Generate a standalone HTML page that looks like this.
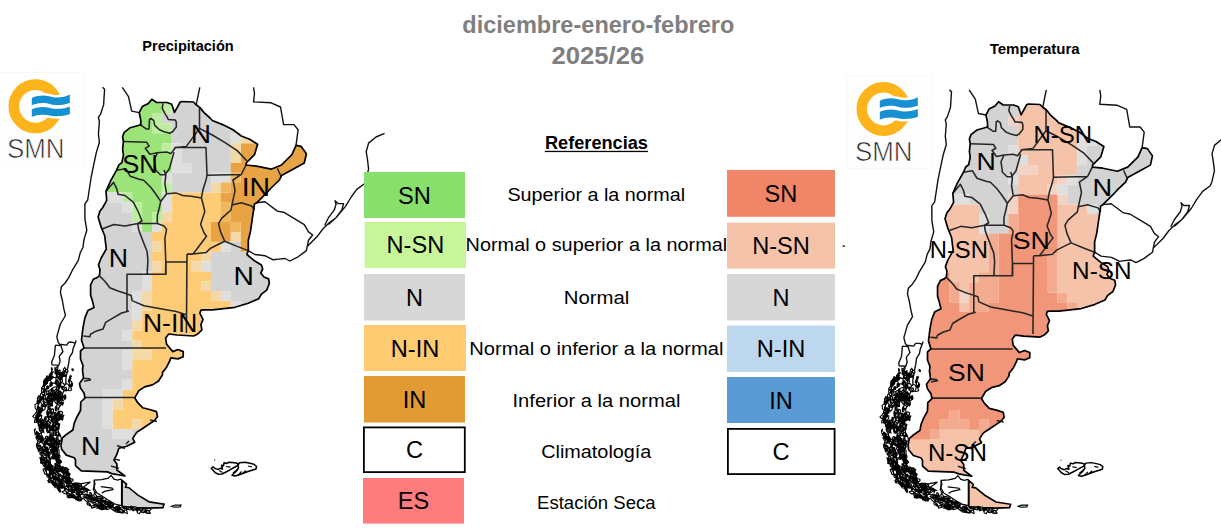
<!DOCTYPE html>
<html><head><meta charset="utf-8"><style>html,body{margin:0;padding:0;background:#fff;overflow:hidden}svg{display:block}text{font-family:"Liberation Sans",sans-serif}</style></head>
<body><svg width="1221" height="530" viewBox="0 0 1221 530"><g transform="translate(0,0)"><defs><clipPath id="clipL"><path d="M139.2,112.6 L142.3,106.6 L148.3,103.6 L151.9,99.2 L156.6,102.5 L167.0,102.5 L171.7,104.3 L174.5,112.4 L180.2,102.0 L182.1,101.5 L193.4,102.0 L196.2,104.8 L200.0,107.6 L203.8,112.4 L210.0,118.0 L212.3,120.5 L222.6,124.6 L233.0,129.8 L241.3,136.0 L249.6,139.2 L257.6,144.3 L254.5,154.7 L246.2,163.0 L246.2,165.0 L256.6,166.1 L271.1,169.2 L281.5,165.0 L291.9,154.7 L296.0,145.4 L301.2,146.4 L306.4,153.7 L304.3,163.0 L293.0,169.2 L281.5,175.5 L279.4,180.0 L271.1,188.0 L267.0,192.5 L256.6,202.8 L254.5,204.0 L252.5,217.4 L250.4,231.9 L248.3,240.2 L248.3,250.6 L246.9,254.5 L254.8,261.1 L261.4,265.1 L262.7,269.0 L260.7,273.0 L264.0,277.0 L268.6,278.9 L269.3,283.5 L266.7,290.1 L261.4,294.1 L258.7,298.7 L248.2,303.3 L235.0,307.3 L212.5,309.9 L204.2,309.9 L200.9,310.1 L199.8,313.2 L203.0,319.4 L200.9,324.6 L201.9,329.8 L197.7,334.0 L193.6,336.0 L177.0,335.0 L168.7,334.0 L165.6,338.1 L166.6,344.3 L172.8,351.6 L178.0,349.5 L183.2,351.6 L183.2,356.8 L178.0,358.9 L170.8,357.8 L169.7,361.0 L166.6,367.2 L162.5,372.4 L162.4,375.0 L158.5,381.0 L152.5,384.9 L144.6,386.9 L138.7,390.8 L134.7,397.8 L137.7,402.7 L142.6,407.7 L150.5,409.7 L156.5,411.6 L157.5,416.6 L154.5,420.5 L142.6,428.5 L136.7,432.4 L132.7,438.4 L134.7,442.3 L126.8,446.3 L118.9,448.3 L116.9,454.2 L113.9,460.1 L116.9,464.1 L116.9,470.0 L124.9,476.0 L111.9,473.6 L107.4,471.9 L81.3,470.8 L75.5,465.7 L75.5,460.0 L74.2,457.7 L66.3,455.1 L61.5,449.0 L61.0,445.0 L62.3,437.9 L67.0,434.0 L72.9,430.0 L74.2,423.4 L76.9,417.0 L80.5,410.5 L80.8,402.0 L85.0,398.0 L84.0,393.0 L80.5,388.0 L79.5,383.5 L83.5,378.0 L82.5,370.0 L83.0,365.5 L80.5,359.0 L80.5,351.0 L84.0,347.9 L81.5,340.0 L82.7,330.0 L83.4,325.5 L84.9,317.9 L87.9,310.4 L94.0,307.4 L92.5,301.3 L90.6,295.0 L90.6,284.9 L93.4,279.2 L97.7,277.2 L99.5,275.5 L100.0,269.6 L98.5,265.1 L100.9,258.5 L104.0,253.0 L106.3,249.0 L104.7,235.8 L100.9,226.4 L98.1,217.0 L100.0,211.0 L102.8,207.5 L106.7,200.4 L106.0,191.3 L110.6,180.8 L116.6,170.2 L118.9,164.9 L121.9,162.6 L123.4,155.1 L122.6,149.1 L123.4,141.5 L122.6,136.8 L124.2,132.3 L130.2,127.7 L140.8,124.7 L140.8,120.2Z"/></clipPath></defs><g clip-path="url(#clipL)"><path d="M53.40,93.93h39.50v9.96h-39.50ZM171.60,93.93h138.00v9.96h-138.00ZM53.40,103.79h39.50v9.96h-39.50ZM171.60,103.79h138.00v9.96h-138.00ZM53.40,113.64h39.50v9.96h-39.50ZM161.75,113.64h147.85v9.96h-147.85ZM53.40,123.50h39.50v9.96h-39.50ZM171.60,123.50h69.05v9.96h-69.05ZM53.40,133.35h39.50v9.96h-39.50ZM171.60,133.35h59.20v9.96h-59.20ZM53.40,143.20h39.50v9.96h-39.50ZM181.45,143.20h49.35v9.96h-49.35ZM53.40,153.06h39.50v9.96h-39.50ZM181.45,153.06h49.35v9.96h-49.35ZM53.40,162.91h39.50v9.96h-39.50ZM191.30,162.91h39.50v9.96h-39.50ZM53.40,172.77h39.50v9.96h-39.50ZM171.60,172.77h39.50v9.96h-39.50ZM53.40,182.62h39.50v9.96h-39.50ZM171.60,182.62h39.50v9.96h-39.50ZM53.40,192.48h39.50v9.96h-39.50ZM53.40,202.33h69.05v9.96h-69.05ZM53.40,212.19h78.90v9.96h-78.90ZM53.40,222.05h78.90v9.96h-78.90ZM53.40,231.90h98.60v9.96h-98.60ZM53.40,241.75h98.60v9.96h-98.60ZM230.70,241.75h9.95v9.96h-9.95ZM53.40,251.61h98.60v9.96h-98.60ZM211.00,251.61h88.75v9.96h-88.75ZM53.40,261.46h98.60v9.96h-98.60ZM211.00,261.46h88.75v9.96h-88.75ZM53.40,271.32h88.75v9.96h-88.75ZM211.00,271.32h88.75v9.96h-88.75ZM53.40,281.18h88.75v9.96h-88.75ZM211.00,281.18h88.75v9.96h-88.75ZM53.40,291.03h78.90v9.96h-78.90ZM230.70,291.03h69.05v9.96h-69.05ZM53.40,300.88h78.90v9.96h-78.90ZM240.55,300.88h59.20v9.96h-59.20ZM53.40,310.74h78.90v9.96h-78.90ZM250.40,310.74h49.35v9.96h-49.35ZM53.40,320.59h78.90v9.96h-78.90ZM250.40,320.59h49.35v9.96h-49.35ZM53.40,330.45h69.05v9.96h-69.05ZM53.40,340.31h78.90v9.96h-78.90ZM53.40,350.16h69.05v9.96h-69.05ZM53.40,360.02h69.05v9.96h-69.05ZM53.40,369.87h78.90v9.96h-78.90ZM53.40,379.72h69.05v9.96h-69.05ZM53.40,389.58h49.35v9.96h-49.35ZM53.40,399.44h49.35v9.96h-49.35ZM53.40,409.29h49.35v9.96h-49.35ZM53.40,419.15h49.35v9.96h-49.35ZM53.40,429.00h59.20v9.96h-59.20ZM132.20,429.00h39.50v9.96h-39.50ZM53.40,438.85h256.20v9.96h-256.20ZM53.40,448.71h256.20v9.96h-256.20ZM53.40,458.56h256.20v9.96h-256.20ZM53.40,468.42h256.20v9.96h-256.20ZM53.40,478.28h256.20v9.96h-256.20ZM53.40,488.13h256.20v9.96h-256.20ZM53.40,497.98h256.20v9.96h-256.20ZM53.40,507.84h256.20v9.96h-256.20Z" fill="#D3D3D3"/><path d="M92.80,93.93h69.05v9.96h-69.05ZM92.80,103.79h69.05v9.96h-69.05ZM92.80,113.64h59.20v9.96h-59.20ZM92.80,123.50h59.20v9.96h-59.20ZM92.80,133.35h78.90v9.96h-78.90ZM92.80,143.20h69.05v9.96h-69.05ZM92.80,153.06h78.90v9.96h-78.90ZM92.80,162.91h78.90v9.96h-78.90ZM92.80,172.77h69.05v9.96h-69.05ZM92.80,182.62h69.05v9.96h-69.05ZM132.20,192.48h29.65v9.96h-29.65ZM142.05,202.33h19.80v9.96h-19.80ZM142.05,212.19h9.95v9.96h-9.95ZM142.05,222.05h9.95v9.96h-9.95Z" fill="#9CE479"/><path d="M161.75,93.93h9.95v9.96h-9.95ZM161.75,103.79h9.95v9.96h-9.95ZM151.90,113.64h9.95v9.96h-9.95ZM151.90,123.50h19.80v9.96h-19.80ZM161.75,143.20h9.95v9.96h-9.95ZM161.75,182.62h9.95v9.96h-9.95ZM122.35,192.48h9.95v9.96h-9.95ZM132.20,202.33h9.95v9.96h-9.95ZM132.20,212.19h9.95v9.96h-9.95ZM151.90,212.19h9.95v9.96h-9.95Z" fill="#BDEEA0"/><path d="M240.55,123.50h19.80v9.96h-19.80ZM171.60,192.48h49.35v9.96h-49.35ZM171.60,202.33h49.35v9.96h-49.35ZM260.25,202.33h49.35v9.96h-49.35ZM171.60,212.19h49.35v9.96h-49.35ZM260.25,212.19h49.35v9.96h-49.35ZM161.75,222.05h49.35v9.96h-49.35ZM260.25,222.05h49.35v9.96h-49.35ZM151.90,231.90h59.20v9.96h-59.20ZM260.25,231.90h49.35v9.96h-49.35ZM161.75,241.75h59.20v9.96h-59.20ZM260.25,241.75h49.35v9.96h-49.35ZM151.90,251.61h49.35v9.96h-49.35ZM299.65,251.61h9.95v9.96h-9.95ZM161.75,261.46h29.65v9.96h-29.65ZM299.65,261.46h9.95v9.96h-9.95ZM151.90,271.32h59.20v9.96h-59.20ZM299.65,271.32h9.95v9.96h-9.95ZM151.90,281.18h49.35v9.96h-49.35ZM299.65,281.18h9.95v9.96h-9.95ZM151.90,291.03h59.20v9.96h-59.20ZM299.65,291.03h9.95v9.96h-9.95ZM151.90,300.88h78.90v9.96h-78.90ZM299.65,300.88h9.95v9.96h-9.95ZM142.05,310.74h108.45v9.96h-108.45ZM299.65,310.74h9.95v9.96h-9.95ZM142.05,320.59h108.45v9.96h-108.45ZM299.65,320.59h9.95v9.96h-9.95ZM132.20,330.45h177.40v9.96h-177.40ZM142.05,340.31h167.55v9.96h-167.55ZM151.90,350.16h157.70v9.96h-157.70ZM132.20,360.02h177.40v9.96h-177.40ZM132.20,369.87h177.40v9.96h-177.40ZM132.20,379.72h177.40v9.96h-177.40ZM122.35,389.58h187.25v9.96h-187.25ZM122.35,399.44h187.25v9.96h-187.25ZM112.50,409.29h197.10v9.96h-197.10ZM112.50,419.15h19.80v9.96h-19.80ZM142.05,419.15h167.55v9.96h-167.55ZM171.60,429.00h138.00v9.96h-138.00Z" fill="#FECB77"/><path d="M260.25,123.50h49.35v9.96h-49.35ZM260.25,133.35h49.35v9.96h-49.35ZM240.55,143.20h69.05v9.96h-69.05ZM240.55,153.06h69.05v9.96h-69.05ZM230.70,162.91h78.90v9.96h-78.90ZM240.55,172.77h69.05v9.96h-69.05ZM230.70,182.62h78.90v9.96h-78.90ZM220.85,192.48h88.75v9.96h-88.75ZM230.70,202.33h29.65v9.96h-29.65ZM230.70,212.19h29.65v9.96h-29.65ZM211.00,222.05h19.80v9.96h-19.80ZM240.55,222.05h19.80v9.96h-19.80ZM211.00,231.90h19.80v9.96h-19.80ZM240.55,231.90h19.80v9.96h-19.80ZM240.55,241.75h19.80v9.96h-19.80Z" fill="#E8A444"/><path d="M230.70,133.35h9.95v9.96h-9.95ZM171.60,143.20h9.95v9.96h-9.95ZM171.60,153.06h9.95v9.96h-9.95ZM171.60,162.91h19.80v9.96h-19.80ZM161.75,172.77h9.95v9.96h-9.95ZM211.00,172.77h19.80v9.96h-19.80ZM92.80,192.48h29.65v9.96h-29.65ZM161.75,192.48h9.95v9.96h-9.95ZM122.35,202.33h9.95v9.96h-9.95ZM161.75,202.33h9.95v9.96h-9.95ZM132.20,222.05h9.95v9.96h-9.95ZM151.90,222.05h9.95v9.96h-9.95ZM220.85,241.75h9.95v9.96h-9.95ZM201.15,261.46h9.95v9.96h-9.95ZM142.05,271.32h9.95v9.96h-9.95ZM142.05,281.18h9.95v9.96h-9.95ZM132.20,291.03h9.95v9.96h-9.95ZM220.85,291.03h9.95v9.96h-9.95ZM132.20,300.88h9.95v9.96h-9.95ZM230.70,300.88h9.95v9.96h-9.95ZM132.20,310.74h9.95v9.96h-9.95ZM122.35,330.45h9.95v9.96h-9.95ZM122.35,350.16h9.95v9.96h-9.95ZM122.35,360.02h9.95v9.96h-9.95ZM122.35,379.72h9.95v9.96h-9.95ZM102.65,389.58h19.80v9.96h-19.80ZM102.65,399.44h9.95v9.96h-9.95ZM102.65,409.29h9.95v9.96h-9.95ZM102.65,419.15h9.95v9.96h-9.95ZM112.50,429.00h19.80v9.96h-19.80Z" fill="#DFDFDF"/><path d="M240.55,133.35h19.80v9.96h-19.80ZM230.70,143.20h9.95v9.96h-9.95ZM230.70,153.06h9.95v9.96h-9.95ZM211.00,182.62h9.95v9.96h-9.95ZM161.75,212.19h9.95v9.96h-9.95ZM230.70,231.90h9.95v9.96h-9.95ZM151.90,241.75h9.95v9.96h-9.95ZM201.15,251.61h9.95v9.96h-9.95ZM151.90,261.46h9.95v9.96h-9.95ZM191.30,261.46h9.95v9.96h-9.95ZM201.15,281.18h9.95v9.96h-9.95ZM142.05,291.03h9.95v9.96h-9.95ZM211.00,291.03h9.95v9.96h-9.95ZM142.05,300.88h9.95v9.96h-9.95ZM132.20,320.59h9.95v9.96h-9.95ZM132.20,340.31h9.95v9.96h-9.95ZM132.20,350.16h19.80v9.96h-19.80ZM112.50,399.44h9.95v9.96h-9.95ZM132.20,419.15h9.95v9.96h-9.95Z" fill="#F3D8A8"/><path d="M230.70,172.77h9.95v9.96h-9.95ZM220.85,182.62h9.95v9.96h-9.95ZM220.85,202.33h9.95v9.96h-9.95ZM220.85,212.19h9.95v9.96h-9.95ZM230.70,222.05h9.95v9.96h-9.95Z" fill="#F2B65C"/></g><path d="M122.1,480.4 L126.6,484.3 L125.5,487.2 L128.9,487.7 L138.0,495.1 L149.3,501.9 L164.0,504.2 L162.9,507.6 L149.3,508.1 L133.4,507.6 L122.1,506.4Z" fill="#D3D3D3" stroke="#000" stroke-width="1.6"/><path d="M163.1,103.4 L162.2,108.2 L164.5,112.9 L166.9,116.6 L168.3,119.5 L175.4,120.0 L176.3,122.3 L176.3,127.0 L172.6,131.7 L169.7,133.2 L164.1,131.7 L159.4,129.8 L154.6,125.1 L153.7,120.4 L150.9,118.5 L149.5,119.5 L149.0,128.9 L146.2,128.9 L139.5,124.2 M199.5,107.6 L199.5,128.4 L212.3,135.0 L224.7,142.3 L237.2,150.6 L247.0,161.0 M199.5,128.4 L186.3,146.4 L174.9,147.5 L206.0,147.5 L207.0,175.3 L241.3,174.4 M123.4,141.5 L146.8,142.3 L149.1,146.0 L145.3,148.3 L149.8,154.3 L157.4,152.8 L166.4,152.1 L170.9,153.6 L175.5,147.5 M157.4,152.8 L154.3,159.6 L155.8,170.2 L160.4,174.7 L164.9,174.7 L169.4,168.7 L174.0,152.1 M164.0,170.0 L165.8,175.1 L164.9,183.6 L166.6,193.8 L160.7,201.4 M116.6,170.2 L125.7,168.7 L130.2,176.2 L139.2,179.2 L143.7,180.2 L150.5,187.0 L155.6,193.8 L160.7,201.4 L159.0,209.0 L157.3,215.8 L157.3,223.5 M166.6,193.8 L175.9,192.9 L182.7,195.5 L191.2,196.3 L201.4,198.0 L203.1,204.0 L204.8,211.6 L200.6,224.3 L204.0,232.8 L206.5,236.2 L196.3,249.8 L192.9,254.1 L187.0,254.1 M207.0,175.3 L206.0,180.0 L202.9,190.0 L201.4,198.0 M192.9,254.1 L206.0,252.6 L210.2,248.5 L218.5,244.3 L224.7,241.2 M241.3,174.4 L246.0,165.0 M241.3,174.4 L233.0,180.0 L235.1,190.4 L232.0,204.9 L231.0,210.0 L221.6,218.4 L218.5,223.6 L220.6,231.9 L224.7,241.2 L237.2,246.4 L248.3,250.6 M232.0,204.9 L241.3,202.8 L251.7,206.0 L254.5,210.0 M277.4,168.2 L281.5,177.5 M106.0,191.3 L113.6,182.3 L116.6,188.3 L118.1,194.3 L125.0,195.5 L133.5,202.3 L138.6,212.5 L142.0,221.0 L137.7,223.5 M157.3,223.5 L137.7,223.5 L125.0,226.0 L114.0,224.6 L102.5,228.8 M157.3,223.5 L164.0,226.0 L166.6,229.4 L164.9,237.9 L165.8,262.0 L165.6,274.2 M137.7,223.5 L138.6,229.4 L141.1,236.2 L143.7,243.0 L147.1,251.5 L147.9,260.0 L147.2,273.4 L148.3,274.2 M127.0,310.8 L127.0,274.2 L166.0,274.2 L166.0,262.0 L187.0,262.0 M187.0,254.1 L186.4,333.0 M100.0,276.4 L105.3,281.7 L109.8,287.7 L117.4,290.8 L126.4,293.8 L131.2,295.5 L132.1,300.6 L144.0,305.7 L159.2,308.6 L176.2,311.5 L187.0,315.1 M128.9,311.0 L121.6,313.0 L112.3,318.3 L105.7,322.3 L103.1,328.9 L96.5,330.9 L90.5,334.2 L89.9,336.8 L83.3,336.1 M83.5,347.9 L166.0,347.9 M85.0,397.4 L134.0,397.4 M83.0,378.3 L89.5,378.8 L90.5,380.0 L84.0,381.2 M150.0,420.0 L157.0,421.5 M117.0,445.5 L125.0,448.5 M111.0,466.0 L119.0,468.5 M114.5,459.2 L120.0,460.2 M126.0,444.0 L129.0,441.0" fill="none" stroke="#262626" stroke-width="1.55" stroke-linejoin="round"/><path d="M102.5,87.3 L104.6,89.3 L103.6,104.9 L100.5,114.2 L98.4,117.4 L99.4,121.5 L98.4,134.0 L99.4,142.3 L96.3,152.6 L93.2,167.2 L91.1,177.5 L87.7,200.0 L84.9,203.8 L84.9,218.9 L86.8,230.2 L84.0,239.6 L83.0,247.2 L80.2,252.8 L78.3,260.4 L72.6,269.8 L68.9,277.4 L65.1,283.0 L61.3,286.8 L60.4,292.5 L62.3,300.0 L63.8,308.7 L65.5,315.5 L60.4,324.0 L56.8,336.6 L58.2,342.3 L59.6,344.2 L66.7,345.1 L68.6,342.3 L72.4,342.3 L75.2,343.2 L73.3,347.9 L72.4,352.6 L69.5,357.4 L68.6,364.0 L67.6,368.7 L66.7,372.5 L65.8,380.0 L66.0,386.0 L62.3,394.3 L59.7,402.3 L58.4,410.2 M55.4,345.1 L61.0,345.6 L62.9,351.7 L59.2,356.4 L60.1,361.1 L58.7,365.4 L52.1,364.9 L51.6,362.0 L54.4,355.5 L55.4,345.1 M75.2,343.2 L76.1,340.4 M122.3,87.3 L128.5,96.6 L131.7,111.1 L139.2,112.6 M199.8,87.3 L196.2,104.8 M253.5,87.3 L254.5,93.5 L253.5,101.8 L271.1,102.8 L280.5,107.0 L283.6,124.6 L294.0,124.6 L298.1,129.8 L296.0,145.4 M256.6,202.8 L264.9,201.8 L277.4,211.1 L283.6,212.2 L294.0,218.4 L304.3,224.6 L308.5,231.9 L312.6,235.0 L308.5,240.2 L306.4,250.6 L298.1,256.8 L289.8,261.0 L285.0,258.5 L278.5,259.1 L273.3,259.8 L265.3,255.8 L254.8,254.5 L248.3,250.6 M307.7,246.0 L317.2,236.6 L322.8,229.0 L328.5,223.4 L336.0,217.7 L345.5,206.4 L351.2,197.0 L356.8,189.4 L364.4,183.8 L366.0,180.0 L368.6,168.8 L367.4,159.0 L366.2,151.7 L368.6,143.1 L376.0,137.0 L384.6,133.3 M324.7,225.3 L328.5,217.7 L334.2,210.2 L336.0,204.5 L335.1,200.8 L337.9,203.6 L343.6,203.6 L341.7,210.2 L336.0,217.7 L328.5,224.4" fill="none" stroke="#111" stroke-width="1.4" stroke-linejoin="round"/><path d="M139.2,112.6 L142.3,106.6 L148.3,103.6 L151.9,99.2 L156.6,102.5 L167.0,102.5 L171.7,104.3 L174.5,112.4 L180.2,102.0 L182.1,101.5 L193.4,102.0 L196.2,104.8 L200.0,107.6 L203.8,112.4 L210.0,118.0 L212.3,120.5 L222.6,124.6 L233.0,129.8 L241.3,136.0 L249.6,139.2 L257.6,144.3 L254.5,154.7 L246.2,163.0 L246.2,165.0 L256.6,166.1 L271.1,169.2 L281.5,165.0 L291.9,154.7 L296.0,145.4 L301.2,146.4 L306.4,153.7 L304.3,163.0 L293.0,169.2 L281.5,175.5 L279.4,180.0 L271.1,188.0 L267.0,192.5 L256.6,202.8 L254.5,204.0 L252.5,217.4 L250.4,231.9 L248.3,240.2 L248.3,250.6 L246.9,254.5 L254.8,261.1 L261.4,265.1 L262.7,269.0 L260.7,273.0 L264.0,277.0 L268.6,278.9 L269.3,283.5 L266.7,290.1 L261.4,294.1 L258.7,298.7 L248.2,303.3 L235.0,307.3 L212.5,309.9 L204.2,309.9 L200.9,310.1 L199.8,313.2 L203.0,319.4 L200.9,324.6 L201.9,329.8 L197.7,334.0 L193.6,336.0 L177.0,335.0 L168.7,334.0 L165.6,338.1 L166.6,344.3 L172.8,351.6 L178.0,349.5 L183.2,351.6 L183.2,356.8 L178.0,358.9 L170.8,357.8 L169.7,361.0 L166.6,367.2 L162.5,372.4 L162.4,375.0 L158.5,381.0 L152.5,384.9 L144.6,386.9 L138.7,390.8 L134.7,397.8 L137.7,402.7 L142.6,407.7 L150.5,409.7 L156.5,411.6 L157.5,416.6 L154.5,420.5 L142.6,428.5 L136.7,432.4 L132.7,438.4 L134.7,442.3 L126.8,446.3 L118.9,448.3 L116.9,454.2 L113.9,460.1 L116.9,464.1 L116.9,470.0 L124.9,476.0 L111.9,473.6 L107.4,471.9 L81.3,470.8 L75.5,465.7 L75.5,460.0 L74.2,457.7 L66.3,455.1 L61.5,449.0 L61.0,445.0 L62.3,437.9 L67.0,434.0 L72.9,430.0 L74.2,423.4 L76.9,417.0 L80.5,410.5 L80.8,402.0 L85.0,398.0 L84.0,393.0 L80.5,388.0 L79.5,383.5 L83.5,378.0 L82.5,370.0 L83.0,365.5 L80.5,359.0 L80.5,351.0 L84.0,347.9 L81.5,340.0 L82.7,330.0 L83.4,325.5 L84.9,317.9 L87.9,310.4 L94.0,307.4 L92.5,301.3 L90.6,295.0 L90.6,284.9 L93.4,279.2 L97.7,277.2 L99.5,275.5 L100.0,269.6 L98.5,265.1 L100.9,258.5 L104.0,253.0 L106.3,249.0 L104.7,235.8 L100.9,226.4 L98.1,217.0 L100.0,211.0 L102.8,207.5 L106.7,200.4 L106.0,191.3 L110.6,180.8 L116.6,170.2 L118.9,164.9 L121.9,162.6 L123.4,155.1 L122.6,149.1 L123.4,141.5 L122.6,136.8 L124.2,132.3 L130.2,127.7 L140.8,124.7 L140.8,120.2Z" fill="none" stroke="#000" stroke-width="1.7" stroke-linejoin="round"/><path d="M38.9,437.5 L38.0,438.6 L36.8,436.1 L37.2,433.9 L37.9,433.1 L38.8,435.1Z M52.9,484.3 L52.7,483.7 L52.5,482.7 L52.7,482.1 L53.1,482.7 L53.4,482.9 L53.4,483.9 L53.4,484.7 L53.1,484.5Z M54.8,476.6 L55.8,475.9 L55.9,474.3 L57.7,475.2 L59.3,477.4 L58.7,478.7 L59.6,481.2 L57.6,479.3 L56.4,478.6Z M104.8,501.7 L103.9,501.6 L103.7,500.8 L105.7,499.9 L106.3,500.7 L105.9,501.3Z M40.9,442.5 L38.7,441.8 L37.2,440.1 L36.3,438.2 L37.5,437.8 L39.0,437.9 L39.9,439.9Z M53.4,441.4 L54.3,441.2 L55.8,442.6 L56.3,445.9 L55.3,447.1 L54.0,446.5 L53.0,444.4 L53.0,442.6Z M67.7,484.1 L65.8,482.8 L64.2,481.9 L63.3,480.0 L64.3,478.6 L66.5,478.7 L67.8,480.9 L69.6,483.2Z M116.1,506.3 L117.0,506.1 L118.4,506.6 L119.3,507.3 L118.2,507.5 L116.5,507.2 L115.8,506.6Z M110.7,506.8 L113.4,507.8 L116.0,509.4 L117.3,511.4 L116.1,512.1 L113.6,510.4 L111.0,508.6Z M54.3,432.4 L53.3,434.8 L52.6,433.7 L51.7,433.0 L52.6,431.0 L53.4,428.6 L54.0,430.2Z M42.6,396.6 L43.1,395.4 L43.5,396.7 L43.4,397.9 L43.4,399.3 L42.8,398.9 L42.2,398.7 L42.2,397.3Z M99.1,507.3 L99.5,506.3 L100.1,505.5 L101.8,505.4 L103.2,506.3 L103.7,507.1 L103.3,507.9 L102.6,509.1 L100.3,508.5Z M69.3,495.2 L70.2,494.6 L70.6,493.8 L72.6,493.9 L74.0,494.7 L74.0,495.3 L74.6,496.2 L72.6,496.1 L71.1,495.7Z M65.9,479.9 L67.9,480.0 L70.2,480.7 L71.6,483.2 L69.3,483.8 L66.9,481.9Z M37.0,422.4 L36.1,420.2 L36.6,417.3 L37.6,416.9 L38.8,416.0 L38.8,418.8 L38.3,421.2Z M90.7,499.0 L91.6,500.0 L91.4,501.0 L90.8,501.2 L90.2,502.0 L89.3,501.0 L88.7,499.8 L89.0,498.9 L89.8,498.8Z M52.8,467.0 L54.0,466.4 L55.1,468.7 L55.2,470.1 L54.6,470.7 L53.4,471.6 L52.2,469.0 L51.7,467.1Z M42.9,428.5 L41.7,429.0 L41.8,427.2 L42.3,425.7 L43.5,424.2 L43.3,426.3Z M53.5,457.5 L53.7,458.4 L53.6,459.0 L52.9,459.0 L52.8,458.1 L52.9,457.6Z M36.8,416.6 L37.3,416.9 L37.1,417.9 L36.8,418.5 L36.3,418.0 L36.4,417.1Z M57.4,469.7 L58.0,468.5 L59.0,467.7 L60.0,469.0 L60.1,470.4 L59.6,471.6 L58.2,471.6Z M53.3,398.6 L53.7,396.9 L55.1,395.1 L56.8,394.7 L58.0,394.8 L58.0,396.0 L57.1,397.5 L55.1,398.5Z M62.1,378.5 L62.6,381.1 L61.3,382.3 L60.1,383.0 L60.2,380.3 L60.4,378.3 L61.1,377.3 L62.2,376.0Z M62.8,484.9 L62.2,484.8 L61.7,484.8 L61.1,484.5 L61.1,484.2 L61.5,484.1 L61.9,484.1 L62.8,484.2 L62.7,484.6Z M72.5,385.3 L71.7,386.7 L70.1,385.2 L69.4,382.2 L69.9,380.3 L71.7,381.9Z M60.8,385.0 L60.7,385.6 L60.4,385.5 L60.1,385.2 L59.9,384.4 L60.2,384.0 L60.5,384.1 L60.9,384.3Z M110.0,507.8 L108.9,507.3 L108.2,506.5 L108.4,505.6 L109.5,504.5 L111.2,505.1 L111.9,505.9 L113.4,507.0 L111.8,508.0Z M48.2,420.2 L48.9,418.1 L50.1,416.5 L51.6,419.2 L50.9,422.8 L49.3,421.9Z M47.6,414.5 L47.8,413.4 L48.4,412.3 L48.7,412.8 L48.9,413.1 L49.1,413.9 L48.4,415.3 L47.8,415.5 L47.7,415.0Z M42.6,439.7 L42.7,440.5 L42.3,441.3 L40.8,440.4 L40.7,439.2 L40.5,438.0 L41.9,438.8Z M56.2,423.4 L56.4,423.9 L56.5,424.6 L56.1,425.2 L55.6,425.6 L55.4,425.0 L55.6,424.3 L55.8,423.9Z M72.3,484.5 L72.3,483.5 L75.4,483.1 L78.8,483.0 L78.6,484.3 L76.2,485.0 L73.2,485.5Z M71.8,491.6 L69.2,490.8 L69.9,489.9 L69.2,488.8 L72.1,489.5 L74.2,489.8 L74.4,490.6 L74.4,491.5Z M50.2,411.3 L50.7,409.6 L51.8,409.5 L52.7,408.8 L53.6,409.5 L53.5,411.4 L52.2,412.3 L51.2,413.7 L50.4,412.8Z M53.0,457.4 L52.7,458.3 L52.0,458.7 L51.5,458.2 L51.1,457.6 L51.7,456.9 L52.0,456.6 L52.4,456.6 L52.7,456.8Z M43.1,427.6 L43.0,426.7 L43.0,425.6 L44.1,424.8 L45.6,424.3 L46.2,425.4 L46.6,426.8 L45.2,428.2 L43.9,427.7Z M47.4,424.6 L48.4,425.8 L47.8,428.5 L47.1,429.9 L46.6,428.1 L46.5,425.2Z M44.9,419.1 L45.0,418.8 L45.3,419.0 L45.4,419.7 L45.4,420.2 L45.3,420.6 L45.0,419.8Z M39.4,424.9 L40.8,423.0 L41.7,423.5 L42.1,425.0 L40.7,426.0 L39.4,426.9Z M53.8,418.2 L53.4,417.8 L53.4,416.5 L53.8,415.6 L54.2,416.6 L54.2,417.6Z M77.7,496.2 L80.1,496.7 L81.5,498.6 L80.1,499.5 L78.3,499.9 L75.9,498.7 L76.8,497.3Z M48.9,463.9 L49.2,462.5 L49.6,461.7 L50.3,461.2 L50.6,462.6 L50.3,463.9 L49.6,464.5Z M101.4,508.5 L100.5,507.9 L100.4,507.1 L101.7,507.5 L102.9,507.7 L103.0,508.6 L102.4,509.0Z M41.5,441.2 L41.1,441.3 L40.8,441.1 L40.3,440.9 L40.5,440.1 L40.8,439.9 L41.2,439.6 L41.6,440.0 L41.6,440.7Z M76.6,490.1 L78.8,490.3 L80.6,490.8 L80.0,491.6 L77.4,491.4 L76.0,490.8Z M74.6,485.5 L75.2,487.0 L75.2,488.1 L74.0,487.2 L73.0,486.1 L72.1,484.4 L73.3,484.6Z M51.3,373.1 L52.3,374.4 L51.1,376.3 L49.8,377.5 L48.9,376.5 L49.5,374.4Z M56.0,443.0 L55.4,443.9 L54.0,443.4 L52.8,440.7 L52.2,438.3 L53.1,438.0 L54.4,438.4 L55.9,441.0Z M76.8,497.9 L76.2,497.8 L75.2,497.1 L74.5,495.8 L75.4,495.9 L76.3,496.9Z M83.1,494.1 L82.5,494.4 L81.6,494.4 L81.1,494.3 L81.3,494.1 L81.6,493.9 L82.5,493.6 L82.9,493.9Z M44.8,459.8 L45.7,460.6 L46.2,461.8 L46.7,463.2 L46.7,465.3 L45.8,465.3 L45.0,465.2 L44.2,463.7 L44.7,462.0Z M51.8,374.6 L51.9,375.5 L51.8,376.8 L50.7,377.5 L49.7,377.4 L48.9,376.9 L49.8,375.5 L50.1,374.2 L51.2,373.9Z M67.4,496.1 L68.4,494.9 L70.7,495.4 L71.9,496.9 L69.7,498.0 L67.2,497.2Z M40.7,411.7 L40.4,411.1 L40.9,409.9 L41.1,408.5 L41.7,408.5 L42.2,408.5 L42.0,409.8 L41.4,410.8Z M53.5,439.4 L53.7,439.9 L53.4,440.1 L53.2,440.3 L52.6,440.4 L52.2,439.8 L52.4,439.4 L52.4,438.8 L53.0,439.0Z M41.4,404.9 L41.8,404.6 L42.4,406.0 L42.2,406.9 L41.6,406.5 L41.3,405.6Z M60.0,463.2 L59.4,464.3 L57.7,463.2 L56.6,462.3 L57.2,461.6 L58.1,461.5 L59.2,462.1Z M60.4,467.9 L59.2,469.8 L57.8,471.0 L56.2,469.9 L55.2,467.5 L56.2,465.1 L57.9,464.8 L59.0,466.1Z M57.9,442.5 L58.8,445.1 L58.1,446.8 L57.4,448.4 L55.7,448.0 L54.3,445.7 L54.7,443.1 L56.1,442.0Z M37.1,437.4 L37.2,438.2 L36.7,438.3 L36.0,437.9 L35.9,437.1 L36.2,436.8Z M91.2,496.1 L90.3,496.1 L89.8,495.5 L89.7,495.0 L90.4,495.0 L91.2,495.1 L92.4,495.7 L91.9,496.0Z M46.2,418.6 L46.2,419.4 L45.7,419.0 L45.4,418.3 L44.8,417.4 L45.1,417.0 L45.7,417.0 L46.1,417.9Z M89.4,496.4 L89.9,497.9 L88.1,498.3 L86.2,497.4 L86.2,496.3 L87.2,495.7Z M49.2,475.3 L49.5,473.3 L50.2,474.3 L50.4,475.7 L50.3,477.1 L50.2,479.4 L49.3,479.1 L49.0,477.6 L48.7,476.4Z M57.7,398.0 L56.1,398.6 L55.7,396.2 L55.9,393.2 L57.6,394.5 L58.7,395.9Z M40.1,398.1 L40.7,398.7 L41.4,399.1 L40.2,401.3 L38.9,403.9 L38.3,402.8 L38.7,400.6Z M60.8,374.6 L61.7,373.7 L62.8,374.7 L62.4,376.8 L61.6,377.9 L60.6,377.8 L60.0,376.1Z M52.0,368.1 L52.4,369.1 L52.1,370.2 L51.7,371.0 L51.5,369.4 L51.5,367.9Z M53.4,456.6 L52.6,455.1 L52.8,453.8 L53.5,453.1 L54.7,454.2 L55.6,455.8 L55.7,457.4 L55.1,458.2 L54.2,458.5Z M54.1,482.1 L54.6,483.1 L54.0,483.6 L52.9,483.5 L51.9,482.5 L51.1,481.3 L51.3,480.4 L52.7,481.0 L53.6,481.2Z M57.7,473.4 L57.2,472.3 L56.8,471.5 L56.9,470.8 L57.3,470.1 L58.0,471.3 L58.2,472.3 L58.2,473.2Z M90.6,506.0 L89.0,505.2 L87.6,504.7 L86.9,503.3 L87.5,502.7 L88.8,503.0 L90.3,504.5Z M51.3,440.2 L50.1,440.0 L49.5,438.0 L51.0,435.8 L52.8,436.0 L53.0,438.0 L52.8,440.2Z M118.3,507.1 L119.2,508.1 L118.3,509.0 L118.4,510.4 L116.7,509.9 L115.3,509.8 L115.3,508.8 L114.9,507.5 L116.8,507.5Z M41.3,439.3 L41.4,437.9 L42.3,438.0 L43.4,439.7 L44.2,442.6 L43.1,444.0 L41.6,441.4Z M48.3,442.9 L49.0,443.8 L49.7,445.2 L48.4,445.0 L47.5,444.6 L47.2,443.6 L47.4,442.7Z M46.3,384.4 L44.5,384.3 L43.5,382.8 L43.6,381.3 L44.2,379.9 L45.6,380.1 L46.3,381.9Z M39.7,431.0 L39.1,428.9 L39.1,427.2 L40.3,427.0 L42.1,429.7 L42.1,431.8 L41.4,433.0Z M44.8,409.3 L42.4,411.0 L41.2,410.5 L41.6,407.9 L43.7,406.0 L45.6,405.9Z M61.1,396.8 L60.3,398.0 L59.3,396.6 L58.9,394.2 L58.9,391.5 L59.8,391.1 L60.5,392.4 L60.9,394.2Z M65.0,481.7 L65.8,480.1 L66.8,479.8 L67.9,480.1 L68.7,482.1 L67.2,482.6 L66.3,482.7Z M57.4,428.9 L55.7,428.4 L55.8,425.8 L56.0,423.6 L57.4,422.7 L58.3,423.2 L59.8,424.0 L58.7,426.4Z M56.3,451.4 L57.0,453.1 L56.7,454.4 L56.1,455.3 L55.2,453.2 L54.7,451.4 L54.7,449.7 L55.6,450.2Z M37.7,409.5 L37.3,407.5 L37.6,406.3 L39.0,408.1 L40.0,410.3 L40.0,412.2 L38.8,411.1Z M48.3,386.1 L48.5,387.1 L48.4,388.4 L47.6,388.1 L46.6,387.8 L47.0,386.1 L47.7,385.8Z M45.7,389.5 L46.3,388.6 L46.9,388.0 L47.8,386.9 L48.4,387.1 L49.1,387.1 L48.2,388.2 L47.3,389.0 L46.4,389.5Z M47.0,475.5 L46.2,472.0 L46.8,469.5 L49.7,470.4 L51.9,473.9 L49.8,475.3Z M63.3,474.5 L64.1,472.8 L64.8,471.6 L66.0,470.6 L66.3,472.8 L66.4,474.3 L66.3,476.1 L65.2,476.5 L64.1,476.4Z M42.7,451.6 L41.9,449.5 L41.7,448.4 L41.9,447.3 L43.4,446.5 L45.2,448.4 L45.2,450.2 L44.8,451.9Z M37.9,402.0 L38.2,403.1 L37.6,403.2 L37.2,402.6 L36.9,401.5 L37.5,401.1Z M53.5,397.5 L54.0,396.6 L54.4,395.9 L55.3,394.8 L56.7,394.8 L56.3,396.2 L56.2,397.0 L55.4,398.2 L54.4,397.7Z M64.2,398.0 L63.9,396.6 L64.4,395.7 L65.1,394.8 L65.8,396.1 L65.9,397.7 L65.5,398.8 L64.8,398.7Z M47.0,431.9 L46.8,430.8 L47.4,430.3 L48.1,431.1 L48.8,431.8 L48.4,432.5 L47.7,432.8Z M64.3,477.0 L65.6,477.5 L66.0,478.3 L65.5,478.9 L64.1,478.3 L62.9,477.8 L62.5,476.8Z M73.2,489.2 L71.3,488.3 L72.4,487.1 L73.1,486.5 L74.3,486.4 L75.0,487.7 L76.2,489.5 L74.6,490.0Z M74.8,489.4 L74.9,488.3 L76.1,488.1 L77.4,488.2 L78.8,488.9 L78.6,489.6 L78.2,490.2 L76.8,489.8Z M56.3,430.7 L57.2,429.7 L58.1,429.7 L58.5,431.5 L58.5,433.8 L57.6,435.9 L56.7,434.6 L56.1,433.0Z M62.2,403.6 L62.6,403.0 L63.4,402.4 L63.2,403.6 L63.0,404.3 L62.4,405.2 L62.1,404.5Z M60.7,481.8 L58.8,483.8 L56.3,483.9 L55.5,480.9 L54.5,478.2 L56.7,477.9 L59.3,478.2Z M55.0,446.6 L54.7,449.4 L52.8,449.1 L51.9,447.1 L51.6,445.3 L52.1,442.6 L54.0,443.9Z M45.2,467.6 L45.5,466.2 L45.9,464.9 L47.0,465.8 L48.2,465.7 L48.0,467.2 L47.6,468.2 L46.9,468.3 L45.8,469.2Z M43.2,448.9 L42.4,447.1 L43.4,446.2 L44.5,446.7 L45.9,446.9 L46.0,448.9 L45.9,450.5 L44.9,451.7 L43.7,450.1Z M59.6,425.3 L59.2,426.1 L58.9,426.4 L58.3,426.5 L58.3,425.4 L58.7,424.8 L59.3,424.4Z M58.9,488.4 L59.6,488.7 L59.2,489.0 L59.2,489.2 L58.8,489.2 L58.2,489.0 L57.7,488.6 L58.1,488.4 L58.4,488.4Z M36.7,415.9 L37.6,415.5 L37.7,417.5 L37.1,418.3 L36.6,418.8 L35.8,418.8 L35.7,417.1 L35.9,415.5Z M51.7,477.5 L51.0,480.0 L49.6,478.2 L48.8,476.8 L49.3,475.1 L50.1,472.6 L51.6,474.2 L52.8,475.9Z M90.3,496.2 L91.7,496.7 L93.0,497.5 L94.0,498.5 L94.6,499.4 L94.1,499.6 L92.9,499.1 L91.3,498.2 L90.4,497.0Z M59.1,485.5 L58.8,484.4 L60.6,484.3 L62.5,485.4 L63.7,486.5 L63.4,487.3 L62.9,488.1 L60.7,487.9 L59.1,486.5Z M65.4,473.5 L63.7,474.3 L61.8,472.2 L61.4,469.9 L62.3,468.8 L64.1,468.5 L65.9,471.3Z M43.6,431.3 L43.8,432.4 L42.7,432.1 L41.9,431.3 L41.8,430.4 L42.5,430.3 L43.4,430.3Z M75.6,488.9 L74.3,487.7 L74.8,486.5 L77.0,486.8 L78.6,486.9 L79.4,487.9 L80.8,489.1 L79.1,489.6 L77.3,489.3Z M55.9,459.8 L56.2,459.3 L56.8,459.1 L57.3,460.1 L57.9,461.0 L57.6,461.8 L57.3,462.5 L56.6,461.7 L56.0,460.9Z M56.7,441.1 L56.4,438.8 L56.9,437.3 L57.6,436.2 L58.0,438.0 L57.6,439.5Z M84.0,492.6 L81.4,492.7 L80.8,491.0 L81.7,489.3 L84.5,489.1 L85.7,490.9Z M57.4,390.7 L58.9,390.2 L58.1,391.9 L57.0,393.1 L55.8,393.5 L55.9,392.2Z M90.9,497.2 L90.2,496.7 L89.3,496.2 L89.1,495.4 L89.7,495.0 L90.8,495.5 L91.1,496.3 L91.5,496.9Z M64.4,469.6 L65.3,470.6 L65.2,472.1 L65.0,473.0 L64.3,473.1 L63.3,471.6 L63.9,470.3Z M96.3,497.9 L96.9,497.9 L98.0,498.6 L98.1,499.3 L97.5,499.3 L96.6,498.8Z M75.8,497.2 L74.8,497.1 L73.5,497.1 L71.9,496.4 L72.9,496.0 L72.9,495.3 L74.6,495.4 L75.4,496.3 L76.3,496.8Z M50.3,482.8 L48.3,482.3 L48.5,481.5 L47.9,480.6 L49.5,480.8 L51.2,480.7 L53.2,481.7 L53.6,482.8 L52.1,483.0Z M50.2,472.4 L50.0,471.6 L50.6,471.3 L51.3,471.4 L51.8,472.0 L51.5,472.5 L51.0,472.9Z M56.9,442.8 L57.6,442.8 L58.5,443.8 L58.5,444.6 L57.7,444.5 L57.0,444.0 L56.7,443.4Z M39.8,430.4 L40.5,426.8 L43.3,424.6 L45.7,425.1 L44.5,428.3 L42.4,430.6Z M57.0,468.4 L57.8,468.0 L58.6,468.4 L59.7,469.7 L58.9,470.9 L57.8,471.2 L57.1,469.8Z M55.2,468.3 L56.2,469.3 L56.8,470.7 L57.1,471.9 L56.1,470.8 L55.1,470.0 L54.8,468.7Z M61.2,397.8 L59.6,396.5 L58.9,395.3 L58.6,392.6 L60.7,391.2 L61.6,393.2 L62.7,395.0Z M49.1,467.7 L48.4,466.9 L48.2,466.1 L48.6,464.7 L50.4,465.8 L51.2,467.0 L50.9,467.8 L50.6,468.8Z M56.5,448.1 L56.9,448.3 L56.8,449.2 L56.4,449.8 L56.0,450.1 L56.0,449.3 L56.1,448.6Z M63.4,396.8 L62.9,398.3 L61.6,399.5 L61.0,399.1 L61.8,397.4 L63.0,396.5Z M70.1,474.2 L70.1,474.7 L69.6,475.0 L69.1,474.4 L68.5,474.1 L68.3,473.4 L68.7,473.0 L69.3,473.2 L69.7,473.6Z M149.4,511.4 L150.4,513.3 L147.7,513.5 L145.5,512.8 L145.0,510.8 L147.5,510.0Z M52.5,420.1 L52.0,421.3 L50.6,420.3 L49.6,419.7 L48.5,418.1 L49.0,416.8 L49.9,415.8 L51.4,416.6 L52.1,418.5Z M47.2,465.2 L47.4,468.0 L44.8,466.9 L43.2,465.4 L42.8,462.8 L45.2,463.6Z M69.4,479.2 L68.6,478.4 L68.2,477.6 L68.8,477.3 L69.5,477.0 L70.0,477.9 L70.0,478.8Z M58.9,419.6 L58.9,418.5 L60.1,418.0 L61.0,418.1 L60.7,419.3 L59.6,420.1Z M44.4,455.3 L43.3,453.7 L42.9,451.5 L44.2,449.4 L46.0,449.6 L46.8,451.7 L46.3,454.4Z M35.0,404.6 L36.5,403.5 L38.1,403.5 L38.3,406.2 L38.8,409.2 L37.0,410.1 L35.2,408.0Z M75.0,490.7 L72.3,489.4 L72.1,487.7 L72.9,486.8 L76.0,488.2 L76.4,490.3Z M45.4,470.4 L46.6,472.9 L46.3,474.5 L44.9,474.0 L43.9,471.5 L43.0,469.8 L43.5,469.1 L44.1,468.4Z M87.6,491.2 L87.5,492.1 L86.3,491.6 L85.8,490.5 L84.9,488.9 L86.5,489.7 L87.6,490.2Z M61.6,373.2 L63.4,372.0 L64.6,373.0 L65.6,375.4 L63.0,376.6 L61.9,375.3Z M54.6,484.3 L55.8,484.8 L55.8,485.5 L56.5,486.3 L55.3,486.0 L54.5,486.3 L53.6,485.6 L53.6,485.0 L54.1,484.8Z M53.7,458.7 L52.7,457.6 L53.3,456.6 L55.3,457.1 L56.1,458.3 L55.0,458.7Z M81.0,488.5 L82.5,489.0 L84.3,489.8 L83.3,491.3 L80.9,492.0 L78.4,492.6 L78.6,490.9 L77.8,490.0 L79.3,489.2Z M62.5,476.1 L63.0,475.8 L64.2,476.2 L65.2,477.1 L65.4,478.1 L63.4,477.1Z M57.9,387.1 L58.4,386.1 L59.4,385.4 L60.1,385.3 L60.5,385.6 L60.3,386.3 L59.8,387.1 L59.0,387.5 L58.6,387.2Z M49.5,443.8 L50.2,444.6 L51.2,445.3 L51.4,446.4 L50.4,446.2 L49.7,446.1 L49.2,445.3 L48.3,444.3 L48.9,444.0Z M59.0,443.1 L58.5,444.1 L58.0,444.1 L57.8,443.8 L58.3,442.9 L58.9,442.5Z M49.0,460.9 L47.9,460.6 L47.2,460.3 L46.4,459.3 L46.6,457.3 L47.7,457.0 L48.5,457.0 L49.8,457.1 L49.0,459.0Z M40.9,463.2 L40.5,462.8 L40.8,461.3 L41.3,460.7 L41.6,461.5 L41.4,463.3Z M93.4,505.6 L95.7,504.9 L98.1,505.1 L99.3,505.8 L98.7,506.8 L96.3,506.8 L94.5,506.6Z M56.2,377.1 L56.3,375.7 L57.6,374.7 L58.9,374.2 L59.6,375.0 L59.4,376.2 L58.6,377.5 L57.2,377.7Z M55.4,399.4 L54.5,400.6 L53.8,398.3 L53.5,396.1 L54.7,395.4 L55.4,397.7Z M51.9,400.8 L52.3,402.0 L52.4,403.5 L52.5,405.9 L51.6,406.0 L51.1,404.3 L50.0,403.3 L50.3,400.7 L51.3,401.0Z M47.3,381.9 L45.8,382.1 L45.9,380.2 L45.5,378.3 L46.9,378.3 L48.2,378.0 L48.1,380.0Z M48.2,395.4 L47.4,393.9 L46.7,392.9 L46.5,390.9 L47.5,391.0 L48.2,391.1 L49.0,392.2 L48.5,393.5Z M38.2,450.5 L38.1,449.7 L37.7,448.6 L38.5,448.3 L39.2,448.1 L39.5,449.1 L40.0,450.0 L39.3,450.5 L38.7,451.1Z M56.6,384.3 L56.2,383.5 L56.3,382.9 L56.6,382.7 L57.0,383.5 L57.0,384.4Z M56.9,421.4 L57.5,420.7 L58.0,421.2 L57.6,422.8 L56.6,423.5 L56.4,422.5Z M56.4,428.7 L56.1,427.2 L55.4,425.2 L56.6,423.5 L58.0,424.3 L59.1,425.2 L59.1,426.9 L59.0,428.8 L57.6,429.5Z M105.3,503.0 L105.8,503.7 L105.8,504.4 L105.0,505.0 L103.9,505.8 L103.5,505.2 L103.0,504.7 L103.9,503.9Z M54.1,475.9 L52.0,474.3 L52.7,472.8 L56.0,473.7 L58.4,476.1 L57.2,477.7Z M42.2,458.0 L43.1,459.9 L44.2,462.2 L43.4,463.0 L43.1,465.0 L41.9,462.0 L40.6,460.6 L40.0,457.8 L41.5,458.7Z M54.0,417.8 L55.1,418.1 L55.2,419.7 L55.5,421.0 L54.7,421.0 L54.0,420.6 L52.6,420.0 L52.7,418.4 L53.1,417.5Z M41.6,388.1 L43.1,388.9 L44.2,389.6 L44.4,391.6 L44.4,394.3 L42.9,395.4 L41.8,393.2 L41.6,390.9Z M51.9,416.8 L51.9,413.5 L53.9,412.7 L55.0,414.3 L55.8,416.8 L53.9,417.0Z M43.7,389.9 L45.0,389.0 L45.6,389.7 L46.0,390.6 L45.1,391.5 L44.0,392.2 L43.2,391.4Z M68.6,472.3 L69.5,473.9 L69.4,475.5 L68.4,475.4 L67.3,474.5 L66.6,472.5 L66.8,470.9 L67.7,470.4Z M59.4,420.1 L57.6,420.2 L58.3,418.0 L59.7,416.4 L61.1,415.9 L60.9,417.6Z M36.9,432.7 L37.0,431.7 L38.2,432.7 L39.3,433.8 L38.5,434.4 L37.5,433.5Z M50.4,392.7 L50.5,393.5 L50.4,394.5 L50.2,395.5 L49.8,395.8 L49.6,395.3 L49.5,394.4 L49.7,393.5 L50.0,392.7Z M89.8,495.3 L90.0,494.3 L89.7,492.8 L90.8,492.6 L91.8,494.3 L92.2,495.6 L92.3,496.6 L91.6,496.6 L90.6,496.9Z M55.7,384.0 L55.7,381.9 L56.4,380.7 L57.4,380.4 L57.9,382.4 L58.5,384.1 L58.3,386.1 L57.3,386.5 L56.6,385.1Z M47.9,379.2 L47.6,378.5 L47.7,377.7 L48.5,377.6 L48.8,378.0 L48.8,378.8Z M39.7,449.7 L38.9,449.5 L37.9,449.3 L38.0,446.9 L38.8,445.7 L39.6,446.0 L40.1,447.7Z M106.9,509.6 L106.1,509.1 L104.6,508.9 L105.8,507.8 L108.3,507.0 L109.8,507.2 L109.6,507.9 L109.3,508.7Z M57.6,366.1 L58.1,366.8 L57.6,369.0 L56.9,370.8 L55.8,372.8 L55.1,372.2 L55.6,369.8 L55.9,367.9 L56.8,367.2Z M54.2,477.3 L54.9,478.2 L54.6,478.7 L54.2,479.3 L53.2,478.5 L52.9,477.3 L52.8,476.4 L53.6,476.8Z M88.1,494.5 L87.6,494.9 L86.4,495.0 L85.7,494.8 L84.7,494.5 L85.8,494.1 L87.4,494.1Z M98.1,506.0 L100.3,506.3 L102.3,506.6 L103.6,508.2 L103.5,509.5 L101.8,509.8 L99.6,509.0 L97.9,507.5Z M64.3,487.8 L65.3,487.0 L65.7,486.0 L67.4,487.2 L68.5,488.2 L69.2,489.5 L67.8,489.4 L66.5,488.9Z M76.9,500.1 L75.7,499.6 L74.9,498.0 L73.9,496.2 L75.1,496.3 L76.4,497.8 L77.5,499.0 L78.1,500.6Z M62.2,386.3 L62.7,386.6 L62.4,387.1 L61.9,387.4 L61.3,387.4 L61.4,386.9Z M51.2,470.5 L51.8,470.4 L53.0,470.9 L53.6,472.1 L52.8,472.2 L51.5,471.6Z M70.1,485.0 L71.2,486.1 L71.6,487.5 L70.7,487.5 L69.7,486.2 L69.1,484.8Z M70.8,497.0 L69.0,496.7 L67.0,495.2 L66.3,493.4 L68.6,493.5 L71.5,494.4 L72.2,496.2 L73.7,498.0Z M60.3,403.0 L60.9,404.4 L60.5,405.9 L59.4,405.9 L58.8,404.6 L59.3,403.6Z M50.1,411.3 L49.7,410.2 L49.5,408.6 L50.0,408.3 L50.6,408.0 L51.1,409.3 L51.5,411.0 L51.1,412.1 L50.6,412.9Z M57.6,394.6 L58.6,395.2 L59.6,396.7 L58.9,399.5 L57.7,400.3 L56.7,400.4 L56.3,398.3 L56.2,395.5Z M56.5,486.3 L55.5,485.9 L55.1,484.9 L54.6,484.0 L54.7,483.0 L55.8,483.3 L56.8,483.5 L56.8,484.6 L56.7,485.3Z M51.3,395.1 L51.2,397.3 L50.9,399.8 L49.6,400.7 L49.1,398.7 L49.6,396.5 L50.3,395.2Z M123.8,507.2 L124.9,507.7 L125.4,508.3 L124.8,508.5 L124.0,508.5 L123.1,508.2 L122.5,507.7 L122.9,507.3Z M57.3,377.4 L57.2,375.6 L57.8,374.1 L58.9,374.7 L59.4,376.1 L59.4,377.8 L58.4,378.5Z M38.0,420.3 L36.4,421.9 L34.6,422.3 L34.7,420.0 L36.3,418.3 L38.0,418.1Z M52.3,436.1 L53.0,436.7 L53.5,437.2 L53.9,438.3 L53.4,438.5 L52.9,438.4 L52.3,437.8 L52.2,436.8Z M44.8,462.1 L44.2,460.5 L45.1,458.6 L46.2,457.8 L47.0,458.7 L47.3,460.6 L46.1,462.4Z M39.8,450.0 L38.7,451.5 L38.4,450.7 L38.5,449.8 L39.4,448.4 L39.9,449.0Z M34.9,414.2 L36.3,412.3 L37.6,413.6 L38.3,416.1 L36.1,417.6 L34.3,417.9 L32.8,416.3Z M76.1,488.8 L73.7,489.1 L71.6,488.5 L70.5,486.9 L71.8,485.3 L73.4,483.6 L76.0,484.0 L77.5,485.3 L77.6,487.2Z M58.1,480.9 L58.4,478.6 L59.2,477.3 L59.6,479.0 L59.9,481.3 L58.8,482.7Z M60.6,399.2 L61.3,398.1 L61.9,398.1 L62.3,398.1 L62.0,398.8 L61.5,399.8 L60.6,400.3 L60.2,400.0Z M50.5,459.9 L50.0,459.8 L49.4,459.7 L49.3,459.0 L49.0,458.3 L49.7,458.6 L50.3,458.5 L50.5,459.4Z M52.6,425.0 L53.4,425.2 L54.2,425.7 L54.5,427.1 L54.2,427.9 L53.8,428.7 L53.2,427.3 L52.7,426.3Z M59.6,419.2 L58.5,418.3 L59.7,415.5 L61.5,414.4 L62.3,415.1 L63.8,415.4 L62.6,418.2 L60.8,418.7Z M56.6,394.8 L57.0,395.9 L56.7,397.4 L55.9,398.3 L55.1,397.9 L54.8,397.1 L54.7,395.7 L55.6,394.3Z M38.4,438.4 L36.3,436.1 L37.1,434.2 L38.3,433.6 L40.0,436.0 L40.0,438.3Z M59.9,419.0 L59.2,416.4 L58.4,413.5 L59.5,413.9 L60.3,414.1 L61.5,416.2 L61.5,418.6 L60.8,418.9Z M94.2,498.1 L95.9,497.4 L97.1,497.8 L97.9,498.6 L95.2,499.1 L93.0,499.6 L92.9,498.8Z M55.1,487.5 L54.2,486.0 L52.7,484.6 L53.9,484.1 L55.2,483.5 L56.7,485.2 L58.0,486.3 L57.5,487.0 L57.0,487.9Z M70.8,377.3 L70.5,377.6 L70.3,377.1 L70.5,376.4 L70.7,375.9 L70.9,375.6 L71.1,375.9 L71.4,376.2 L71.0,376.8Z M41.8,408.2 L42.3,408.4 L42.6,409.6 L42.6,410.5 L42.1,410.0 L41.8,409.1Z M51.2,443.9 L53.1,446.2 L53.1,447.8 L52.6,449.0 L50.8,446.8 L49.9,444.2Z M89.7,499.1 L92.5,498.1 L94.7,498.1 L96.8,499.8 L95.7,502.2 L91.9,501.5Z M58.1,370.8 L59.4,370.0 L60.2,370.2 L59.1,371.5 L58.0,373.1 L57.1,373.0 L57.1,372.1Z M65.4,371.7 L67.1,372.3 L66.6,374.7 L65.8,376.5 L64.3,376.4 L64.0,374.7 L63.5,372.3Z M48.2,469.9 L47.3,467.1 L48.3,465.0 L49.9,465.4 L50.4,468.1 L49.7,469.9Z M55.3,407.8 L55.8,406.4 L56.7,406.4 L56.7,407.7 L56.2,408.6 L55.4,409.0Z M52.4,437.2 L51.8,436.2 L51.8,435.3 L52.2,435.2 L52.7,436.1 L52.8,437.1Z M73.5,369.8 L73.1,370.7 L72.4,370.5 L71.9,369.8 L72.2,368.6 L73.0,369.1Z M51.7,382.7 L50.6,380.9 L50.2,377.9 L52.0,376.1 L53.9,377.3 L56.0,377.9 L55.9,380.8 L55.3,383.4 L53.3,383.1Z M56.1,414.0 L56.9,413.1 L57.5,414.1 L57.1,415.4 L56.9,416.6 L56.2,417.2 L55.7,416.5 L55.6,415.8 L55.6,414.8Z M67.9,478.3 L70.4,478.6 L72.9,479.1 L73.0,480.7 L71.4,481.6 L68.4,480.2Z M61.5,402.2 L61.5,404.1 L60.1,406.0 L58.4,408.0 L56.6,407.8 L56.7,405.5 L57.3,403.4 L58.8,401.1 L60.1,402.2Z M48.5,445.3 L47.4,444.5 L46.6,444.2 L46.1,442.8 L45.3,441.1 L46.0,440.8 L47.1,442.4 L47.8,443.6Z M54.0,451.9 L53.8,451.2 L53.6,450.3 L54.2,449.8 L54.5,450.0 L54.7,450.5 L54.4,451.2Z M57.1,467.5 L55.4,466.0 L54.8,464.3 L55.1,463.4 L56.6,464.1 L58.0,465.7 L59.5,467.5 L59.2,468.4 L58.3,468.2Z M49.2,405.0 L48.0,403.2 L47.2,402.0 L46.8,400.0 L48.1,400.4 L49.1,400.9 L50.1,402.3 L50.5,404.4Z M85.0,489.2 L83.9,489.3 L83.1,488.4 L82.3,487.8 L82.6,487.4 L84.0,487.9 L85.3,488.5 L85.5,489.0Z M58.8,378.4 L59.3,377.5 L59.7,377.2 L60.4,376.9 L61.2,379.2 L60.9,380.3 L60.6,381.0 L59.8,380.1Z M65.4,469.5 L65.1,467.5 L66.0,467.5 L67.1,469.6 L67.9,471.7 L67.8,473.2 L66.8,472.0 L65.9,471.3Z M69.5,380.6 L69.6,381.3 L69.1,381.6 L68.6,381.9 L68.3,381.4 L68.5,380.5 L68.8,379.5 L69.3,379.7 L69.9,379.4Z M69.3,485.9 L70.1,484.4 L70.3,483.1 L72.0,483.5 L73.9,484.3 L75.0,486.3 L73.4,487.2 L71.4,487.6Z M49.2,477.5 L50.1,476.3 L50.7,478.9 L50.1,481.4 L49.2,481.9 L48.6,479.6Z M63.0,389.2 L62.6,389.4 L62.2,389.4 L62.0,388.4 L61.7,387.6 L61.9,387.1 L62.1,386.4 L62.5,387.0 L62.7,388.0Z M133.4,509.3 L132.4,509.0 L131.4,508.9 L130.5,508.2 L130.6,507.8 L131.4,507.9 L132.4,508.1 L132.9,508.6 L133.4,509.0Z M56.6,396.9 L57.3,397.5 L56.7,398.7 L55.9,399.5 L55.4,398.7 L55.3,397.0Z M66.1,472.1 L64.0,470.8 L62.5,469.4 L63.0,468.1 L64.5,467.8 L66.6,467.8 L68.7,469.6 L67.5,471.0Z M55.9,485.9 L54.9,485.1 L54.4,484.0 L55.1,484.0 L56.4,485.0 L56.6,486.1Z M53.9,468.5 L55.2,468.0 L56.0,469.3 L57.1,471.5 L55.5,472.8 L53.9,472.3 L53.6,470.2Z M45.1,460.5 L45.0,461.3 L45.0,461.8 L44.8,462.4 L44.4,462.4 L43.9,462.3 L43.7,461.6 L44.1,460.9 L44.5,461.0Z M62.2,483.5 L62.7,484.5 L62.8,485.8 L62.0,486.1 L61.3,485.3 L61.0,484.3 L60.7,483.1 L61.5,483.1Z M36.5,444.0 L37.3,442.9 L38.3,445.5 L38.1,447.5 L37.6,448.8 L36.5,446.5Z M42.5,420.5 L43.2,421.2 L43.3,422.6 L42.9,424.1 L42.0,425.5 L41.2,425.1 L40.1,424.9 L40.5,422.8 L41.4,420.9Z M50.4,399.3 L51.6,398.6 L52.6,398.3 L53.5,398.5 L53.1,399.8 L51.2,400.7 L49.2,402.3 L49.2,401.2 L49.0,400.5Z M57.0,390.9 L56.6,390.5 L56.3,389.8 L56.6,389.2 L57.1,388.7 L57.4,389.4 L57.8,390.1 L57.4,390.6Z M52.1,416.8 L52.0,414.6 L53.1,413.2 L54.1,412.6 L55.2,413.0 L55.1,414.8 L55.0,417.2 L53.5,416.7Z M53.2,400.7 L52.5,402.4 L51.3,401.0 L50.9,399.2 L51.9,398.7 L53.2,398.5Z M79.3,488.2 L79.8,486.8 L82.3,486.7 L84.2,487.4 L86.3,488.7 L83.6,489.1 L81.2,489.8Z M39.5,413.0 L40.3,414.3 L40.4,415.5 L40.2,416.3 L39.6,416.5 L38.6,415.7 L38.3,414.3 L37.9,412.9 L38.4,412.1Z M59.3,376.3 L58.2,377.1 L56.7,376.2 L56.5,374.1 L56.5,371.8 L58.2,372.1 L59.5,372.4 L60.0,373.9 L60.8,375.8Z M62.4,403.4 L61.6,403.9 L60.7,403.9 L60.1,403.2 L61.0,402.5 L61.7,402.0 L62.3,402.3 L62.5,402.7Z M60.9,414.7 L61.5,414.7 L61.2,415.8 L60.7,416.9 L60.2,416.8 L60.3,415.8Z M58.3,487.1 L59.6,488.5 L60.3,489.8 L60.4,491.4 L59.2,491.3 L58.0,489.7 L57.7,488.1Z M44.6,465.9 L45.8,463.5 L46.7,461.9 L48.4,461.1 L49.5,462.5 L49.0,464.9 L47.7,466.6 L46.0,467.0Z M56.7,457.1 L56.9,455.8 L57.3,456.3 L57.8,457.3 L57.5,458.4 L57.1,458.5Z M39.0,438.8 L40.1,439.0 L39.9,441.0 L39.7,443.1 L38.4,443.6 L37.2,445.7 L37.2,443.7 L37.4,442.4 L37.9,440.7Z M52.4,378.4 L51.0,379.6 L50.8,378.7 L51.7,377.7 L53.0,376.9 L53.0,377.6Z M47.4,459.9 L47.1,461.2 L46.5,461.7 L46.5,460.7 L46.7,459.6 L47.1,459.4Z M56.9,451.4 L55.3,451.6 L54.1,452.0 L53.0,450.6 L51.4,449.3 L51.9,448.0 L52.9,447.0 L54.4,448.6 L55.6,449.5Z M58.0,401.9 L57.5,401.7 L57.3,400.5 L57.5,399.3 L57.9,398.8 L58.4,398.7 L58.8,399.7 L58.5,400.9 L58.3,401.7Z M149.0,513.2 L147.5,513.0 L146.7,512.0 L146.7,511.2 L146.5,509.8 L148.0,510.4 L149.3,511.0 L149.2,512.1Z M41.4,423.6 L42.4,422.1 L43.7,420.7 L44.3,422.5 L45.7,423.9 L44.2,425.5 L42.7,426.8 L41.9,425.1Z M47.4,467.9 L47.6,466.8 L48.7,466.8 L49.0,468.1 L48.5,468.9 L47.8,468.9Z M40.1,420.8 L42.8,419.2 L43.6,422.1 L41.8,424.3 L40.1,426.3 L38.6,424.9 L37.5,422.4Z M43.8,445.3 L44.1,444.2 L44.6,443.8 L44.9,443.7 L45.3,443.9 L44.9,444.9 L44.4,446.1 L44.1,445.7Z M37.9,437.2 L37.0,438.3 L36.0,437.8 L36.6,435.7 L37.1,434.8 L37.7,435.2Z M68.7,489.5 L70.0,489.5 L71.5,490.3 L73.6,491.0 L74.7,492.5 L73.2,492.5 L72.5,493.1 L70.7,491.9 L68.8,490.6Z M104.8,500.5 L104.5,501.5 L101.9,501.7 L100.1,502.4 L97.9,502.1 L97.5,501.2 L99.7,500.6 L100.9,499.7 L102.4,500.4Z M52.1,425.3 L53.7,423.2 L53.9,424.8 L53.7,426.3 L53.2,428.4 L51.6,430.1 L51.2,428.8 L50.4,428.6 L50.8,426.6Z M44.8,380.3 L45.3,378.3 L46.8,378.1 L48.2,378.2 L47.5,380.0 L46.7,380.9 L45.6,381.3Z M57.7,412.6 L58.1,411.4 L58.8,411.1 L59.5,411.2 L59.9,412.2 L59.4,413.6 L58.5,414.3 L58.0,413.4Z M67.0,492.6 L65.9,493.5 L64.7,493.7 L63.6,493.1 L62.1,491.8 L63.8,490.9 L66.0,491.0Z M36.7,421.3 L36.3,420.2 L36.1,419.1 L36.6,419.5 L36.9,419.2 L37.5,420.3 L37.7,421.5 L37.6,422.0 L37.1,421.6Z M58.2,457.6 L58.2,458.3 L57.9,458.6 L57.4,458.6 L57.1,457.8 L57.3,457.1 L57.8,456.7Z M38.2,411.4 L36.9,412.0 L36.3,411.4 L36.8,410.0 L38.4,408.8 L39.1,409.0 L40.3,408.9 L39.7,410.3Z M46.0,467.2 L45.9,468.3 L45.5,467.7 L45.1,466.6 L45.4,466.1 L45.8,466.4Z M55.3,371.0 L55.7,370.1 L56.2,369.5 L56.9,369.2 L57.3,370.4 L56.9,372.2 L56.2,373.7 L55.3,373.8 L54.9,372.6Z M79.3,494.2 L79.2,494.5 L78.5,494.4 L77.6,493.7 L77.1,493.1 L77.4,492.9 L78.0,492.8 L78.9,493.3 L79.6,494.0Z M50.4,438.5 L51.3,438.1 L52.2,439.1 L53.2,440.5 L53.2,442.4 L51.7,442.9 L50.2,441.8 L49.9,440.2 L49.1,438.6Z M40.0,399.6 L38.6,400.8 L37.3,401.1 L37.6,398.9 L39.1,397.6 L39.9,398.0Z M45.7,383.4 L44.5,381.8 L45.0,380.0 L45.4,378.8 L46.4,379.0 L47.1,380.5 L47.7,382.1 L47.4,383.5 L46.6,383.5Z M45.5,381.5 L46.4,382.1 L46.4,383.5 L46.1,384.2 L45.6,384.8 L44.8,383.7 L44.7,382.1Z M41.1,435.6 L42.1,435.8 L43.0,438.0 L42.6,439.2 L42.4,440.0 L41.7,439.7 L40.9,438.3 L40.8,436.8Z M56.9,416.9 L57.1,417.4 L57.2,418.2 L56.6,418.3 L56.2,418.1 L56.1,417.5 L56.3,416.8Z M97.9,504.2 L98.1,502.7 L100.0,503.6 L101.5,504.4 L102.0,506.2 L100.0,505.7 L98.3,505.7Z M58.8,399.1 L57.5,398.9 L58.1,397.1 L58.6,395.2 L59.9,394.8 L60.7,395.7 L61.6,396.6 L61.2,398.7 L59.7,398.9Z M57.3,460.5 L55.5,459.6 L55.7,457.0 L56.3,454.3 L58.3,456.6 L59.1,459.2 L58.3,460.5Z M102.9,500.6 L105.5,501.5 L108.2,502.8 L108.6,505.4 L106.3,506.5 L103.5,506.8 L102.8,504.1 L100.6,501.9Z M59.0,392.9 L59.4,394.2 L59.4,395.8 L58.6,396.8 L57.9,395.6 L57.0,394.0 L57.9,392.4Z M46.9,393.7 L48.1,395.0 L48.3,398.1 L46.0,400.4 L44.8,398.5 L45.5,395.9Z M63.0,418.9 L62.5,420.1 L61.0,418.9 L60.3,417.1 L59.5,415.4 L60.4,415.2 L61.2,415.8 L62.6,416.8Z M55.9,416.5 L55.7,415.8 L55.5,414.8 L55.8,414.3 L56.2,414.2 L56.4,415.1 L56.4,415.8 L56.2,416.2Z M51.2,377.9 L51.7,377.8 L51.7,378.2 L51.4,379.0 L50.7,379.6 L50.3,379.7 L50.1,379.5 L50.2,378.9 L50.7,378.3Z M56.5,480.2 L55.6,480.4 L54.6,480.0 L53.5,479.1 L54.5,478.3 L56.0,478.4 L56.7,479.4Z M139.9,512.5 L139.4,513.7 L137.5,512.9 L136.8,510.9 L135.1,509.0 L136.4,508.4 L137.8,508.3 L139.6,509.6 L141.1,511.7Z M38.9,434.0 L39.7,433.8 L41.3,433.8 L41.3,436.5 L41.8,439.0 L40.3,438.2 L38.9,437.4 L38.4,435.1Z M119.0,512.4 L116.6,512.0 L117.5,510.5 L117.6,508.6 L120.0,508.9 L121.5,509.9 L123.6,511.2 L123.1,513.2 L120.3,512.7Z M69.9,390.8 L68.1,390.6 L68.9,388.0 L69.8,385.4 L70.8,387.6 L71.7,389.7Z M48.0,413.4 L48.0,415.1 L47.5,416.4 L47.1,414.9 L46.9,413.8 L46.7,412.2 L47.1,410.6 L47.7,410.5 L48.1,411.9Z M66.4,481.4 L66.6,482.3 L66.3,482.7 L65.6,482.9 L64.9,481.9 L64.8,480.9 L65.1,480.3 L65.9,480.7Z M44.5,444.5 L45.6,441.3 L46.8,439.1 L48.4,439.1 L48.3,441.1 L46.9,443.1Z M64.3,385.9 L63.1,387.6 L61.7,388.2 L60.8,386.7 L59.3,384.8 L60.7,382.9 L62.2,382.8 L63.8,383.4Z M57.1,387.1 L56.0,389.0 L54.2,391.2 L52.3,390.7 L51.6,390.0 L52.1,388.1 L55.1,386.8Z M42.2,454.5 L42.6,455.9 L41.9,456.2 L40.9,455.1 L39.8,453.8 L40.0,452.6 L40.6,452.4 L41.5,453.5Z M55.9,478.6 L56.7,477.7 L57.6,477.6 L58.7,478.9 L59.4,480.8 L58.2,480.9 L57.1,480.3Z M50.7,429.3 L50.7,430.5 L49.8,431.5 L49.0,431.8 L48.6,431.1 L49.1,429.9 L49.9,429.3Z M75.9,493.6 L76.0,492.9 L76.8,493.0 L77.4,493.9 L78.1,494.8 L77.3,494.9 L76.7,494.9 L76.1,494.3Z M51.3,465.6 L50.5,464.8 L50.8,464.3 L51.5,464.9 L51.9,465.6 L52.0,466.4Z M51.2,390.4 L51.6,388.6 L52.5,388.5 L52.9,388.8 L52.9,390.1 L51.8,391.0 L50.7,392.1Z M56.4,372.1 L55.8,372.1 L55.3,371.5 L55.0,370.4 L54.9,369.4 L54.9,367.7 L55.8,368.3 L56.6,369.5 L56.8,371.3Z M62.0,486.8 L60.3,487.0 L60.0,484.0 L60.0,481.1 L62.2,482.3 L62.7,485.4Z M42.9,455.8 L43.6,456.7 L43.4,457.9 L42.6,458.8 L41.5,459.5 L40.9,458.6 L40.8,457.3 L41.8,456.4Z M49.6,434.9 L50.4,434.3 L51.3,434.6 L51.6,437.0 L51.6,438.9 L51.0,440.3 L49.8,438.1Z M51.0,464.6 L52.8,466.7 L52.6,469.1 L50.9,470.5 L49.2,467.8 L49.6,465.9Z M47.1,403.6 L45.8,405.0 L44.0,404.1 L43.1,401.6 L43.6,399.4 L44.8,399.0 L45.7,398.4 L46.6,399.6 L47.9,401.5Z M64.7,476.4 L63.7,474.9 L63.4,473.3 L63.6,472.6 L64.1,472.3 L65.0,472.9 L66.0,474.8 L66.0,476.3 L65.2,476.0Z M58.6,381.9 L59.1,384.0 L58.2,385.0 L57.1,384.8 L55.9,382.6 L57.3,381.7Z M45.6,464.9 L44.7,464.5 L44.7,462.8 L45.4,461.4 L46.5,461.0 L47.3,462.0 L46.7,463.5 L46.6,464.9Z M144.5,511.9 L144.1,512.5 L143.1,512.6 L141.7,512.2 L141.5,511.2 L142.5,510.9 L143.8,511.0Z M49.8,397.0 L49.0,397.6 L48.8,396.7 L49.2,395.7 L49.6,394.9 L50.3,394.2 L50.5,395.0 L50.5,395.8 L50.3,396.7Z M49.8,435.6 L51.0,436.5 L52.1,438.3 L51.8,440.1 L51.6,442.5 L50.5,439.9 L49.6,437.9Z M45.0,384.7 L44.8,386.3 L44.2,388.3 L41.9,389.4 L42.0,387.5 L43.2,385.6Z M142.3,508.1 L143.9,508.9 L141.9,510.0 L138.6,509.7 L137.1,508.8 L139.9,508.2Z M52.4,445.4 L53.4,442.9 L55.1,441.3 L57.1,441.9 L56.8,444.4 L55.8,446.5 L53.8,447.0Z M126.4,510.2 L127.3,512.1 L127.2,513.5 L124.9,512.5 L124.0,510.7 L124.4,509.8Z M48.3,451.0 L48.9,453.1 L47.6,456.0 L46.4,455.3 L46.0,453.4 L46.3,450.9 L47.6,449.1Z M58.6,445.2 L59.2,446.2 L58.3,448.2 L57.4,449.0 L56.4,450.1 L56.2,448.6 L56.6,447.2 L56.9,445.2 L58.0,444.3Z M68.3,496.0 L68.2,495.0 L69.6,495.5 L70.5,496.7 L70.8,497.7 L70.0,497.6 L69.1,498.0 L68.5,496.7Z M34.7,429.5 L35.1,428.8 L35.3,429.5 L35.0,430.5 L34.5,431.4 L34.3,430.8 L34.3,430.1Z M79.1,490.1 L78.9,490.7 L78.2,490.4 L77.4,490.2 L77.2,489.3 L77.0,488.4 L77.6,488.2 L78.4,488.4 L79.1,489.2Z M59.4,459.0 L60.9,460.7 L61.7,461.9 L60.7,462.8 L58.4,461.1 L57.5,460.1 L56.7,458.5Z M54.4,421.0 L55.2,420.2 L56.0,420.4 L56.2,421.4 L56.3,423.0 L55.2,423.6 L54.6,422.4Z M50.4,426.2 L51.2,427.0 L52.0,427.7 L51.7,429.4 L50.5,430.5 L49.4,430.0 L49.5,428.7 L49.3,427.5Z M99.0,506.1 L98.3,506.3 L97.5,506.3 L97.1,505.8 L97.8,505.3 L98.8,505.1 L99.2,505.4 L99.8,505.7Z M133.0,510.8 L132.4,509.1 L132.3,508.0 L133.4,506.9 L135.6,506.9 L137.4,507.9 L137.2,509.6 L135.1,509.9Z M43.4,426.1 L43.6,424.8 L45.5,423.8 L47.3,422.5 L47.9,423.4 L46.6,425.1 L45.1,426.1 L44.1,426.5Z M63.1,487.5 L61.9,487.1 L60.7,486.2 L60.8,485.4 L62.0,486.0 L62.8,486.6Z M49.0,474.8 L49.6,476.0 L49.2,477.2 L48.2,477.5 L47.0,476.7 L46.8,474.9 L47.8,473.8Z M63.4,470.6 L62.1,468.7 L61.7,467.0 L62.3,466.6 L63.1,466.7 L64.1,468.0 L65.6,469.7 L64.9,470.3 L64.3,470.6Z M51.2,404.1 L49.8,404.8 L49.0,402.6 L47.9,401.1 L47.9,398.5 L49.6,399.0 L50.8,398.5 L52.2,400.0 L52.0,402.4Z M136.4,510.0 L136.3,509.3 L136.3,508.1 L137.6,509.1 L138.1,510.1 L138.0,510.8 L137.2,511.3Z M69.4,478.1 L68.9,478.9 L68.1,478.2 L67.5,477.3 L67.9,476.5 L68.4,476.2 L68.9,476.1 L69.4,476.8 L70.1,477.7Z M58.3,445.6 L57.0,443.2 L57.1,440.3 L58.0,439.5 L59.2,440.6 L59.5,444.0Z M64.8,398.6 L63.9,399.8 L63.1,400.5 L62.1,400.9 L62.5,398.8 L62.8,397.0 L63.8,395.8 L64.4,396.5 L65.0,397.0Z M77.5,492.4 L76.3,491.1 L75.6,489.8 L76.2,488.7 L77.5,489.0 L79.6,490.2 L79.6,492.7Z M78.1,498.0 L80.7,498.0 L82.6,498.4 L81.8,499.6 L81.1,500.8 L78.8,500.9 L77.8,500.2 L76.3,499.4Z M50.2,406.2 L50.7,405.3 L51.0,404.6 L51.4,404.4 L51.6,404.4 L51.9,404.7 L51.2,405.7 L50.7,406.0Z M61.5,443.0 L60.1,444.0 L59.1,444.1 L58.3,443.1 L58.3,441.4 L59.4,440.4 L60.6,441.2Z M81.1,486.5 L80.5,487.0 L79.3,486.9 L77.6,486.3 L76.6,485.1 L77.2,484.6 L78.4,484.5 L79.9,485.4Z M54.2,414.2 L54.6,413.9 L55.4,413.0 L55.1,414.5 L55.2,415.4 L54.8,416.3 L54.3,416.4 L54.0,416.0 L54.0,415.2Z M69.9,376.1 L70.6,376.9 L70.9,378.5 L69.9,379.8 L69.4,378.9 L69.4,377.8Z M66.0,389.9 L65.3,389.9 L64.9,389.5 L64.8,388.8 L64.7,387.6 L65.6,387.2 L66.2,387.3 L66.3,388.2 L66.5,389.0Z M40.1,407.1 L40.8,408.9 L41.3,410.6 L40.6,410.4 L40.0,410.4 L39.3,408.9 L38.7,407.1 L39.5,407.4Z M70.0,485.9 L69.9,486.5 L68.6,487.1 L67.2,487.0 L66.6,486.7 L66.0,486.3 L67.3,485.7 L68.9,485.0 L70.0,485.4Z M64.4,473.0 L63.0,472.9 L61.1,471.7 L59.6,470.4 L60.2,469.9 L61.6,470.5 L62.6,471.0 L63.5,471.8Z M99.2,506.8 L100.0,506.8 L99.8,507.2 L99.0,507.7 L97.9,508.1 L97.1,508.0 L98.0,507.3Z M51.2,394.6 L48.9,393.5 L49.1,390.3 L50.7,389.5 L52.4,389.7 L52.6,392.3Z M85.6,500.7 L83.9,498.9 L83.8,497.3 L85.6,497.9 L87.5,499.7 L88.4,501.8 L87.3,502.1Z M69.6,386.2 L69.1,386.1 L68.6,385.4 L69.1,384.9 L69.3,384.7 L69.7,384.5 L70.2,384.8 L70.2,385.4 L70.1,386.1Z M49.0,417.7 L48.4,420.0 L46.4,421.4 L44.7,422.1 L43.7,421.2 L44.5,419.1 L45.1,416.8 L46.9,416.9 L48.4,416.4Z M61.2,438.1 L61.0,440.6 L59.4,440.8 L58.4,439.6 L57.8,438.3 L57.9,436.7 L58.6,434.9 L60.0,434.5 L60.7,436.4Z M109.5,506.3 L110.9,505.5 L112.3,505.0 L113.6,504.8 L113.0,505.5 L112.1,506.1 L110.7,506.9 L110.2,506.5Z M97.0,496.4 L96.9,497.8 L96.5,498.8 L95.1,497.6 L93.7,496.0 L94.1,494.7 L94.3,493.0 L95.8,494.9Z M59.3,373.0 L60.4,371.9 L62.2,373.5 L62.8,376.6 L62.0,378.1 L60.7,377.6 L59.6,375.5Z M47.6,447.4 L47.5,448.2 L47.2,448.7 L46.4,448.4 L46.5,447.7 L46.7,447.0Z M57.3,456.5 L57.7,454.6 L58.6,454.4 L59.1,455.1 L59.9,455.5 L59.9,457.4 L59.0,457.8 L58.4,459.4 L58.0,457.8Z M56.4,410.5 L55.5,410.8 L55.6,409.6 L55.9,408.6 L56.8,408.3 L57.2,409.2 L56.9,410.1Z M54.4,438.9 L55.3,441.2 L55.2,443.0 L54.7,445.4 L52.8,445.3 L51.9,444.1 L50.2,442.4 L52.1,440.0Z M50.1,453.3 L50.1,454.5 L49.5,455.6 L48.1,454.9 L47.0,453.4 L47.5,452.2 L48.1,451.0 L49.4,452.1Z M55.8,425.2 L54.8,426.3 L54.1,425.3 L53.6,424.8 L52.9,423.8 L54.1,423.0 L55.0,422.1 L56.2,422.4 L56.6,423.8Z M80.5,495.6 L80.2,495.9 L79.5,496.2 L78.9,495.7 L78.4,495.1 L79.4,494.8 L80.3,495.1Z M107.5,503.5 L109.1,503.1 L110.1,502.4 L111.5,502.4 L111.3,503.3 L110.9,503.9 L110.2,504.7 L109.0,504.5 L108.0,504.2Z M92.8,503.4 L91.8,502.6 L92.9,502.5 L94.0,502.3 L95.7,502.9 L96.3,503.7 L95.8,504.1 L95.1,504.3 L93.7,504.1Z M39.4,426.3 L39.8,424.0 L41.1,424.1 L41.6,425.5 L41.2,427.2 L40.2,429.0 L39.0,428.5Z M46.1,425.3 L46.4,421.6 L48.5,421.2 L50.2,423.4 L49.7,426.5 L47.9,427.9Z M38.3,420.1 L37.8,417.4 L39.8,414.9 L41.7,415.2 L41.5,418.0 L40.0,419.6Z M75.5,486.3 L74.6,483.7 L74.9,482.9 L76.1,483.5 L77.5,485.2 L78.1,487.0 L77.6,487.9Z M55.0,430.8 L54.6,430.1 L55.0,430.0 L55.4,430.1 L56.0,430.5 L56.2,431.3 L55.7,431.4 L55.3,431.3Z M51.3,398.1 L51.6,396.1 L51.7,395.0 L52.6,393.2 L54.5,392.5 L55.1,394.0 L54.4,395.7 L53.2,397.4Z M52.6,425.9 L53.9,425.3 L55.6,425.8 L57.3,428.2 L55.8,430.2 L54.3,430.7 L52.3,430.4 L51.5,427.7Z M55.2,446.4 L55.6,447.1 L55.6,447.7 L55.6,448.1 L55.4,448.2 L55.0,447.5 L54.8,446.8 L54.8,446.1Z M67.1,482.8 L68.0,483.3 L68.8,483.9 L68.7,485.2 L68.3,486.9 L67.3,486.2 L66.6,485.4 L66.7,484.2Z M117.7,511.0 L115.9,509.9 L115.4,508.7 L117.6,508.9 L119.1,508.9 L121.3,509.7 L123.1,511.2 L122.4,512.2 L119.9,511.9Z M105.1,505.3 L105.6,507.3 L107.2,509.1 L104.7,509.2 L102.9,509.1 L102.1,507.8 L100.2,506.0 L102.7,505.7Z M127.5,508.7 L127.6,509.4 L127.2,509.6 L126.6,509.3 L125.8,508.6 L126.2,508.3 L126.6,508.0Z M43.6,391.4 L43.9,390.1 L44.8,389.0 L45.6,389.0 L45.7,390.3 L44.8,391.7 L43.8,392.4Z M37.7,416.5 L36.4,416.2 L36.7,414.6 L38.0,413.6 L39.7,413.0 L39.1,415.0Z M105.7,504.3 L104.9,505.5 L102.9,504.8 L101.0,504.4 L100.6,503.2 L102.0,502.2 L104.0,501.9 L106.4,502.1 L105.8,503.4Z M102.6,499.0 L102.4,500.4 L102.2,501.4 L101.2,502.7 L98.8,501.7 L97.4,499.8 L96.7,497.7 L99.3,498.0 L100.8,498.3Z M108.2,503.2 L108.3,504.5 L106.2,504.6 L104.9,503.9 L104.4,503.1 L104.4,502.1 L105.9,501.7 L107.2,502.1 L109.3,502.2Z M61.4,468.5 L61.9,468.8 L62.5,469.9 L62.1,470.7 L61.2,469.9 L60.7,468.5Z M57.9,396.6 L57.2,396.3 L58.4,394.9 L59.5,394.4 L60.6,394.1 L60.1,395.5 L58.7,396.8Z M66.6,488.9 L67.8,490.1 L69.2,491.2 L68.1,492.3 L66.3,491.5 L65.0,490.7 L64.4,489.1Z M67.1,472.4 L68.3,472.8 L69.7,474.3 L69.1,475.6 L68.3,476.0 L66.7,475.6 L65.8,473.1Z M54.6,393.9 L53.8,394.3 L53.2,394.0 L53.5,393.2 L54.0,392.6 L54.5,393.0Z M59.0,463.2 L58.3,461.8 L58.7,460.0 L59.6,459.9 L60.1,461.4 L60.1,463.4Z M59.2,418.1 L60.3,416.8 L61.6,415.6 L61.3,417.5 L61.1,418.8 L60.2,419.3 L59.6,419.1Z M50.2,441.4 L48.1,440.9 L48.3,438.8 L48.6,437.1 L50.6,437.1 L51.0,439.4 L51.3,440.8Z M44.0,457.4 L42.4,455.0 L40.7,452.7 L41.6,451.4 L43.8,453.0 L45.8,454.3 L46.2,456.2 L45.9,457.6Z M58.7,471.0 L55.9,471.5 L54.4,469.4 L55.1,468.0 L57.7,467.6 L60.0,469.5Z M45.2,393.1 L44.2,395.9 L41.5,396.8 L40.0,396.0 L40.8,393.6 L44.0,391.3Z M52.4,447.1 L54.6,446.3 L55.7,448.0 L54.9,451.0 L53.1,451.3 L51.7,450.4Z M50.2,379.5 L49.2,380.8 L48.3,381.0 L48.9,379.1 L49.5,377.7 L50.5,376.5 L51.1,376.7 L51.3,377.8Z M50.1,432.1 L50.3,433.0 L50.2,433.9 L49.8,433.1 L49.5,432.1 L49.7,431.6Z M61.6,475.6 L63.3,476.5 L64.5,478.3 L63.6,478.6 L62.5,478.7 L61.3,477.0 L59.8,475.6 L60.6,475.3Z M46.7,381.9 L46.3,381.9 L46.0,381.4 L46.4,380.2 L46.7,378.8 L47.4,378.0 L47.7,378.7 L47.8,379.6 L47.4,381.2Z M39.4,413.6 L39.7,412.3 L40.6,411.5 L41.7,410.2 L41.9,411.3 L41.6,412.3 L40.9,413.0 L40.3,413.3Z M46.1,464.7 L45.7,462.4 L47.1,461.8 L48.2,462.6 L48.3,465.1 L46.9,465.7Z M65.8,371.3 L65.4,370.1 L65.7,368.9 L66.7,369.6 L67.5,370.0 L68.0,371.3 L67.6,372.5 L66.5,372.7Z M50.7,465.9 L51.4,465.6 L52.6,465.7 L53.6,466.5 L52.7,466.8 L52.0,466.9 L50.5,466.7Z M96.8,499.9 L97.6,498.8 L99.1,498.0 L100.5,498.4 L103.3,498.3 L102.6,500.1 L100.3,500.6 L98.8,501.5 L96.7,501.2Z M51.4,372.3 L51.9,372.7 L51.4,374.2 L51.0,375.1 L50.3,375.9 L50.5,374.3 L50.8,372.7Z M75.3,486.1 L76.2,486.4 L76.8,487.4 L77.1,488.4 L76.5,489.1 L75.4,488.3 L74.6,487.6 L74.3,486.8 L74.3,486.0Z M57.1,381.8 L56.6,381.3 L56.2,380.3 L56.8,379.9 L57.6,379.9 L58.2,381.0 L57.6,381.7Z M54.0,430.3 L53.5,428.0 L54.4,425.3 L56.5,424.1 L58.1,424.8 L57.9,427.6 L55.9,428.6Z M50.3,478.2 L50.6,478.5 L50.7,478.8 L50.6,479.2 L49.9,478.7 L49.3,478.1 L49.6,477.9 L49.8,477.9Z M57.7,401.2 L57.3,404.2 L56.1,403.3 L54.9,402.0 L55.0,398.3 L56.3,396.4 L57.2,398.8Z M47.5,402.9 L48.1,402.8 L48.7,403.2 L49.0,404.4 L48.4,404.5 L47.9,404.0Z M56.0,415.2 L57.0,416.3 L56.8,418.1 L55.9,419.1 L54.9,419.3 L53.5,419.0 L54.1,416.9 L54.0,415.2 L55.0,414.1Z M45.5,444.1 L45.3,445.2 L45.3,446.4 L44.8,446.2 L44.1,446.1 L44.2,444.7 L44.3,443.9 L44.5,442.6 L45.1,442.8Z M87.4,489.0 L89.4,490.3 L86.6,490.4 L84.7,490.1 L81.9,489.3 L84.0,488.5 L86.0,488.1Z M75.1,490.4 L74.8,491.1 L73.8,491.1 L73.0,491.0 L72.6,490.4 L72.6,489.6 L73.5,489.3 L74.6,489.6Z M90.7,505.1 L90.9,506.3 L89.8,505.7 L89.2,504.3 L89.3,503.4 L90.2,504.1Z M51.8,382.6 L52.6,382.9 L52.4,383.9 L52.0,385.6 L50.9,386.0 L50.6,385.4 L50.7,384.5Z M48.6,409.3 L48.0,409.9 L47.9,408.1 L47.9,406.4 L48.5,406.5 L49.0,407.7Z M38.9,421.5 L39.9,420.5 L40.5,420.5 L40.8,420.8 L40.0,422.1 L39.1,422.4 L38.7,422.3Z M112.9,509.6 L114.0,509.0 L115.2,508.8 L115.7,509.3 L116.0,509.8 L115.2,510.6 L113.6,510.6 L113.1,510.1Z M102.1,507.1 L102.7,506.7 L103.2,506.2 L104.0,506.7 L104.3,507.2 L104.2,507.6 L103.5,507.8 L102.9,507.5Z M58.1,402.0 L58.8,402.4 L59.5,403.5 L58.7,404.3 L57.7,404.7 L57.2,403.3 L57.0,401.8Z M112.1,503.3 L112.9,505.3 L110.6,505.2 L108.4,505.0 L106.9,503.1 L107.6,501.6 L110.1,501.8Z M128.9,507.2 L130.9,507.0 L132.5,507.9 L131.1,509.8 L129.4,509.6 L127.7,509.1Z M39.4,446.5 L39.1,445.6 L39.2,445.0 L39.9,445.1 L40.6,445.5 L41.0,446.3 L40.9,446.9 L40.2,446.8Z M78.0,497.4 L78.8,496.8 L79.5,496.6 L80.6,496.8 L81.3,497.7 L82.1,498.8 L81.4,499.4 L80.1,499.8 L78.5,498.7Z M60.7,482.4 L61.6,484.8 L60.0,486.0 L57.8,485.4 L55.4,484.1 L55.3,482.0 L57.7,481.7Z M56.6,420.8 L54.5,421.6 L53.5,421.0 L53.7,419.7 L54.3,417.2 L56.4,417.2 L57.6,418.3Z M113.0,506.3 L111.8,507.2 L109.7,507.0 L108.3,505.7 L108.6,504.4 L109.1,503.4 L110.7,503.5 L112.1,504.0 L113.4,505.0Z M94.9,498.5 L96.7,499.3 L95.6,500.4 L93.3,500.4 L91.1,499.8 L92.2,498.5Z M47.0,425.8 L45.9,424.6 L46.5,423.3 L47.1,422.5 L48.0,423.4 L49.0,424.3 L49.3,426.3 L48.3,426.8 L47.6,427.4Z M52.1,472.2 L51.7,470.7 L53.1,470.7 L54.7,472.6 L55.0,474.5 L53.1,473.4Z M53.6,438.8 L54.2,438.0 L54.6,438.3 L55.2,438.4 L54.8,439.5 L54.3,439.8 L53.7,440.7 L53.6,439.8Z M48.8,468.8 L49.3,466.8 L50.3,468.0 L51.4,469.6 L50.7,471.5 L50.6,473.5 L49.6,473.3 L49.2,470.9Z M59.2,465.3 L59.3,464.8 L59.3,464.4 L59.7,464.7 L60.2,465.3 L60.3,465.9 L60.2,466.3 L59.7,465.9Z M48.1,453.5 L47.6,455.8 L46.3,456.0 L45.6,455.5 L45.4,453.8 L47.0,452.5 L47.9,451.7 L48.9,451.6Z M77.6,483.8 L79.6,483.6 L81.3,484.5 L81.8,486.3 L81.1,487.2 L79.4,486.4Z M118.4,506.7 L120.1,507.2 L121.2,508.0 L120.8,508.7 L119.2,508.1 L118.5,507.5Z M49.3,395.9 L49.9,396.5 L48.9,397.7 L47.6,398.4 L46.8,398.1 L47.5,396.7Z M55.3,381.6 L56.0,381.1 L56.6,381.3 L56.2,382.2 L55.6,382.8 L54.8,382.7Z M80.3,494.7 L78.8,494.0 L79.5,493.2 L80.0,492.4 L81.6,492.9 L82.0,493.5 L81.8,494.1Z M41.1,440.4 L40.2,439.2 L41.0,438.4 L42.2,438.9 L42.9,440.0 L42.5,441.1Z M48.7,444.9 L47.0,443.9 L47.3,441.3 L47.0,439.6 L47.7,437.5 L49.1,439.0 L50.3,439.4 L50.9,441.4 L50.1,443.2Z M43.8,403.5 L46.2,402.0 L48.1,402.8 L47.1,405.4 L45.0,407.1 L43.3,406.1Z M52.5,455.7 L53.5,454.6 L54.4,454.8 L54.6,455.8 L54.8,456.8 L54.2,458.0 L53.1,458.3 L53.1,456.8Z M76.7,488.9 L77.8,489.5 L77.4,489.8 L77.0,490.0 L76.4,489.9 L75.7,489.3 L75.1,488.6 L75.4,488.3 L75.9,488.1Z M51.8,446.8 L52.8,449.9 L51.0,452.8 L48.8,453.7 L48.0,450.6 L49.4,447.7Z M53.5,450.8 L52.3,452.3 L52.0,450.7 L51.8,449.7 L52.4,448.4 L53.4,447.0 L53.7,448.3 L54.3,449.1Z M50.2,449.4 L52.0,450.3 L53.4,453.0 L53.8,455.2 L52.2,454.2 L51.0,452.2Z M59.0,465.7 L61.4,467.1 L62.1,468.8 L62.3,470.4 L59.8,469.8 L57.5,468.7 L56.5,467.0 L57.8,466.5Z M96.1,496.7 L98.5,496.3 L101.6,497.1 L103.0,498.4 L101.0,498.8 L98.6,499.1 L96.1,497.9Z M72.3,384.7 L71.9,385.0 L71.5,385.3 L71.2,384.8 L71.4,384.1 L71.6,383.3 L72.0,383.5 L72.4,383.4 L72.6,383.9Z M52.1,418.7 L54.2,417.4 L55.8,418.0 L57.1,420.7 L55.2,422.1 L52.8,422.7Z M63.2,480.8 L62.9,481.4 L62.0,482.1 L61.0,480.7 L61.6,480.1 L62.6,479.9Z M35.2,434.6 L35.0,433.9 L35.0,433.4 L35.0,432.8 L35.3,433.0 L35.7,432.9 L35.9,433.6 L35.8,434.2 L35.5,434.3Z M40.1,450.6 L39.6,451.1 L38.6,450.8 L37.8,449.7 L38.5,448.9 L38.9,448.3 L39.7,448.2 L40.1,449.1 L40.3,449.9Z M44.5,403.8 L43.9,404.8 L42.4,404.5 L40.8,402.5 L40.8,400.3 L42.2,399.8 L43.7,400.6 L45.1,402.3Z M83.3,496.3 L84.5,495.1 L87.7,494.8 L89.8,496.0 L89.0,497.3 L86.1,497.0Z M119.8,510.5 L119.1,509.3 L121.3,509.2 L123.2,510.1 L124.3,511.2 L123.3,512.3 L120.4,511.9Z M58.4,475.5 L58.4,473.6 L60.3,473.9 L61.6,475.5 L62.9,476.8 L62.4,478.0 L61.6,478.7 L59.9,479.3 L57.9,477.4Z M62.3,400.0 L61.7,402.0 L60.8,403.3 L60.3,401.9 L59.3,401.4 L60.3,399.4 L60.7,397.9 L61.4,398.0 L62.4,397.7Z M43.2,450.6 L43.9,452.7 L43.1,453.3 L41.8,452.5 L40.9,450.5 L40.1,449.0 L40.4,448.3 L41.1,448.2 L42.2,448.9Z M59.9,492.2 L59.1,491.4 L58.3,489.8 L58.4,488.4 L58.7,487.6 L59.4,489.4 L59.9,490.8Z M49.7,445.7 L50.6,445.1 L51.3,445.0 L51.4,445.9 L50.6,446.5 L49.9,446.6Z M91.6,508.0 L91.4,506.2 L93.8,505.0 L96.5,504.9 L96.9,506.4 L94.6,507.4Z M49.3,456.5 L48.8,456.8 L48.6,457.4 L48.3,456.5 L48.0,455.7 L48.3,455.1 L48.6,454.4 L49.1,455.3Z M59.1,452.7 L59.2,455.2 L58.5,456.3 L57.7,454.2 L57.6,452.1 L57.2,449.3 L58.1,449.5 L59.0,449.9Z M47.6,376.4 L48.3,377.1 L47.7,378.1 L46.8,378.5 L46.6,377.5 L46.5,376.6 L47.0,375.8Z M47.7,436.5 L47.2,438.2 L46.2,438.5 L45.5,438.3 L45.5,436.8 L46.7,436.2Z M48.4,468.0 L47.0,467.4 L47.3,466.4 L48.0,465.6 L49.6,466.2 L50.1,467.2 L51.0,468.3 L49.8,468.9Z M53.2,479.1 L53.4,482.2 L51.9,483.4 L51.2,480.8 L50.9,478.2 L52.2,477.3Z M44.7,384.1 L44.7,386.3 L43.9,386.8 L43.3,385.5 L43.6,383.3 L44.1,382.0 L44.6,382.8Z M118.3,506.8 L117.4,506.9 L117.9,506.2 L118.7,505.9 L119.6,505.9 L119.1,506.6Z M150.3,510.3 L147.9,510.8 L144.7,511.3 L145.1,509.7 L145.7,508.3 L148.3,508.4 L151.3,508.7Z M67.8,480.1 L68.0,481.5 L67.2,481.7 L66.7,481.3 L66.3,480.3 L66.8,479.5 L67.4,479.4Z M47.4,412.5 L48.9,411.8 L51.1,413.8 L50.3,416.6 L48.1,417.8 L46.9,414.4Z M37.3,398.6 L38.6,395.8 L40.2,396.9 L41.6,398.8 L40.4,400.6 L38.6,402.2Z M61.1,411.3 L62.6,412.2 L62.1,414.6 L60.2,416.4 L58.3,416.7 L58.2,414.9 L58.4,413.6 L59.2,411.2Z M40.8,421.4 L42.4,422.8 L41.6,425.5 L40.2,426.4 L38.2,425.8 L38.9,422.3Z M55.3,475.9 L57.2,477.4 L56.7,478.7 L55.5,479.2 L53.7,478.1 L53.9,476.7Z M56.8,461.4 L58.1,461.6 L58.9,463.2 L59.6,464.7 L59.3,466.3 L58.1,465.9 L57.3,465.5 L55.9,464.7 L56.2,463.0Z M53.1,475.2 L52.9,475.9 L52.2,475.7 L52.2,474.5 L52.5,473.6 L53.0,474.5Z M53.2,395.9 L54.4,395.7 L54.1,396.9 L53.6,398.0 L52.0,398.9 L51.4,397.6 L52.1,396.3Z M38.0,433.1 L37.3,433.5 L36.4,433.5 L36.2,432.4 L36.5,431.6 L37.5,431.9Z M46.9,429.0 L47.2,430.0 L47.3,430.8 L46.8,431.1 L46.5,430.3 L46.4,429.2Z M52.8,372.7 L52.3,373.2 L51.4,373.6 L51.8,372.7 L52.3,372.1 L53.2,371.8Z M51.4,382.7 L51.8,383.7 L51.2,385.6 L50.2,386.6 L49.8,385.6 L50.1,383.0Z M63.5,368.8 L64.1,368.4 L64.7,367.5 L65.4,368.3 L65.8,369.7 L65.2,370.7 L64.6,371.1 L64.1,370.4 L63.3,370.0Z M111.6,506.9 L111.1,507.7 L110.3,507.8 L109.5,508.0 L109.8,507.2 L110.2,506.7 L110.9,506.6Z M62.8,388.3 L64.3,386.0 L65.7,383.9 L68.0,384.0 L69.3,386.4 L68.5,389.7 L66.2,390.9 L64.0,390.7Z M43.8,459.1 L43.1,460.0 L42.8,460.6 L42.0,461.5 L41.9,460.1 L41.6,459.0 L42.0,457.7 L42.8,457.8 L43.2,458.4Z M131.5,509.1 L130.0,507.9 L130.0,506.9 L131.2,506.2 L133.6,507.1 L134.2,508.4 L133.5,509.2Z M60.2,436.0 L58.7,436.0 L56.7,436.2 L55.3,433.3 L57.0,432.6 L58.2,431.4 L59.6,433.9Z M68.5,479.5 L69.8,479.3 L70.7,480.5 L71.3,481.6 L70.7,482.4 L69.5,481.8 L68.2,480.8Z M62.8,373.6 L63.3,375.8 L62.4,377.7 L61.6,376.6 L61.1,376.1 L60.7,374.6 L61.0,372.3 L61.8,372.5 L62.7,371.5Z M52.7,391.5 L54.7,390.5 L55.2,391.8 L54.9,393.0 L54.2,394.9 L52.0,395.5 L51.2,394.5 L51.8,393.0Z M125.2,507.9 L124.7,507.1 L125.2,506.7 L126.1,506.7 L126.4,507.6 L126.1,508.3Z M60.1,474.8 L60.2,475.5 L59.9,476.0 L59.4,476.0 L59.0,475.5 L58.9,474.9 L58.9,474.3 L59.3,474.2 L59.8,474.2Z M45.8,448.5 L46.9,449.2 L47.8,450.5 L47.5,452.0 L47.0,453.0 L46.3,452.2 L45.8,451.5 L45.6,450.3Z M65.0,489.5 L64.7,488.8 L64.9,488.3 L65.0,487.6 L65.5,488.1 L66.1,488.5 L66.0,489.1 L65.6,489.4Z M61.3,378.5 L60.5,379.1 L60.0,377.9 L60.4,377.2 L61.2,376.6 L61.7,377.7Z M66.4,477.3 L66.3,476.1 L66.7,475.5 L67.2,475.2 L68.0,476.1 L68.2,477.1 L68.8,478.6 L68.0,478.8 L67.2,478.2Z M142.2,510.0 L140.8,510.0 L139.7,509.2 L139.7,508.4 L140.4,507.8 L141.6,508.3 L142.4,508.6 L142.5,509.2Z M43.3,437.8 L44.4,438.8 L45.2,439.7 L45.7,440.7 L45.4,441.4 L44.3,441.3 L43.2,440.0 L42.2,438.8 L42.2,437.7Z M58.1,392.1 L59.5,393.3 L59.7,395.9 L58.8,397.5 L57.3,396.8 L56.6,394.5 L57.3,393.2Z M61.2,479.7 L61.9,481.8 L61.0,483.2 L59.4,482.0 L58.3,480.7 L58.7,478.8Z M52.5,466.2 L52.5,465.5 L52.8,465.6 L53.0,466.0 L52.9,466.7 L52.7,467.4 L52.6,466.7Z M102.3,507.5 L102.5,507.9 L102.4,508.6 L101.2,508.7 L100.3,508.2 L100.8,507.5 L101.6,506.9Z M59.3,388.6 L58.7,389.0 L58.6,388.3 L58.8,387.3 L59.3,385.9 L59.8,386.1 L59.9,387.1Z M62.9,482.7 L64.1,483.6 L64.4,485.5 L63.8,487.1 L62.2,486.1 L61.8,483.9 L61.7,482.2Z M48.5,401.5 L50.2,401.2 L52.1,402.1 L51.1,405.0 L49.5,406.8 L48.0,404.5Z M97.3,506.4 L96.4,505.4 L97.4,504.9 L98.6,504.7 L100.4,504.7 L102.0,505.9 L101.0,506.9 L99.9,507.3 L98.2,507.7Z M54.2,430.2 L56.0,429.0 L55.7,432.7 L55.1,435.3 L54.0,435.2 L53.3,433.4Z" fill="#fff" stroke="#000" stroke-width="1.1"/><path d="M94.2,480.1 L101.7,479.6 L108.3,478.2 L111.1,475.4 L114,479.2 L117.7,480.1 L120.6,479.2 L121.5,480.1 L121.5,505.6 L115,504 L108,500 L102,496 L97,493 L94,488Z" fill="#fff" stroke="#000" stroke-width="1.2"/><path d="M100.8,486.7 L112.1,488.1 L113,489.5 L104.5,491.4 L101.7,493.3 M80,483.9 L90.4,482 L83.8,486.7 M94.2,480.1 L95,484 L93.2,489.5 L96,493.3 M171.5,506.3 L175,505 L181,505.1 L180.2,506.8 L174,507.2Z" fill="none" stroke="#000" stroke-width="1.2"/><path d="M211.3,468.3 L213,466.8 L215,468.5 L218,469.4 L220,468.3 L222.5,469 L221.5,465.2 L223.5,465.8 L224,462.8 L226.5,463.5 L229,462.2 L232,462.5 L236,463 L238.5,463.8 L237,466 L234,467.5 L230,469.8 L226,472 L222,474 L218,474.2 L215,472.5 Z M239.5,462.8 L245,462.3 L250,463.3 L254,464.3 L256.6,466.5 L256,469 L252,470.2 L248,471.5 L244,473 L240,474.5 L235,476 L232,475.2 L236,471.5 L238.5,468 L238,465 Z" fill="#fff" stroke="#000" stroke-width="1.5" stroke-linejoin="round"/><path d="M219,470.5 L222.5,472.5 M226,466.5 L230.5,467.2 M233,473 L237.5,469.5 M238,475.5 L241.5,471.5 M243,473 L246,470.5 M248,466 L252,467 M214.2,459.9 h1" fill="none" stroke="#000" stroke-width="1.2"/></g><text x="122.2" y="172.5" font-family="Liberation Sans" font-size="26" fill="#000" textLength="35.5" lengthAdjust="spacingAndGlyphs">SN</text><text x="190.8" y="143.3" font-family="Liberation Sans" font-size="26" fill="#000" textLength="20.3" lengthAdjust="spacingAndGlyphs">N</text><text x="241.7" y="195.5" font-family="Liberation Sans" font-size="26" fill="#000" textLength="28.4" lengthAdjust="spacingAndGlyphs">IN</text><text x="108.8" y="267.4" font-family="Liberation Sans" font-size="26" fill="#000" textLength="19.3" lengthAdjust="spacingAndGlyphs">N</text><text x="233.4" y="285" font-family="Liberation Sans" font-size="26" fill="#000" textLength="20.4" lengthAdjust="spacingAndGlyphs">N</text><text x="143.0" y="331.5" font-family="Liberation Sans" font-size="26" fill="#000" textLength="54.4" lengthAdjust="spacingAndGlyphs">N-IN</text><text x="81.1" y="454.7" font-family="Liberation Sans" font-size="26" fill="#000" textLength="19.4" lengthAdjust="spacingAndGlyphs">N</text>
<g transform="matrix(0.996,0,0,0.994,847.3,3.1)"><defs><clipPath id="clipR"><path d="M139.2,112.6 L142.3,106.6 L148.3,103.6 L151.9,99.2 L156.6,102.5 L167.0,102.5 L171.7,104.3 L174.5,112.4 L180.2,102.0 L182.1,101.5 L193.4,102.0 L196.2,104.8 L200.0,107.6 L203.8,112.4 L210.0,118.0 L212.3,120.5 L222.6,124.6 L233.0,129.8 L241.3,136.0 L249.6,139.2 L257.6,144.3 L254.5,154.7 L246.2,163.0 L246.2,165.0 L256.6,166.1 L271.1,169.2 L281.5,165.0 L291.9,154.7 L296.0,145.4 L301.2,146.4 L306.4,153.7 L304.3,163.0 L293.0,169.2 L281.5,175.5 L279.4,180.0 L271.1,188.0 L267.0,192.5 L256.6,202.8 L254.5,204.0 L252.5,217.4 L250.4,231.9 L248.3,240.2 L248.3,250.6 L246.9,254.5 L254.8,261.1 L261.4,265.1 L262.7,269.0 L260.7,273.0 L264.0,277.0 L268.6,278.9 L269.3,283.5 L266.7,290.1 L261.4,294.1 L258.7,298.7 L248.2,303.3 L235.0,307.3 L212.5,309.9 L204.2,309.9 L200.9,310.1 L199.8,313.2 L203.0,319.4 L200.9,324.6 L201.9,329.8 L197.7,334.0 L193.6,336.0 L177.0,335.0 L168.7,334.0 L165.6,338.1 L166.6,344.3 L172.8,351.6 L178.0,349.5 L183.2,351.6 L183.2,356.8 L178.0,358.9 L170.8,357.8 L169.7,361.0 L166.6,367.2 L162.5,372.4 L162.4,375.0 L158.5,381.0 L152.5,384.9 L144.6,386.9 L138.7,390.8 L134.7,397.8 L137.7,402.7 L142.6,407.7 L150.5,409.7 L156.5,411.6 L157.5,416.6 L154.5,420.5 L142.6,428.5 L136.7,432.4 L132.7,438.4 L134.7,442.3 L126.8,446.3 L118.9,448.3 L116.9,454.2 L113.9,460.1 L116.9,464.1 L116.9,470.0 L124.9,476.0 L111.9,473.6 L107.4,471.9 L81.3,470.8 L75.5,465.7 L75.5,460.0 L74.2,457.7 L66.3,455.1 L61.5,449.0 L61.0,445.0 L62.3,437.9 L67.0,434.0 L72.9,430.0 L74.2,423.4 L76.9,417.0 L80.5,410.5 L80.8,402.0 L85.0,398.0 L84.0,393.0 L80.5,388.0 L79.5,383.5 L83.5,378.0 L82.5,370.0 L83.0,365.5 L80.5,359.0 L80.5,351.0 L84.0,347.9 L81.5,340.0 L82.7,330.0 L83.4,325.5 L84.9,317.9 L87.9,310.4 L94.0,307.4 L92.5,301.3 L90.6,295.0 L90.6,284.9 L93.4,279.2 L97.7,277.2 L99.5,275.5 L100.0,269.6 L98.5,265.1 L100.9,258.5 L104.0,253.0 L106.3,249.0 L104.7,235.8 L100.9,226.4 L98.1,217.0 L100.0,211.0 L102.8,207.5 L106.7,200.4 L106.0,191.3 L110.6,180.8 L116.6,170.2 L118.9,164.9 L121.9,162.6 L123.4,155.1 L122.6,149.1 L123.4,141.5 L122.6,136.8 L124.2,132.3 L130.2,127.7 L140.8,124.7 L140.8,120.2Z"/></clipPath></defs><g clip-path="url(#clipR)"><path d="M53.40,93.93h118.30v9.96h-118.30ZM230.70,93.93h78.90v9.96h-78.90ZM53.40,103.79h118.30v9.96h-118.30ZM230.70,103.79h78.90v9.96h-78.90ZM53.40,113.64h108.45v9.96h-108.45ZM230.70,113.64h78.90v9.96h-78.90ZM53.40,123.50h118.30v9.96h-118.30ZM230.70,123.50h78.90v9.96h-78.90ZM53.40,133.35h118.30v9.96h-118.30ZM250.40,133.35h59.20v9.96h-59.20ZM53.40,143.20h108.45v9.96h-108.45ZM240.55,143.20h69.05v9.96h-69.05ZM53.40,153.06h118.30v9.96h-118.30ZM240.55,153.06h69.05v9.96h-69.05ZM53.40,162.91h118.30v9.96h-118.30ZM230.70,162.91h78.90v9.96h-78.90ZM53.40,172.77h108.45v9.96h-108.45ZM230.70,172.77h78.90v9.96h-78.90ZM53.40,182.62h118.30v9.96h-118.30ZM220.85,182.62h88.75v9.96h-88.75ZM92.80,192.48h9.95v9.96h-9.95ZM122.35,192.48h39.50v9.96h-39.50ZM220.85,192.48h88.75v9.96h-88.75ZM132.20,202.33h29.65v9.96h-29.65ZM250.40,202.33h59.20v9.96h-59.20ZM142.05,212.19h19.80v9.96h-19.80ZM142.05,222.05h19.80v9.96h-19.80Z" fill="#D3D3D3"/><path d="M171.60,93.93h59.20v9.96h-59.20ZM171.60,103.79h59.20v9.96h-59.20ZM171.60,113.64h59.20v9.96h-59.20ZM171.60,123.50h59.20v9.96h-59.20ZM171.60,133.35h59.20v9.96h-59.20ZM171.60,143.20h59.20v9.96h-59.20ZM181.45,153.06h49.35v9.96h-49.35ZM191.30,162.91h39.50v9.96h-39.50ZM171.60,172.77h39.50v9.96h-39.50ZM171.60,182.62h29.65v9.96h-29.65ZM92.80,202.33h39.50v9.96h-39.50ZM211.00,202.33h29.65v9.96h-29.65ZM92.80,212.19h39.50v9.96h-39.50ZM211.00,212.19h98.60v9.96h-98.60ZM92.80,222.05h39.50v9.96h-39.50ZM211.00,222.05h98.60v9.96h-98.60ZM92.80,231.90h49.35v9.96h-49.35ZM211.00,231.90h98.60v9.96h-98.60ZM92.80,241.75h49.35v9.96h-49.35ZM211.00,241.75h98.60v9.96h-98.60ZM92.80,251.61h49.35v9.96h-49.35ZM211.00,251.61h98.60v9.96h-98.60ZM92.80,261.46h49.35v9.96h-49.35ZM211.00,261.46h98.60v9.96h-98.60ZM102.65,271.32h29.65v9.96h-29.65ZM211.00,271.32h98.60v9.96h-98.60ZM112.50,281.18h9.95v9.96h-9.95ZM211.00,281.18h98.60v9.96h-98.60ZM220.85,291.03h88.75v9.96h-88.75ZM112.50,300.88h9.95v9.96h-9.95ZM230.70,300.88h78.90v9.96h-78.90ZM230.70,310.74h78.90v9.96h-78.90ZM230.70,320.59h78.90v9.96h-78.90ZM230.70,330.45h78.90v9.96h-78.90ZM230.70,340.31h78.90v9.96h-78.90ZM230.70,350.16h78.90v9.96h-78.90ZM230.70,360.02h78.90v9.96h-78.90ZM230.70,369.87h78.90v9.96h-78.90ZM230.70,379.72h78.90v9.96h-78.90ZM230.70,389.58h78.90v9.96h-78.90ZM230.70,399.44h78.90v9.96h-78.90ZM230.70,409.29h78.90v9.96h-78.90ZM230.70,419.15h78.90v9.96h-78.90ZM92.80,429.00h39.50v9.96h-39.50ZM142.05,429.00h29.65v9.96h-29.65ZM230.70,429.00h78.90v9.96h-78.90ZM53.40,438.85h256.20v9.96h-256.20ZM53.40,448.71h256.20v9.96h-256.20ZM53.40,458.56h256.20v9.96h-256.20ZM53.40,468.42h256.20v9.96h-256.20ZM53.40,478.28h256.20v9.96h-256.20ZM53.40,488.13h256.20v9.96h-256.20ZM53.40,497.98h256.20v9.96h-256.20ZM53.40,507.84h256.20v9.96h-256.20Z" fill="#F5C3AA"/><path d="M161.75,113.64h9.95v9.96h-9.95ZM171.60,162.91h19.80v9.96h-19.80ZM211.00,172.77h9.95v9.96h-9.95ZM201.15,182.62h9.95v9.96h-9.95ZM161.75,192.48h9.95v9.96h-9.95ZM211.00,192.48h9.95v9.96h-9.95ZM161.75,202.33h9.95v9.96h-9.95ZM112.50,291.03h9.95v9.96h-9.95Z" fill="#F3D3C5"/><path d="M230.70,133.35h19.80v9.96h-19.80ZM161.75,143.20h9.95v9.96h-9.95ZM230.70,143.20h9.95v9.96h-9.95ZM171.60,153.06h9.95v9.96h-9.95ZM230.70,153.06h9.95v9.96h-9.95ZM161.75,172.77h9.95v9.96h-9.95ZM220.85,172.77h9.95v9.96h-9.95ZM211.00,182.62h9.95v9.96h-9.95ZM102.65,192.48h19.80v9.96h-19.80ZM240.55,202.33h9.95v9.96h-9.95ZM132.20,212.19h9.95v9.96h-9.95ZM132.20,222.05h9.95v9.96h-9.95Z" fill="#DFDFDF"/><path d="M53.40,192.48h39.50v9.96h-39.50ZM171.60,192.48h39.50v9.96h-39.50ZM53.40,202.33h39.50v9.96h-39.50ZM171.60,202.33h39.50v9.96h-39.50ZM53.40,212.19h39.50v9.96h-39.50ZM171.60,212.19h39.50v9.96h-39.50ZM53.40,222.05h39.50v9.96h-39.50ZM171.60,222.05h39.50v9.96h-39.50ZM53.40,231.90h39.50v9.96h-39.50ZM151.90,231.90h59.20v9.96h-59.20ZM53.40,241.75h39.50v9.96h-39.50ZM151.90,241.75h59.20v9.96h-59.20ZM53.40,251.61h39.50v9.96h-39.50ZM151.90,251.61h49.35v9.96h-49.35ZM53.40,261.46h39.50v9.96h-39.50ZM151.90,261.46h49.35v9.96h-49.35ZM53.40,271.32h49.35v9.96h-49.35ZM151.90,271.32h49.35v9.96h-49.35ZM53.40,281.18h49.35v9.96h-49.35ZM151.90,281.18h49.35v9.96h-49.35ZM53.40,291.03h49.35v9.96h-49.35ZM151.90,291.03h59.20v9.96h-59.20ZM53.40,300.88h59.20v9.96h-59.20ZM142.05,300.88h78.90v9.96h-78.90ZM53.40,310.74h177.40v9.96h-177.40ZM53.40,320.59h177.40v9.96h-177.40ZM53.40,330.45h177.40v9.96h-177.40ZM53.40,340.31h177.40v9.96h-177.40ZM53.40,350.16h177.40v9.96h-177.40ZM53.40,360.02h177.40v9.96h-177.40ZM53.40,369.87h177.40v9.96h-177.40ZM53.40,379.72h177.40v9.96h-177.40ZM53.40,389.58h177.40v9.96h-177.40ZM53.40,399.44h177.40v9.96h-177.40ZM53.40,409.29h49.35v9.96h-49.35ZM112.50,409.29h118.30v9.96h-118.30ZM53.40,419.15h39.50v9.96h-39.50ZM122.35,419.15h9.95v9.96h-9.95ZM142.05,419.15h88.75v9.96h-88.75ZM53.40,429.00h29.65v9.96h-29.65ZM171.60,429.00h59.20v9.96h-59.20Z" fill="#F19679"/><path d="M161.75,212.19h9.95v9.96h-9.95ZM161.75,222.05h9.95v9.96h-9.95ZM142.05,231.90h9.95v9.96h-9.95ZM142.05,241.75h9.95v9.96h-9.95ZM142.05,251.61h9.95v9.96h-9.95ZM201.15,251.61h9.95v9.96h-9.95ZM142.05,261.46h9.95v9.96h-9.95ZM201.15,261.46h9.95v9.96h-9.95ZM132.20,271.32h19.80v9.96h-19.80ZM201.15,271.32h9.95v9.96h-9.95ZM102.65,281.18h9.95v9.96h-9.95ZM122.35,281.18h29.65v9.96h-29.65ZM201.15,281.18h9.95v9.96h-9.95ZM102.65,291.03h9.95v9.96h-9.95ZM122.35,291.03h29.65v9.96h-29.65ZM211.00,291.03h9.95v9.96h-9.95ZM122.35,300.88h19.80v9.96h-19.80ZM220.85,300.88h9.95v9.96h-9.95ZM102.65,409.29h9.95v9.96h-9.95ZM92.80,419.15h29.65v9.96h-29.65ZM132.20,419.15h9.95v9.96h-9.95ZM82.95,429.00h9.95v9.96h-9.95ZM132.20,429.00h9.95v9.96h-9.95Z" fill="#F3AB8F"/></g><path d="M122.1,480.4 L126.6,484.3 L125.5,487.2 L128.9,487.7 L138.0,495.1 L149.3,501.9 L164.0,504.2 L162.9,507.6 L149.3,508.1 L133.4,507.6 L122.1,506.4Z" fill="#F5C3AA" stroke="#000" stroke-width="1.6"/><path d="M163.1,103.4 L162.2,108.2 L164.5,112.9 L166.9,116.6 L168.3,119.5 L175.4,120.0 L176.3,122.3 L176.3,127.0 L172.6,131.7 L169.7,133.2 L164.1,131.7 L159.4,129.8 L154.6,125.1 L153.7,120.4 L150.9,118.5 L149.5,119.5 L149.0,128.9 L146.2,128.9 L139.5,124.2 M199.5,107.6 L199.5,128.4 L212.3,135.0 L224.7,142.3 L237.2,150.6 L247.0,161.0 M199.5,128.4 L186.3,146.4 L174.9,147.5 L206.0,147.5 L207.0,175.3 L241.3,174.4 M123.4,141.5 L146.8,142.3 L149.1,146.0 L145.3,148.3 L149.8,154.3 L157.4,152.8 L166.4,152.1 L170.9,153.6 L175.5,147.5 M157.4,152.8 L154.3,159.6 L155.8,170.2 L160.4,174.7 L164.9,174.7 L169.4,168.7 L174.0,152.1 M164.0,170.0 L165.8,175.1 L164.9,183.6 L166.6,193.8 L160.7,201.4 M116.6,170.2 L125.7,168.7 L130.2,176.2 L139.2,179.2 L143.7,180.2 L150.5,187.0 L155.6,193.8 L160.7,201.4 L159.0,209.0 L157.3,215.8 L157.3,223.5 M166.6,193.8 L175.9,192.9 L182.7,195.5 L191.2,196.3 L201.4,198.0 L203.1,204.0 L204.8,211.6 L200.6,224.3 L204.0,232.8 L206.5,236.2 L196.3,249.8 L192.9,254.1 L187.0,254.1 M207.0,175.3 L206.0,180.0 L202.9,190.0 L201.4,198.0 M192.9,254.1 L206.0,252.6 L210.2,248.5 L218.5,244.3 L224.7,241.2 M241.3,174.4 L246.0,165.0 M241.3,174.4 L233.0,180.0 L235.1,190.4 L232.0,204.9 L231.0,210.0 L221.6,218.4 L218.5,223.6 L220.6,231.9 L224.7,241.2 L237.2,246.4 L248.3,250.6 M232.0,204.9 L241.3,202.8 L251.7,206.0 L254.5,210.0 M277.4,168.2 L281.5,177.5 M106.0,191.3 L113.6,182.3 L116.6,188.3 L118.1,194.3 L125.0,195.5 L133.5,202.3 L138.6,212.5 L142.0,221.0 L137.7,223.5 M157.3,223.5 L137.7,223.5 L125.0,226.0 L114.0,224.6 L102.5,228.8 M157.3,223.5 L164.0,226.0 L166.6,229.4 L164.9,237.9 L165.8,262.0 L165.6,274.2 M137.7,223.5 L138.6,229.4 L141.1,236.2 L143.7,243.0 L147.1,251.5 L147.9,260.0 L147.2,273.4 L148.3,274.2 M127.0,310.8 L127.0,274.2 L166.0,274.2 L166.0,262.0 L187.0,262.0 M187.0,254.1 L186.4,333.0 M100.0,276.4 L105.3,281.7 L109.8,287.7 L117.4,290.8 L126.4,293.8 L131.2,295.5 L132.1,300.6 L144.0,305.7 L159.2,308.6 L176.2,311.5 L187.0,315.1 M128.9,311.0 L121.6,313.0 L112.3,318.3 L105.7,322.3 L103.1,328.9 L96.5,330.9 L90.5,334.2 L89.9,336.8 L83.3,336.1 M83.5,347.9 L166.0,347.9 M85.0,397.4 L134.0,397.4 M83.0,378.3 L89.5,378.8 L90.5,380.0 L84.0,381.2 M150.0,420.0 L157.0,421.5 M117.0,445.5 L125.0,448.5 M111.0,466.0 L119.0,468.5 M114.5,459.2 L120.0,460.2 M126.0,444.0 L129.0,441.0" fill="none" stroke="#262626" stroke-width="1.55" stroke-linejoin="round"/><path d="M102.5,87.3 L104.6,89.3 L103.6,104.9 L100.5,114.2 L98.4,117.4 L99.4,121.5 L98.4,134.0 L99.4,142.3 L96.3,152.6 L93.2,167.2 L91.1,177.5 L87.7,200.0 L84.9,203.8 L84.9,218.9 L86.8,230.2 L84.0,239.6 L83.0,247.2 L80.2,252.8 L78.3,260.4 L72.6,269.8 L68.9,277.4 L65.1,283.0 L61.3,286.8 L60.4,292.5 L62.3,300.0 L63.8,308.7 L65.5,315.5 L60.4,324.0 L56.8,336.6 L58.2,342.3 L59.6,344.2 L66.7,345.1 L68.6,342.3 L72.4,342.3 L75.2,343.2 L73.3,347.9 L72.4,352.6 L69.5,357.4 L68.6,364.0 L67.6,368.7 L66.7,372.5 L65.8,380.0 L66.0,386.0 L62.3,394.3 L59.7,402.3 L58.4,410.2 M55.4,345.1 L61.0,345.6 L62.9,351.7 L59.2,356.4 L60.1,361.1 L58.7,365.4 L52.1,364.9 L51.6,362.0 L54.4,355.5 L55.4,345.1 M75.2,343.2 L76.1,340.4 M122.3,87.3 L128.5,96.6 L131.7,111.1 L139.2,112.6 M199.8,87.3 L196.2,104.8 M253.5,87.3 L254.5,93.5 L253.5,101.8 L271.1,102.8 L280.5,107.0 L283.6,124.6 L294.0,124.6 L298.1,129.8 L296.0,145.4 M256.6,202.8 L264.9,201.8 L277.4,211.1 L283.6,212.2 L294.0,218.4 L304.3,224.6 L308.5,231.9 L312.6,235.0 L308.5,240.2 L306.4,250.6 L298.1,256.8 L289.8,261.0 L285.0,258.5 L278.5,259.1 L273.3,259.8 L265.3,255.8 L254.8,254.5 L248.3,250.6 M307.7,246.0 L317.2,236.6 L322.8,229.0 L328.5,223.4 L336.0,217.7 L345.5,206.4 L351.2,197.0 L356.8,189.4 L364.4,183.8 L366.0,180.0 L368.6,168.8 L367.4,159.0 L366.2,151.7 L368.6,143.1 L376.0,137.0 L384.6,133.3 M324.7,225.3 L328.5,217.7 L334.2,210.2 L336.0,204.5 L335.1,200.8 L337.9,203.6 L343.6,203.6 L341.7,210.2 L336.0,217.7 L328.5,224.4" fill="none" stroke="#111" stroke-width="1.4" stroke-linejoin="round"/><path d="M139.2,112.6 L142.3,106.6 L148.3,103.6 L151.9,99.2 L156.6,102.5 L167.0,102.5 L171.7,104.3 L174.5,112.4 L180.2,102.0 L182.1,101.5 L193.4,102.0 L196.2,104.8 L200.0,107.6 L203.8,112.4 L210.0,118.0 L212.3,120.5 L222.6,124.6 L233.0,129.8 L241.3,136.0 L249.6,139.2 L257.6,144.3 L254.5,154.7 L246.2,163.0 L246.2,165.0 L256.6,166.1 L271.1,169.2 L281.5,165.0 L291.9,154.7 L296.0,145.4 L301.2,146.4 L306.4,153.7 L304.3,163.0 L293.0,169.2 L281.5,175.5 L279.4,180.0 L271.1,188.0 L267.0,192.5 L256.6,202.8 L254.5,204.0 L252.5,217.4 L250.4,231.9 L248.3,240.2 L248.3,250.6 L246.9,254.5 L254.8,261.1 L261.4,265.1 L262.7,269.0 L260.7,273.0 L264.0,277.0 L268.6,278.9 L269.3,283.5 L266.7,290.1 L261.4,294.1 L258.7,298.7 L248.2,303.3 L235.0,307.3 L212.5,309.9 L204.2,309.9 L200.9,310.1 L199.8,313.2 L203.0,319.4 L200.9,324.6 L201.9,329.8 L197.7,334.0 L193.6,336.0 L177.0,335.0 L168.7,334.0 L165.6,338.1 L166.6,344.3 L172.8,351.6 L178.0,349.5 L183.2,351.6 L183.2,356.8 L178.0,358.9 L170.8,357.8 L169.7,361.0 L166.6,367.2 L162.5,372.4 L162.4,375.0 L158.5,381.0 L152.5,384.9 L144.6,386.9 L138.7,390.8 L134.7,397.8 L137.7,402.7 L142.6,407.7 L150.5,409.7 L156.5,411.6 L157.5,416.6 L154.5,420.5 L142.6,428.5 L136.7,432.4 L132.7,438.4 L134.7,442.3 L126.8,446.3 L118.9,448.3 L116.9,454.2 L113.9,460.1 L116.9,464.1 L116.9,470.0 L124.9,476.0 L111.9,473.6 L107.4,471.9 L81.3,470.8 L75.5,465.7 L75.5,460.0 L74.2,457.7 L66.3,455.1 L61.5,449.0 L61.0,445.0 L62.3,437.9 L67.0,434.0 L72.9,430.0 L74.2,423.4 L76.9,417.0 L80.5,410.5 L80.8,402.0 L85.0,398.0 L84.0,393.0 L80.5,388.0 L79.5,383.5 L83.5,378.0 L82.5,370.0 L83.0,365.5 L80.5,359.0 L80.5,351.0 L84.0,347.9 L81.5,340.0 L82.7,330.0 L83.4,325.5 L84.9,317.9 L87.9,310.4 L94.0,307.4 L92.5,301.3 L90.6,295.0 L90.6,284.9 L93.4,279.2 L97.7,277.2 L99.5,275.5 L100.0,269.6 L98.5,265.1 L100.9,258.5 L104.0,253.0 L106.3,249.0 L104.7,235.8 L100.9,226.4 L98.1,217.0 L100.0,211.0 L102.8,207.5 L106.7,200.4 L106.0,191.3 L110.6,180.8 L116.6,170.2 L118.9,164.9 L121.9,162.6 L123.4,155.1 L122.6,149.1 L123.4,141.5 L122.6,136.8 L124.2,132.3 L130.2,127.7 L140.8,124.7 L140.8,120.2Z" fill="none" stroke="#000" stroke-width="1.7" stroke-linejoin="round"/><path d="M38.9,437.5 L38.0,438.6 L36.8,436.1 L37.2,433.9 L37.9,433.1 L38.8,435.1Z M52.9,484.3 L52.7,483.7 L52.5,482.7 L52.7,482.1 L53.1,482.7 L53.4,482.9 L53.4,483.9 L53.4,484.7 L53.1,484.5Z M54.8,476.6 L55.8,475.9 L55.9,474.3 L57.7,475.2 L59.3,477.4 L58.7,478.7 L59.6,481.2 L57.6,479.3 L56.4,478.6Z M104.8,501.7 L103.9,501.6 L103.7,500.8 L105.7,499.9 L106.3,500.7 L105.9,501.3Z M40.9,442.5 L38.7,441.8 L37.2,440.1 L36.3,438.2 L37.5,437.8 L39.0,437.9 L39.9,439.9Z M53.4,441.4 L54.3,441.2 L55.8,442.6 L56.3,445.9 L55.3,447.1 L54.0,446.5 L53.0,444.4 L53.0,442.6Z M67.7,484.1 L65.8,482.8 L64.2,481.9 L63.3,480.0 L64.3,478.6 L66.5,478.7 L67.8,480.9 L69.6,483.2Z M116.1,506.3 L117.0,506.1 L118.4,506.6 L119.3,507.3 L118.2,507.5 L116.5,507.2 L115.8,506.6Z M110.7,506.8 L113.4,507.8 L116.0,509.4 L117.3,511.4 L116.1,512.1 L113.6,510.4 L111.0,508.6Z M54.3,432.4 L53.3,434.8 L52.6,433.7 L51.7,433.0 L52.6,431.0 L53.4,428.6 L54.0,430.2Z M42.6,396.6 L43.1,395.4 L43.5,396.7 L43.4,397.9 L43.4,399.3 L42.8,398.9 L42.2,398.7 L42.2,397.3Z M99.1,507.3 L99.5,506.3 L100.1,505.5 L101.8,505.4 L103.2,506.3 L103.7,507.1 L103.3,507.9 L102.6,509.1 L100.3,508.5Z M69.3,495.2 L70.2,494.6 L70.6,493.8 L72.6,493.9 L74.0,494.7 L74.0,495.3 L74.6,496.2 L72.6,496.1 L71.1,495.7Z M65.9,479.9 L67.9,480.0 L70.2,480.7 L71.6,483.2 L69.3,483.8 L66.9,481.9Z M37.0,422.4 L36.1,420.2 L36.6,417.3 L37.6,416.9 L38.8,416.0 L38.8,418.8 L38.3,421.2Z M90.7,499.0 L91.6,500.0 L91.4,501.0 L90.8,501.2 L90.2,502.0 L89.3,501.0 L88.7,499.8 L89.0,498.9 L89.8,498.8Z M52.8,467.0 L54.0,466.4 L55.1,468.7 L55.2,470.1 L54.6,470.7 L53.4,471.6 L52.2,469.0 L51.7,467.1Z M42.9,428.5 L41.7,429.0 L41.8,427.2 L42.3,425.7 L43.5,424.2 L43.3,426.3Z M53.5,457.5 L53.7,458.4 L53.6,459.0 L52.9,459.0 L52.8,458.1 L52.9,457.6Z M36.8,416.6 L37.3,416.9 L37.1,417.9 L36.8,418.5 L36.3,418.0 L36.4,417.1Z M57.4,469.7 L58.0,468.5 L59.0,467.7 L60.0,469.0 L60.1,470.4 L59.6,471.6 L58.2,471.6Z M53.3,398.6 L53.7,396.9 L55.1,395.1 L56.8,394.7 L58.0,394.8 L58.0,396.0 L57.1,397.5 L55.1,398.5Z M62.1,378.5 L62.6,381.1 L61.3,382.3 L60.1,383.0 L60.2,380.3 L60.4,378.3 L61.1,377.3 L62.2,376.0Z M62.8,484.9 L62.2,484.8 L61.7,484.8 L61.1,484.5 L61.1,484.2 L61.5,484.1 L61.9,484.1 L62.8,484.2 L62.7,484.6Z M72.5,385.3 L71.7,386.7 L70.1,385.2 L69.4,382.2 L69.9,380.3 L71.7,381.9Z M60.8,385.0 L60.7,385.6 L60.4,385.5 L60.1,385.2 L59.9,384.4 L60.2,384.0 L60.5,384.1 L60.9,384.3Z M110.0,507.8 L108.9,507.3 L108.2,506.5 L108.4,505.6 L109.5,504.5 L111.2,505.1 L111.9,505.9 L113.4,507.0 L111.8,508.0Z M48.2,420.2 L48.9,418.1 L50.1,416.5 L51.6,419.2 L50.9,422.8 L49.3,421.9Z M47.6,414.5 L47.8,413.4 L48.4,412.3 L48.7,412.8 L48.9,413.1 L49.1,413.9 L48.4,415.3 L47.8,415.5 L47.7,415.0Z M42.6,439.7 L42.7,440.5 L42.3,441.3 L40.8,440.4 L40.7,439.2 L40.5,438.0 L41.9,438.8Z M56.2,423.4 L56.4,423.9 L56.5,424.6 L56.1,425.2 L55.6,425.6 L55.4,425.0 L55.6,424.3 L55.8,423.9Z M72.3,484.5 L72.3,483.5 L75.4,483.1 L78.8,483.0 L78.6,484.3 L76.2,485.0 L73.2,485.5Z M71.8,491.6 L69.2,490.8 L69.9,489.9 L69.2,488.8 L72.1,489.5 L74.2,489.8 L74.4,490.6 L74.4,491.5Z M50.2,411.3 L50.7,409.6 L51.8,409.5 L52.7,408.8 L53.6,409.5 L53.5,411.4 L52.2,412.3 L51.2,413.7 L50.4,412.8Z M53.0,457.4 L52.7,458.3 L52.0,458.7 L51.5,458.2 L51.1,457.6 L51.7,456.9 L52.0,456.6 L52.4,456.6 L52.7,456.8Z M43.1,427.6 L43.0,426.7 L43.0,425.6 L44.1,424.8 L45.6,424.3 L46.2,425.4 L46.6,426.8 L45.2,428.2 L43.9,427.7Z M47.4,424.6 L48.4,425.8 L47.8,428.5 L47.1,429.9 L46.6,428.1 L46.5,425.2Z M44.9,419.1 L45.0,418.8 L45.3,419.0 L45.4,419.7 L45.4,420.2 L45.3,420.6 L45.0,419.8Z M39.4,424.9 L40.8,423.0 L41.7,423.5 L42.1,425.0 L40.7,426.0 L39.4,426.9Z M53.8,418.2 L53.4,417.8 L53.4,416.5 L53.8,415.6 L54.2,416.6 L54.2,417.6Z M77.7,496.2 L80.1,496.7 L81.5,498.6 L80.1,499.5 L78.3,499.9 L75.9,498.7 L76.8,497.3Z M48.9,463.9 L49.2,462.5 L49.6,461.7 L50.3,461.2 L50.6,462.6 L50.3,463.9 L49.6,464.5Z M101.4,508.5 L100.5,507.9 L100.4,507.1 L101.7,507.5 L102.9,507.7 L103.0,508.6 L102.4,509.0Z M41.5,441.2 L41.1,441.3 L40.8,441.1 L40.3,440.9 L40.5,440.1 L40.8,439.9 L41.2,439.6 L41.6,440.0 L41.6,440.7Z M76.6,490.1 L78.8,490.3 L80.6,490.8 L80.0,491.6 L77.4,491.4 L76.0,490.8Z M74.6,485.5 L75.2,487.0 L75.2,488.1 L74.0,487.2 L73.0,486.1 L72.1,484.4 L73.3,484.6Z M51.3,373.1 L52.3,374.4 L51.1,376.3 L49.8,377.5 L48.9,376.5 L49.5,374.4Z M56.0,443.0 L55.4,443.9 L54.0,443.4 L52.8,440.7 L52.2,438.3 L53.1,438.0 L54.4,438.4 L55.9,441.0Z M76.8,497.9 L76.2,497.8 L75.2,497.1 L74.5,495.8 L75.4,495.9 L76.3,496.9Z M83.1,494.1 L82.5,494.4 L81.6,494.4 L81.1,494.3 L81.3,494.1 L81.6,493.9 L82.5,493.6 L82.9,493.9Z M44.8,459.8 L45.7,460.6 L46.2,461.8 L46.7,463.2 L46.7,465.3 L45.8,465.3 L45.0,465.2 L44.2,463.7 L44.7,462.0Z M51.8,374.6 L51.9,375.5 L51.8,376.8 L50.7,377.5 L49.7,377.4 L48.9,376.9 L49.8,375.5 L50.1,374.2 L51.2,373.9Z M67.4,496.1 L68.4,494.9 L70.7,495.4 L71.9,496.9 L69.7,498.0 L67.2,497.2Z M40.7,411.7 L40.4,411.1 L40.9,409.9 L41.1,408.5 L41.7,408.5 L42.2,408.5 L42.0,409.8 L41.4,410.8Z M53.5,439.4 L53.7,439.9 L53.4,440.1 L53.2,440.3 L52.6,440.4 L52.2,439.8 L52.4,439.4 L52.4,438.8 L53.0,439.0Z M41.4,404.9 L41.8,404.6 L42.4,406.0 L42.2,406.9 L41.6,406.5 L41.3,405.6Z M60.0,463.2 L59.4,464.3 L57.7,463.2 L56.6,462.3 L57.2,461.6 L58.1,461.5 L59.2,462.1Z M60.4,467.9 L59.2,469.8 L57.8,471.0 L56.2,469.9 L55.2,467.5 L56.2,465.1 L57.9,464.8 L59.0,466.1Z M57.9,442.5 L58.8,445.1 L58.1,446.8 L57.4,448.4 L55.7,448.0 L54.3,445.7 L54.7,443.1 L56.1,442.0Z M37.1,437.4 L37.2,438.2 L36.7,438.3 L36.0,437.9 L35.9,437.1 L36.2,436.8Z M91.2,496.1 L90.3,496.1 L89.8,495.5 L89.7,495.0 L90.4,495.0 L91.2,495.1 L92.4,495.7 L91.9,496.0Z M46.2,418.6 L46.2,419.4 L45.7,419.0 L45.4,418.3 L44.8,417.4 L45.1,417.0 L45.7,417.0 L46.1,417.9Z M89.4,496.4 L89.9,497.9 L88.1,498.3 L86.2,497.4 L86.2,496.3 L87.2,495.7Z M49.2,475.3 L49.5,473.3 L50.2,474.3 L50.4,475.7 L50.3,477.1 L50.2,479.4 L49.3,479.1 L49.0,477.6 L48.7,476.4Z M57.7,398.0 L56.1,398.6 L55.7,396.2 L55.9,393.2 L57.6,394.5 L58.7,395.9Z M40.1,398.1 L40.7,398.7 L41.4,399.1 L40.2,401.3 L38.9,403.9 L38.3,402.8 L38.7,400.6Z M60.8,374.6 L61.7,373.7 L62.8,374.7 L62.4,376.8 L61.6,377.9 L60.6,377.8 L60.0,376.1Z M52.0,368.1 L52.4,369.1 L52.1,370.2 L51.7,371.0 L51.5,369.4 L51.5,367.9Z M53.4,456.6 L52.6,455.1 L52.8,453.8 L53.5,453.1 L54.7,454.2 L55.6,455.8 L55.7,457.4 L55.1,458.2 L54.2,458.5Z M54.1,482.1 L54.6,483.1 L54.0,483.6 L52.9,483.5 L51.9,482.5 L51.1,481.3 L51.3,480.4 L52.7,481.0 L53.6,481.2Z M57.7,473.4 L57.2,472.3 L56.8,471.5 L56.9,470.8 L57.3,470.1 L58.0,471.3 L58.2,472.3 L58.2,473.2Z M90.6,506.0 L89.0,505.2 L87.6,504.7 L86.9,503.3 L87.5,502.7 L88.8,503.0 L90.3,504.5Z M51.3,440.2 L50.1,440.0 L49.5,438.0 L51.0,435.8 L52.8,436.0 L53.0,438.0 L52.8,440.2Z M118.3,507.1 L119.2,508.1 L118.3,509.0 L118.4,510.4 L116.7,509.9 L115.3,509.8 L115.3,508.8 L114.9,507.5 L116.8,507.5Z M41.3,439.3 L41.4,437.9 L42.3,438.0 L43.4,439.7 L44.2,442.6 L43.1,444.0 L41.6,441.4Z M48.3,442.9 L49.0,443.8 L49.7,445.2 L48.4,445.0 L47.5,444.6 L47.2,443.6 L47.4,442.7Z M46.3,384.4 L44.5,384.3 L43.5,382.8 L43.6,381.3 L44.2,379.9 L45.6,380.1 L46.3,381.9Z M39.7,431.0 L39.1,428.9 L39.1,427.2 L40.3,427.0 L42.1,429.7 L42.1,431.8 L41.4,433.0Z M44.8,409.3 L42.4,411.0 L41.2,410.5 L41.6,407.9 L43.7,406.0 L45.6,405.9Z M61.1,396.8 L60.3,398.0 L59.3,396.6 L58.9,394.2 L58.9,391.5 L59.8,391.1 L60.5,392.4 L60.9,394.2Z M65.0,481.7 L65.8,480.1 L66.8,479.8 L67.9,480.1 L68.7,482.1 L67.2,482.6 L66.3,482.7Z M57.4,428.9 L55.7,428.4 L55.8,425.8 L56.0,423.6 L57.4,422.7 L58.3,423.2 L59.8,424.0 L58.7,426.4Z M56.3,451.4 L57.0,453.1 L56.7,454.4 L56.1,455.3 L55.2,453.2 L54.7,451.4 L54.7,449.7 L55.6,450.2Z M37.7,409.5 L37.3,407.5 L37.6,406.3 L39.0,408.1 L40.0,410.3 L40.0,412.2 L38.8,411.1Z M48.3,386.1 L48.5,387.1 L48.4,388.4 L47.6,388.1 L46.6,387.8 L47.0,386.1 L47.7,385.8Z M45.7,389.5 L46.3,388.6 L46.9,388.0 L47.8,386.9 L48.4,387.1 L49.1,387.1 L48.2,388.2 L47.3,389.0 L46.4,389.5Z M47.0,475.5 L46.2,472.0 L46.8,469.5 L49.7,470.4 L51.9,473.9 L49.8,475.3Z M63.3,474.5 L64.1,472.8 L64.8,471.6 L66.0,470.6 L66.3,472.8 L66.4,474.3 L66.3,476.1 L65.2,476.5 L64.1,476.4Z M42.7,451.6 L41.9,449.5 L41.7,448.4 L41.9,447.3 L43.4,446.5 L45.2,448.4 L45.2,450.2 L44.8,451.9Z M37.9,402.0 L38.2,403.1 L37.6,403.2 L37.2,402.6 L36.9,401.5 L37.5,401.1Z M53.5,397.5 L54.0,396.6 L54.4,395.9 L55.3,394.8 L56.7,394.8 L56.3,396.2 L56.2,397.0 L55.4,398.2 L54.4,397.7Z M64.2,398.0 L63.9,396.6 L64.4,395.7 L65.1,394.8 L65.8,396.1 L65.9,397.7 L65.5,398.8 L64.8,398.7Z M47.0,431.9 L46.8,430.8 L47.4,430.3 L48.1,431.1 L48.8,431.8 L48.4,432.5 L47.7,432.8Z M64.3,477.0 L65.6,477.5 L66.0,478.3 L65.5,478.9 L64.1,478.3 L62.9,477.8 L62.5,476.8Z M73.2,489.2 L71.3,488.3 L72.4,487.1 L73.1,486.5 L74.3,486.4 L75.0,487.7 L76.2,489.5 L74.6,490.0Z M74.8,489.4 L74.9,488.3 L76.1,488.1 L77.4,488.2 L78.8,488.9 L78.6,489.6 L78.2,490.2 L76.8,489.8Z M56.3,430.7 L57.2,429.7 L58.1,429.7 L58.5,431.5 L58.5,433.8 L57.6,435.9 L56.7,434.6 L56.1,433.0Z M62.2,403.6 L62.6,403.0 L63.4,402.4 L63.2,403.6 L63.0,404.3 L62.4,405.2 L62.1,404.5Z M60.7,481.8 L58.8,483.8 L56.3,483.9 L55.5,480.9 L54.5,478.2 L56.7,477.9 L59.3,478.2Z M55.0,446.6 L54.7,449.4 L52.8,449.1 L51.9,447.1 L51.6,445.3 L52.1,442.6 L54.0,443.9Z M45.2,467.6 L45.5,466.2 L45.9,464.9 L47.0,465.8 L48.2,465.7 L48.0,467.2 L47.6,468.2 L46.9,468.3 L45.8,469.2Z M43.2,448.9 L42.4,447.1 L43.4,446.2 L44.5,446.7 L45.9,446.9 L46.0,448.9 L45.9,450.5 L44.9,451.7 L43.7,450.1Z M59.6,425.3 L59.2,426.1 L58.9,426.4 L58.3,426.5 L58.3,425.4 L58.7,424.8 L59.3,424.4Z M58.9,488.4 L59.6,488.7 L59.2,489.0 L59.2,489.2 L58.8,489.2 L58.2,489.0 L57.7,488.6 L58.1,488.4 L58.4,488.4Z M36.7,415.9 L37.6,415.5 L37.7,417.5 L37.1,418.3 L36.6,418.8 L35.8,418.8 L35.7,417.1 L35.9,415.5Z M51.7,477.5 L51.0,480.0 L49.6,478.2 L48.8,476.8 L49.3,475.1 L50.1,472.6 L51.6,474.2 L52.8,475.9Z M90.3,496.2 L91.7,496.7 L93.0,497.5 L94.0,498.5 L94.6,499.4 L94.1,499.6 L92.9,499.1 L91.3,498.2 L90.4,497.0Z M59.1,485.5 L58.8,484.4 L60.6,484.3 L62.5,485.4 L63.7,486.5 L63.4,487.3 L62.9,488.1 L60.7,487.9 L59.1,486.5Z M65.4,473.5 L63.7,474.3 L61.8,472.2 L61.4,469.9 L62.3,468.8 L64.1,468.5 L65.9,471.3Z M43.6,431.3 L43.8,432.4 L42.7,432.1 L41.9,431.3 L41.8,430.4 L42.5,430.3 L43.4,430.3Z M75.6,488.9 L74.3,487.7 L74.8,486.5 L77.0,486.8 L78.6,486.9 L79.4,487.9 L80.8,489.1 L79.1,489.6 L77.3,489.3Z M55.9,459.8 L56.2,459.3 L56.8,459.1 L57.3,460.1 L57.9,461.0 L57.6,461.8 L57.3,462.5 L56.6,461.7 L56.0,460.9Z M56.7,441.1 L56.4,438.8 L56.9,437.3 L57.6,436.2 L58.0,438.0 L57.6,439.5Z M84.0,492.6 L81.4,492.7 L80.8,491.0 L81.7,489.3 L84.5,489.1 L85.7,490.9Z M57.4,390.7 L58.9,390.2 L58.1,391.9 L57.0,393.1 L55.8,393.5 L55.9,392.2Z M90.9,497.2 L90.2,496.7 L89.3,496.2 L89.1,495.4 L89.7,495.0 L90.8,495.5 L91.1,496.3 L91.5,496.9Z M64.4,469.6 L65.3,470.6 L65.2,472.1 L65.0,473.0 L64.3,473.1 L63.3,471.6 L63.9,470.3Z M96.3,497.9 L96.9,497.9 L98.0,498.6 L98.1,499.3 L97.5,499.3 L96.6,498.8Z M75.8,497.2 L74.8,497.1 L73.5,497.1 L71.9,496.4 L72.9,496.0 L72.9,495.3 L74.6,495.4 L75.4,496.3 L76.3,496.8Z M50.3,482.8 L48.3,482.3 L48.5,481.5 L47.9,480.6 L49.5,480.8 L51.2,480.7 L53.2,481.7 L53.6,482.8 L52.1,483.0Z M50.2,472.4 L50.0,471.6 L50.6,471.3 L51.3,471.4 L51.8,472.0 L51.5,472.5 L51.0,472.9Z M56.9,442.8 L57.6,442.8 L58.5,443.8 L58.5,444.6 L57.7,444.5 L57.0,444.0 L56.7,443.4Z M39.8,430.4 L40.5,426.8 L43.3,424.6 L45.7,425.1 L44.5,428.3 L42.4,430.6Z M57.0,468.4 L57.8,468.0 L58.6,468.4 L59.7,469.7 L58.9,470.9 L57.8,471.2 L57.1,469.8Z M55.2,468.3 L56.2,469.3 L56.8,470.7 L57.1,471.9 L56.1,470.8 L55.1,470.0 L54.8,468.7Z M61.2,397.8 L59.6,396.5 L58.9,395.3 L58.6,392.6 L60.7,391.2 L61.6,393.2 L62.7,395.0Z M49.1,467.7 L48.4,466.9 L48.2,466.1 L48.6,464.7 L50.4,465.8 L51.2,467.0 L50.9,467.8 L50.6,468.8Z M56.5,448.1 L56.9,448.3 L56.8,449.2 L56.4,449.8 L56.0,450.1 L56.0,449.3 L56.1,448.6Z M63.4,396.8 L62.9,398.3 L61.6,399.5 L61.0,399.1 L61.8,397.4 L63.0,396.5Z M70.1,474.2 L70.1,474.7 L69.6,475.0 L69.1,474.4 L68.5,474.1 L68.3,473.4 L68.7,473.0 L69.3,473.2 L69.7,473.6Z M149.4,511.4 L150.4,513.3 L147.7,513.5 L145.5,512.8 L145.0,510.8 L147.5,510.0Z M52.5,420.1 L52.0,421.3 L50.6,420.3 L49.6,419.7 L48.5,418.1 L49.0,416.8 L49.9,415.8 L51.4,416.6 L52.1,418.5Z M47.2,465.2 L47.4,468.0 L44.8,466.9 L43.2,465.4 L42.8,462.8 L45.2,463.6Z M69.4,479.2 L68.6,478.4 L68.2,477.6 L68.8,477.3 L69.5,477.0 L70.0,477.9 L70.0,478.8Z M58.9,419.6 L58.9,418.5 L60.1,418.0 L61.0,418.1 L60.7,419.3 L59.6,420.1Z M44.4,455.3 L43.3,453.7 L42.9,451.5 L44.2,449.4 L46.0,449.6 L46.8,451.7 L46.3,454.4Z M35.0,404.6 L36.5,403.5 L38.1,403.5 L38.3,406.2 L38.8,409.2 L37.0,410.1 L35.2,408.0Z M75.0,490.7 L72.3,489.4 L72.1,487.7 L72.9,486.8 L76.0,488.2 L76.4,490.3Z M45.4,470.4 L46.6,472.9 L46.3,474.5 L44.9,474.0 L43.9,471.5 L43.0,469.8 L43.5,469.1 L44.1,468.4Z M87.6,491.2 L87.5,492.1 L86.3,491.6 L85.8,490.5 L84.9,488.9 L86.5,489.7 L87.6,490.2Z M61.6,373.2 L63.4,372.0 L64.6,373.0 L65.6,375.4 L63.0,376.6 L61.9,375.3Z M54.6,484.3 L55.8,484.8 L55.8,485.5 L56.5,486.3 L55.3,486.0 L54.5,486.3 L53.6,485.6 L53.6,485.0 L54.1,484.8Z M53.7,458.7 L52.7,457.6 L53.3,456.6 L55.3,457.1 L56.1,458.3 L55.0,458.7Z M81.0,488.5 L82.5,489.0 L84.3,489.8 L83.3,491.3 L80.9,492.0 L78.4,492.6 L78.6,490.9 L77.8,490.0 L79.3,489.2Z M62.5,476.1 L63.0,475.8 L64.2,476.2 L65.2,477.1 L65.4,478.1 L63.4,477.1Z M57.9,387.1 L58.4,386.1 L59.4,385.4 L60.1,385.3 L60.5,385.6 L60.3,386.3 L59.8,387.1 L59.0,387.5 L58.6,387.2Z M49.5,443.8 L50.2,444.6 L51.2,445.3 L51.4,446.4 L50.4,446.2 L49.7,446.1 L49.2,445.3 L48.3,444.3 L48.9,444.0Z M59.0,443.1 L58.5,444.1 L58.0,444.1 L57.8,443.8 L58.3,442.9 L58.9,442.5Z M49.0,460.9 L47.9,460.6 L47.2,460.3 L46.4,459.3 L46.6,457.3 L47.7,457.0 L48.5,457.0 L49.8,457.1 L49.0,459.0Z M40.9,463.2 L40.5,462.8 L40.8,461.3 L41.3,460.7 L41.6,461.5 L41.4,463.3Z M93.4,505.6 L95.7,504.9 L98.1,505.1 L99.3,505.8 L98.7,506.8 L96.3,506.8 L94.5,506.6Z M56.2,377.1 L56.3,375.7 L57.6,374.7 L58.9,374.2 L59.6,375.0 L59.4,376.2 L58.6,377.5 L57.2,377.7Z M55.4,399.4 L54.5,400.6 L53.8,398.3 L53.5,396.1 L54.7,395.4 L55.4,397.7Z M51.9,400.8 L52.3,402.0 L52.4,403.5 L52.5,405.9 L51.6,406.0 L51.1,404.3 L50.0,403.3 L50.3,400.7 L51.3,401.0Z M47.3,381.9 L45.8,382.1 L45.9,380.2 L45.5,378.3 L46.9,378.3 L48.2,378.0 L48.1,380.0Z M48.2,395.4 L47.4,393.9 L46.7,392.9 L46.5,390.9 L47.5,391.0 L48.2,391.1 L49.0,392.2 L48.5,393.5Z M38.2,450.5 L38.1,449.7 L37.7,448.6 L38.5,448.3 L39.2,448.1 L39.5,449.1 L40.0,450.0 L39.3,450.5 L38.7,451.1Z M56.6,384.3 L56.2,383.5 L56.3,382.9 L56.6,382.7 L57.0,383.5 L57.0,384.4Z M56.9,421.4 L57.5,420.7 L58.0,421.2 L57.6,422.8 L56.6,423.5 L56.4,422.5Z M56.4,428.7 L56.1,427.2 L55.4,425.2 L56.6,423.5 L58.0,424.3 L59.1,425.2 L59.1,426.9 L59.0,428.8 L57.6,429.5Z M105.3,503.0 L105.8,503.7 L105.8,504.4 L105.0,505.0 L103.9,505.8 L103.5,505.2 L103.0,504.7 L103.9,503.9Z M54.1,475.9 L52.0,474.3 L52.7,472.8 L56.0,473.7 L58.4,476.1 L57.2,477.7Z M42.2,458.0 L43.1,459.9 L44.2,462.2 L43.4,463.0 L43.1,465.0 L41.9,462.0 L40.6,460.6 L40.0,457.8 L41.5,458.7Z M54.0,417.8 L55.1,418.1 L55.2,419.7 L55.5,421.0 L54.7,421.0 L54.0,420.6 L52.6,420.0 L52.7,418.4 L53.1,417.5Z M41.6,388.1 L43.1,388.9 L44.2,389.6 L44.4,391.6 L44.4,394.3 L42.9,395.4 L41.8,393.2 L41.6,390.9Z M51.9,416.8 L51.9,413.5 L53.9,412.7 L55.0,414.3 L55.8,416.8 L53.9,417.0Z M43.7,389.9 L45.0,389.0 L45.6,389.7 L46.0,390.6 L45.1,391.5 L44.0,392.2 L43.2,391.4Z M68.6,472.3 L69.5,473.9 L69.4,475.5 L68.4,475.4 L67.3,474.5 L66.6,472.5 L66.8,470.9 L67.7,470.4Z M59.4,420.1 L57.6,420.2 L58.3,418.0 L59.7,416.4 L61.1,415.9 L60.9,417.6Z M36.9,432.7 L37.0,431.7 L38.2,432.7 L39.3,433.8 L38.5,434.4 L37.5,433.5Z M50.4,392.7 L50.5,393.5 L50.4,394.5 L50.2,395.5 L49.8,395.8 L49.6,395.3 L49.5,394.4 L49.7,393.5 L50.0,392.7Z M89.8,495.3 L90.0,494.3 L89.7,492.8 L90.8,492.6 L91.8,494.3 L92.2,495.6 L92.3,496.6 L91.6,496.6 L90.6,496.9Z M55.7,384.0 L55.7,381.9 L56.4,380.7 L57.4,380.4 L57.9,382.4 L58.5,384.1 L58.3,386.1 L57.3,386.5 L56.6,385.1Z M47.9,379.2 L47.6,378.5 L47.7,377.7 L48.5,377.6 L48.8,378.0 L48.8,378.8Z M39.7,449.7 L38.9,449.5 L37.9,449.3 L38.0,446.9 L38.8,445.7 L39.6,446.0 L40.1,447.7Z M106.9,509.6 L106.1,509.1 L104.6,508.9 L105.8,507.8 L108.3,507.0 L109.8,507.2 L109.6,507.9 L109.3,508.7Z M57.6,366.1 L58.1,366.8 L57.6,369.0 L56.9,370.8 L55.8,372.8 L55.1,372.2 L55.6,369.8 L55.9,367.9 L56.8,367.2Z M54.2,477.3 L54.9,478.2 L54.6,478.7 L54.2,479.3 L53.2,478.5 L52.9,477.3 L52.8,476.4 L53.6,476.8Z M88.1,494.5 L87.6,494.9 L86.4,495.0 L85.7,494.8 L84.7,494.5 L85.8,494.1 L87.4,494.1Z M98.1,506.0 L100.3,506.3 L102.3,506.6 L103.6,508.2 L103.5,509.5 L101.8,509.8 L99.6,509.0 L97.9,507.5Z M64.3,487.8 L65.3,487.0 L65.7,486.0 L67.4,487.2 L68.5,488.2 L69.2,489.5 L67.8,489.4 L66.5,488.9Z M76.9,500.1 L75.7,499.6 L74.9,498.0 L73.9,496.2 L75.1,496.3 L76.4,497.8 L77.5,499.0 L78.1,500.6Z M62.2,386.3 L62.7,386.6 L62.4,387.1 L61.9,387.4 L61.3,387.4 L61.4,386.9Z M51.2,470.5 L51.8,470.4 L53.0,470.9 L53.6,472.1 L52.8,472.2 L51.5,471.6Z M70.1,485.0 L71.2,486.1 L71.6,487.5 L70.7,487.5 L69.7,486.2 L69.1,484.8Z M70.8,497.0 L69.0,496.7 L67.0,495.2 L66.3,493.4 L68.6,493.5 L71.5,494.4 L72.2,496.2 L73.7,498.0Z M60.3,403.0 L60.9,404.4 L60.5,405.9 L59.4,405.9 L58.8,404.6 L59.3,403.6Z M50.1,411.3 L49.7,410.2 L49.5,408.6 L50.0,408.3 L50.6,408.0 L51.1,409.3 L51.5,411.0 L51.1,412.1 L50.6,412.9Z M57.6,394.6 L58.6,395.2 L59.6,396.7 L58.9,399.5 L57.7,400.3 L56.7,400.4 L56.3,398.3 L56.2,395.5Z M56.5,486.3 L55.5,485.9 L55.1,484.9 L54.6,484.0 L54.7,483.0 L55.8,483.3 L56.8,483.5 L56.8,484.6 L56.7,485.3Z M51.3,395.1 L51.2,397.3 L50.9,399.8 L49.6,400.7 L49.1,398.7 L49.6,396.5 L50.3,395.2Z M123.8,507.2 L124.9,507.7 L125.4,508.3 L124.8,508.5 L124.0,508.5 L123.1,508.2 L122.5,507.7 L122.9,507.3Z M57.3,377.4 L57.2,375.6 L57.8,374.1 L58.9,374.7 L59.4,376.1 L59.4,377.8 L58.4,378.5Z M38.0,420.3 L36.4,421.9 L34.6,422.3 L34.7,420.0 L36.3,418.3 L38.0,418.1Z M52.3,436.1 L53.0,436.7 L53.5,437.2 L53.9,438.3 L53.4,438.5 L52.9,438.4 L52.3,437.8 L52.2,436.8Z M44.8,462.1 L44.2,460.5 L45.1,458.6 L46.2,457.8 L47.0,458.7 L47.3,460.6 L46.1,462.4Z M39.8,450.0 L38.7,451.5 L38.4,450.7 L38.5,449.8 L39.4,448.4 L39.9,449.0Z M34.9,414.2 L36.3,412.3 L37.6,413.6 L38.3,416.1 L36.1,417.6 L34.3,417.9 L32.8,416.3Z M76.1,488.8 L73.7,489.1 L71.6,488.5 L70.5,486.9 L71.8,485.3 L73.4,483.6 L76.0,484.0 L77.5,485.3 L77.6,487.2Z M58.1,480.9 L58.4,478.6 L59.2,477.3 L59.6,479.0 L59.9,481.3 L58.8,482.7Z M60.6,399.2 L61.3,398.1 L61.9,398.1 L62.3,398.1 L62.0,398.8 L61.5,399.8 L60.6,400.3 L60.2,400.0Z M50.5,459.9 L50.0,459.8 L49.4,459.7 L49.3,459.0 L49.0,458.3 L49.7,458.6 L50.3,458.5 L50.5,459.4Z M52.6,425.0 L53.4,425.2 L54.2,425.7 L54.5,427.1 L54.2,427.9 L53.8,428.7 L53.2,427.3 L52.7,426.3Z M59.6,419.2 L58.5,418.3 L59.7,415.5 L61.5,414.4 L62.3,415.1 L63.8,415.4 L62.6,418.2 L60.8,418.7Z M56.6,394.8 L57.0,395.9 L56.7,397.4 L55.9,398.3 L55.1,397.9 L54.8,397.1 L54.7,395.7 L55.6,394.3Z M38.4,438.4 L36.3,436.1 L37.1,434.2 L38.3,433.6 L40.0,436.0 L40.0,438.3Z M59.9,419.0 L59.2,416.4 L58.4,413.5 L59.5,413.9 L60.3,414.1 L61.5,416.2 L61.5,418.6 L60.8,418.9Z M94.2,498.1 L95.9,497.4 L97.1,497.8 L97.9,498.6 L95.2,499.1 L93.0,499.6 L92.9,498.8Z M55.1,487.5 L54.2,486.0 L52.7,484.6 L53.9,484.1 L55.2,483.5 L56.7,485.2 L58.0,486.3 L57.5,487.0 L57.0,487.9Z M70.8,377.3 L70.5,377.6 L70.3,377.1 L70.5,376.4 L70.7,375.9 L70.9,375.6 L71.1,375.9 L71.4,376.2 L71.0,376.8Z M41.8,408.2 L42.3,408.4 L42.6,409.6 L42.6,410.5 L42.1,410.0 L41.8,409.1Z M51.2,443.9 L53.1,446.2 L53.1,447.8 L52.6,449.0 L50.8,446.8 L49.9,444.2Z M89.7,499.1 L92.5,498.1 L94.7,498.1 L96.8,499.8 L95.7,502.2 L91.9,501.5Z M58.1,370.8 L59.4,370.0 L60.2,370.2 L59.1,371.5 L58.0,373.1 L57.1,373.0 L57.1,372.1Z M65.4,371.7 L67.1,372.3 L66.6,374.7 L65.8,376.5 L64.3,376.4 L64.0,374.7 L63.5,372.3Z M48.2,469.9 L47.3,467.1 L48.3,465.0 L49.9,465.4 L50.4,468.1 L49.7,469.9Z M55.3,407.8 L55.8,406.4 L56.7,406.4 L56.7,407.7 L56.2,408.6 L55.4,409.0Z M52.4,437.2 L51.8,436.2 L51.8,435.3 L52.2,435.2 L52.7,436.1 L52.8,437.1Z M73.5,369.8 L73.1,370.7 L72.4,370.5 L71.9,369.8 L72.2,368.6 L73.0,369.1Z M51.7,382.7 L50.6,380.9 L50.2,377.9 L52.0,376.1 L53.9,377.3 L56.0,377.9 L55.9,380.8 L55.3,383.4 L53.3,383.1Z M56.1,414.0 L56.9,413.1 L57.5,414.1 L57.1,415.4 L56.9,416.6 L56.2,417.2 L55.7,416.5 L55.6,415.8 L55.6,414.8Z M67.9,478.3 L70.4,478.6 L72.9,479.1 L73.0,480.7 L71.4,481.6 L68.4,480.2Z M61.5,402.2 L61.5,404.1 L60.1,406.0 L58.4,408.0 L56.6,407.8 L56.7,405.5 L57.3,403.4 L58.8,401.1 L60.1,402.2Z M48.5,445.3 L47.4,444.5 L46.6,444.2 L46.1,442.8 L45.3,441.1 L46.0,440.8 L47.1,442.4 L47.8,443.6Z M54.0,451.9 L53.8,451.2 L53.6,450.3 L54.2,449.8 L54.5,450.0 L54.7,450.5 L54.4,451.2Z M57.1,467.5 L55.4,466.0 L54.8,464.3 L55.1,463.4 L56.6,464.1 L58.0,465.7 L59.5,467.5 L59.2,468.4 L58.3,468.2Z M49.2,405.0 L48.0,403.2 L47.2,402.0 L46.8,400.0 L48.1,400.4 L49.1,400.9 L50.1,402.3 L50.5,404.4Z M85.0,489.2 L83.9,489.3 L83.1,488.4 L82.3,487.8 L82.6,487.4 L84.0,487.9 L85.3,488.5 L85.5,489.0Z M58.8,378.4 L59.3,377.5 L59.7,377.2 L60.4,376.9 L61.2,379.2 L60.9,380.3 L60.6,381.0 L59.8,380.1Z M65.4,469.5 L65.1,467.5 L66.0,467.5 L67.1,469.6 L67.9,471.7 L67.8,473.2 L66.8,472.0 L65.9,471.3Z M69.5,380.6 L69.6,381.3 L69.1,381.6 L68.6,381.9 L68.3,381.4 L68.5,380.5 L68.8,379.5 L69.3,379.7 L69.9,379.4Z M69.3,485.9 L70.1,484.4 L70.3,483.1 L72.0,483.5 L73.9,484.3 L75.0,486.3 L73.4,487.2 L71.4,487.6Z M49.2,477.5 L50.1,476.3 L50.7,478.9 L50.1,481.4 L49.2,481.9 L48.6,479.6Z M63.0,389.2 L62.6,389.4 L62.2,389.4 L62.0,388.4 L61.7,387.6 L61.9,387.1 L62.1,386.4 L62.5,387.0 L62.7,388.0Z M133.4,509.3 L132.4,509.0 L131.4,508.9 L130.5,508.2 L130.6,507.8 L131.4,507.9 L132.4,508.1 L132.9,508.6 L133.4,509.0Z M56.6,396.9 L57.3,397.5 L56.7,398.7 L55.9,399.5 L55.4,398.7 L55.3,397.0Z M66.1,472.1 L64.0,470.8 L62.5,469.4 L63.0,468.1 L64.5,467.8 L66.6,467.8 L68.7,469.6 L67.5,471.0Z M55.9,485.9 L54.9,485.1 L54.4,484.0 L55.1,484.0 L56.4,485.0 L56.6,486.1Z M53.9,468.5 L55.2,468.0 L56.0,469.3 L57.1,471.5 L55.5,472.8 L53.9,472.3 L53.6,470.2Z M45.1,460.5 L45.0,461.3 L45.0,461.8 L44.8,462.4 L44.4,462.4 L43.9,462.3 L43.7,461.6 L44.1,460.9 L44.5,461.0Z M62.2,483.5 L62.7,484.5 L62.8,485.8 L62.0,486.1 L61.3,485.3 L61.0,484.3 L60.7,483.1 L61.5,483.1Z M36.5,444.0 L37.3,442.9 L38.3,445.5 L38.1,447.5 L37.6,448.8 L36.5,446.5Z M42.5,420.5 L43.2,421.2 L43.3,422.6 L42.9,424.1 L42.0,425.5 L41.2,425.1 L40.1,424.9 L40.5,422.8 L41.4,420.9Z M50.4,399.3 L51.6,398.6 L52.6,398.3 L53.5,398.5 L53.1,399.8 L51.2,400.7 L49.2,402.3 L49.2,401.2 L49.0,400.5Z M57.0,390.9 L56.6,390.5 L56.3,389.8 L56.6,389.2 L57.1,388.7 L57.4,389.4 L57.8,390.1 L57.4,390.6Z M52.1,416.8 L52.0,414.6 L53.1,413.2 L54.1,412.6 L55.2,413.0 L55.1,414.8 L55.0,417.2 L53.5,416.7Z M53.2,400.7 L52.5,402.4 L51.3,401.0 L50.9,399.2 L51.9,398.7 L53.2,398.5Z M79.3,488.2 L79.8,486.8 L82.3,486.7 L84.2,487.4 L86.3,488.7 L83.6,489.1 L81.2,489.8Z M39.5,413.0 L40.3,414.3 L40.4,415.5 L40.2,416.3 L39.6,416.5 L38.6,415.7 L38.3,414.3 L37.9,412.9 L38.4,412.1Z M59.3,376.3 L58.2,377.1 L56.7,376.2 L56.5,374.1 L56.5,371.8 L58.2,372.1 L59.5,372.4 L60.0,373.9 L60.8,375.8Z M62.4,403.4 L61.6,403.9 L60.7,403.9 L60.1,403.2 L61.0,402.5 L61.7,402.0 L62.3,402.3 L62.5,402.7Z M60.9,414.7 L61.5,414.7 L61.2,415.8 L60.7,416.9 L60.2,416.8 L60.3,415.8Z M58.3,487.1 L59.6,488.5 L60.3,489.8 L60.4,491.4 L59.2,491.3 L58.0,489.7 L57.7,488.1Z M44.6,465.9 L45.8,463.5 L46.7,461.9 L48.4,461.1 L49.5,462.5 L49.0,464.9 L47.7,466.6 L46.0,467.0Z M56.7,457.1 L56.9,455.8 L57.3,456.3 L57.8,457.3 L57.5,458.4 L57.1,458.5Z M39.0,438.8 L40.1,439.0 L39.9,441.0 L39.7,443.1 L38.4,443.6 L37.2,445.7 L37.2,443.7 L37.4,442.4 L37.9,440.7Z M52.4,378.4 L51.0,379.6 L50.8,378.7 L51.7,377.7 L53.0,376.9 L53.0,377.6Z M47.4,459.9 L47.1,461.2 L46.5,461.7 L46.5,460.7 L46.7,459.6 L47.1,459.4Z M56.9,451.4 L55.3,451.6 L54.1,452.0 L53.0,450.6 L51.4,449.3 L51.9,448.0 L52.9,447.0 L54.4,448.6 L55.6,449.5Z M58.0,401.9 L57.5,401.7 L57.3,400.5 L57.5,399.3 L57.9,398.8 L58.4,398.7 L58.8,399.7 L58.5,400.9 L58.3,401.7Z M149.0,513.2 L147.5,513.0 L146.7,512.0 L146.7,511.2 L146.5,509.8 L148.0,510.4 L149.3,511.0 L149.2,512.1Z M41.4,423.6 L42.4,422.1 L43.7,420.7 L44.3,422.5 L45.7,423.9 L44.2,425.5 L42.7,426.8 L41.9,425.1Z M47.4,467.9 L47.6,466.8 L48.7,466.8 L49.0,468.1 L48.5,468.9 L47.8,468.9Z M40.1,420.8 L42.8,419.2 L43.6,422.1 L41.8,424.3 L40.1,426.3 L38.6,424.9 L37.5,422.4Z M43.8,445.3 L44.1,444.2 L44.6,443.8 L44.9,443.7 L45.3,443.9 L44.9,444.9 L44.4,446.1 L44.1,445.7Z M37.9,437.2 L37.0,438.3 L36.0,437.8 L36.6,435.7 L37.1,434.8 L37.7,435.2Z M68.7,489.5 L70.0,489.5 L71.5,490.3 L73.6,491.0 L74.7,492.5 L73.2,492.5 L72.5,493.1 L70.7,491.9 L68.8,490.6Z M104.8,500.5 L104.5,501.5 L101.9,501.7 L100.1,502.4 L97.9,502.1 L97.5,501.2 L99.7,500.6 L100.9,499.7 L102.4,500.4Z M52.1,425.3 L53.7,423.2 L53.9,424.8 L53.7,426.3 L53.2,428.4 L51.6,430.1 L51.2,428.8 L50.4,428.6 L50.8,426.6Z M44.8,380.3 L45.3,378.3 L46.8,378.1 L48.2,378.2 L47.5,380.0 L46.7,380.9 L45.6,381.3Z M57.7,412.6 L58.1,411.4 L58.8,411.1 L59.5,411.2 L59.9,412.2 L59.4,413.6 L58.5,414.3 L58.0,413.4Z M67.0,492.6 L65.9,493.5 L64.7,493.7 L63.6,493.1 L62.1,491.8 L63.8,490.9 L66.0,491.0Z M36.7,421.3 L36.3,420.2 L36.1,419.1 L36.6,419.5 L36.9,419.2 L37.5,420.3 L37.7,421.5 L37.6,422.0 L37.1,421.6Z M58.2,457.6 L58.2,458.3 L57.9,458.6 L57.4,458.6 L57.1,457.8 L57.3,457.1 L57.8,456.7Z M38.2,411.4 L36.9,412.0 L36.3,411.4 L36.8,410.0 L38.4,408.8 L39.1,409.0 L40.3,408.9 L39.7,410.3Z M46.0,467.2 L45.9,468.3 L45.5,467.7 L45.1,466.6 L45.4,466.1 L45.8,466.4Z M55.3,371.0 L55.7,370.1 L56.2,369.5 L56.9,369.2 L57.3,370.4 L56.9,372.2 L56.2,373.7 L55.3,373.8 L54.9,372.6Z M79.3,494.2 L79.2,494.5 L78.5,494.4 L77.6,493.7 L77.1,493.1 L77.4,492.9 L78.0,492.8 L78.9,493.3 L79.6,494.0Z M50.4,438.5 L51.3,438.1 L52.2,439.1 L53.2,440.5 L53.2,442.4 L51.7,442.9 L50.2,441.8 L49.9,440.2 L49.1,438.6Z M40.0,399.6 L38.6,400.8 L37.3,401.1 L37.6,398.9 L39.1,397.6 L39.9,398.0Z M45.7,383.4 L44.5,381.8 L45.0,380.0 L45.4,378.8 L46.4,379.0 L47.1,380.5 L47.7,382.1 L47.4,383.5 L46.6,383.5Z M45.5,381.5 L46.4,382.1 L46.4,383.5 L46.1,384.2 L45.6,384.8 L44.8,383.7 L44.7,382.1Z M41.1,435.6 L42.1,435.8 L43.0,438.0 L42.6,439.2 L42.4,440.0 L41.7,439.7 L40.9,438.3 L40.8,436.8Z M56.9,416.9 L57.1,417.4 L57.2,418.2 L56.6,418.3 L56.2,418.1 L56.1,417.5 L56.3,416.8Z M97.9,504.2 L98.1,502.7 L100.0,503.6 L101.5,504.4 L102.0,506.2 L100.0,505.7 L98.3,505.7Z M58.8,399.1 L57.5,398.9 L58.1,397.1 L58.6,395.2 L59.9,394.8 L60.7,395.7 L61.6,396.6 L61.2,398.7 L59.7,398.9Z M57.3,460.5 L55.5,459.6 L55.7,457.0 L56.3,454.3 L58.3,456.6 L59.1,459.2 L58.3,460.5Z M102.9,500.6 L105.5,501.5 L108.2,502.8 L108.6,505.4 L106.3,506.5 L103.5,506.8 L102.8,504.1 L100.6,501.9Z M59.0,392.9 L59.4,394.2 L59.4,395.8 L58.6,396.8 L57.9,395.6 L57.0,394.0 L57.9,392.4Z M46.9,393.7 L48.1,395.0 L48.3,398.1 L46.0,400.4 L44.8,398.5 L45.5,395.9Z M63.0,418.9 L62.5,420.1 L61.0,418.9 L60.3,417.1 L59.5,415.4 L60.4,415.2 L61.2,415.8 L62.6,416.8Z M55.9,416.5 L55.7,415.8 L55.5,414.8 L55.8,414.3 L56.2,414.2 L56.4,415.1 L56.4,415.8 L56.2,416.2Z M51.2,377.9 L51.7,377.8 L51.7,378.2 L51.4,379.0 L50.7,379.6 L50.3,379.7 L50.1,379.5 L50.2,378.9 L50.7,378.3Z M56.5,480.2 L55.6,480.4 L54.6,480.0 L53.5,479.1 L54.5,478.3 L56.0,478.4 L56.7,479.4Z M139.9,512.5 L139.4,513.7 L137.5,512.9 L136.8,510.9 L135.1,509.0 L136.4,508.4 L137.8,508.3 L139.6,509.6 L141.1,511.7Z M38.9,434.0 L39.7,433.8 L41.3,433.8 L41.3,436.5 L41.8,439.0 L40.3,438.2 L38.9,437.4 L38.4,435.1Z M119.0,512.4 L116.6,512.0 L117.5,510.5 L117.6,508.6 L120.0,508.9 L121.5,509.9 L123.6,511.2 L123.1,513.2 L120.3,512.7Z M69.9,390.8 L68.1,390.6 L68.9,388.0 L69.8,385.4 L70.8,387.6 L71.7,389.7Z M48.0,413.4 L48.0,415.1 L47.5,416.4 L47.1,414.9 L46.9,413.8 L46.7,412.2 L47.1,410.6 L47.7,410.5 L48.1,411.9Z M66.4,481.4 L66.6,482.3 L66.3,482.7 L65.6,482.9 L64.9,481.9 L64.8,480.9 L65.1,480.3 L65.9,480.7Z M44.5,444.5 L45.6,441.3 L46.8,439.1 L48.4,439.1 L48.3,441.1 L46.9,443.1Z M64.3,385.9 L63.1,387.6 L61.7,388.2 L60.8,386.7 L59.3,384.8 L60.7,382.9 L62.2,382.8 L63.8,383.4Z M57.1,387.1 L56.0,389.0 L54.2,391.2 L52.3,390.7 L51.6,390.0 L52.1,388.1 L55.1,386.8Z M42.2,454.5 L42.6,455.9 L41.9,456.2 L40.9,455.1 L39.8,453.8 L40.0,452.6 L40.6,452.4 L41.5,453.5Z M55.9,478.6 L56.7,477.7 L57.6,477.6 L58.7,478.9 L59.4,480.8 L58.2,480.9 L57.1,480.3Z M50.7,429.3 L50.7,430.5 L49.8,431.5 L49.0,431.8 L48.6,431.1 L49.1,429.9 L49.9,429.3Z M75.9,493.6 L76.0,492.9 L76.8,493.0 L77.4,493.9 L78.1,494.8 L77.3,494.9 L76.7,494.9 L76.1,494.3Z M51.3,465.6 L50.5,464.8 L50.8,464.3 L51.5,464.9 L51.9,465.6 L52.0,466.4Z M51.2,390.4 L51.6,388.6 L52.5,388.5 L52.9,388.8 L52.9,390.1 L51.8,391.0 L50.7,392.1Z M56.4,372.1 L55.8,372.1 L55.3,371.5 L55.0,370.4 L54.9,369.4 L54.9,367.7 L55.8,368.3 L56.6,369.5 L56.8,371.3Z M62.0,486.8 L60.3,487.0 L60.0,484.0 L60.0,481.1 L62.2,482.3 L62.7,485.4Z M42.9,455.8 L43.6,456.7 L43.4,457.9 L42.6,458.8 L41.5,459.5 L40.9,458.6 L40.8,457.3 L41.8,456.4Z M49.6,434.9 L50.4,434.3 L51.3,434.6 L51.6,437.0 L51.6,438.9 L51.0,440.3 L49.8,438.1Z M51.0,464.6 L52.8,466.7 L52.6,469.1 L50.9,470.5 L49.2,467.8 L49.6,465.9Z M47.1,403.6 L45.8,405.0 L44.0,404.1 L43.1,401.6 L43.6,399.4 L44.8,399.0 L45.7,398.4 L46.6,399.6 L47.9,401.5Z M64.7,476.4 L63.7,474.9 L63.4,473.3 L63.6,472.6 L64.1,472.3 L65.0,472.9 L66.0,474.8 L66.0,476.3 L65.2,476.0Z M58.6,381.9 L59.1,384.0 L58.2,385.0 L57.1,384.8 L55.9,382.6 L57.3,381.7Z M45.6,464.9 L44.7,464.5 L44.7,462.8 L45.4,461.4 L46.5,461.0 L47.3,462.0 L46.7,463.5 L46.6,464.9Z M144.5,511.9 L144.1,512.5 L143.1,512.6 L141.7,512.2 L141.5,511.2 L142.5,510.9 L143.8,511.0Z M49.8,397.0 L49.0,397.6 L48.8,396.7 L49.2,395.7 L49.6,394.9 L50.3,394.2 L50.5,395.0 L50.5,395.8 L50.3,396.7Z M49.8,435.6 L51.0,436.5 L52.1,438.3 L51.8,440.1 L51.6,442.5 L50.5,439.9 L49.6,437.9Z M45.0,384.7 L44.8,386.3 L44.2,388.3 L41.9,389.4 L42.0,387.5 L43.2,385.6Z M142.3,508.1 L143.9,508.9 L141.9,510.0 L138.6,509.7 L137.1,508.8 L139.9,508.2Z M52.4,445.4 L53.4,442.9 L55.1,441.3 L57.1,441.9 L56.8,444.4 L55.8,446.5 L53.8,447.0Z M126.4,510.2 L127.3,512.1 L127.2,513.5 L124.9,512.5 L124.0,510.7 L124.4,509.8Z M48.3,451.0 L48.9,453.1 L47.6,456.0 L46.4,455.3 L46.0,453.4 L46.3,450.9 L47.6,449.1Z M58.6,445.2 L59.2,446.2 L58.3,448.2 L57.4,449.0 L56.4,450.1 L56.2,448.6 L56.6,447.2 L56.9,445.2 L58.0,444.3Z M68.3,496.0 L68.2,495.0 L69.6,495.5 L70.5,496.7 L70.8,497.7 L70.0,497.6 L69.1,498.0 L68.5,496.7Z M34.7,429.5 L35.1,428.8 L35.3,429.5 L35.0,430.5 L34.5,431.4 L34.3,430.8 L34.3,430.1Z M79.1,490.1 L78.9,490.7 L78.2,490.4 L77.4,490.2 L77.2,489.3 L77.0,488.4 L77.6,488.2 L78.4,488.4 L79.1,489.2Z M59.4,459.0 L60.9,460.7 L61.7,461.9 L60.7,462.8 L58.4,461.1 L57.5,460.1 L56.7,458.5Z M54.4,421.0 L55.2,420.2 L56.0,420.4 L56.2,421.4 L56.3,423.0 L55.2,423.6 L54.6,422.4Z M50.4,426.2 L51.2,427.0 L52.0,427.7 L51.7,429.4 L50.5,430.5 L49.4,430.0 L49.5,428.7 L49.3,427.5Z M99.0,506.1 L98.3,506.3 L97.5,506.3 L97.1,505.8 L97.8,505.3 L98.8,505.1 L99.2,505.4 L99.8,505.7Z M133.0,510.8 L132.4,509.1 L132.3,508.0 L133.4,506.9 L135.6,506.9 L137.4,507.9 L137.2,509.6 L135.1,509.9Z M43.4,426.1 L43.6,424.8 L45.5,423.8 L47.3,422.5 L47.9,423.4 L46.6,425.1 L45.1,426.1 L44.1,426.5Z M63.1,487.5 L61.9,487.1 L60.7,486.2 L60.8,485.4 L62.0,486.0 L62.8,486.6Z M49.0,474.8 L49.6,476.0 L49.2,477.2 L48.2,477.5 L47.0,476.7 L46.8,474.9 L47.8,473.8Z M63.4,470.6 L62.1,468.7 L61.7,467.0 L62.3,466.6 L63.1,466.7 L64.1,468.0 L65.6,469.7 L64.9,470.3 L64.3,470.6Z M51.2,404.1 L49.8,404.8 L49.0,402.6 L47.9,401.1 L47.9,398.5 L49.6,399.0 L50.8,398.5 L52.2,400.0 L52.0,402.4Z M136.4,510.0 L136.3,509.3 L136.3,508.1 L137.6,509.1 L138.1,510.1 L138.0,510.8 L137.2,511.3Z M69.4,478.1 L68.9,478.9 L68.1,478.2 L67.5,477.3 L67.9,476.5 L68.4,476.2 L68.9,476.1 L69.4,476.8 L70.1,477.7Z M58.3,445.6 L57.0,443.2 L57.1,440.3 L58.0,439.5 L59.2,440.6 L59.5,444.0Z M64.8,398.6 L63.9,399.8 L63.1,400.5 L62.1,400.9 L62.5,398.8 L62.8,397.0 L63.8,395.8 L64.4,396.5 L65.0,397.0Z M77.5,492.4 L76.3,491.1 L75.6,489.8 L76.2,488.7 L77.5,489.0 L79.6,490.2 L79.6,492.7Z M78.1,498.0 L80.7,498.0 L82.6,498.4 L81.8,499.6 L81.1,500.8 L78.8,500.9 L77.8,500.2 L76.3,499.4Z M50.2,406.2 L50.7,405.3 L51.0,404.6 L51.4,404.4 L51.6,404.4 L51.9,404.7 L51.2,405.7 L50.7,406.0Z M61.5,443.0 L60.1,444.0 L59.1,444.1 L58.3,443.1 L58.3,441.4 L59.4,440.4 L60.6,441.2Z M81.1,486.5 L80.5,487.0 L79.3,486.9 L77.6,486.3 L76.6,485.1 L77.2,484.6 L78.4,484.5 L79.9,485.4Z M54.2,414.2 L54.6,413.9 L55.4,413.0 L55.1,414.5 L55.2,415.4 L54.8,416.3 L54.3,416.4 L54.0,416.0 L54.0,415.2Z M69.9,376.1 L70.6,376.9 L70.9,378.5 L69.9,379.8 L69.4,378.9 L69.4,377.8Z M66.0,389.9 L65.3,389.9 L64.9,389.5 L64.8,388.8 L64.7,387.6 L65.6,387.2 L66.2,387.3 L66.3,388.2 L66.5,389.0Z M40.1,407.1 L40.8,408.9 L41.3,410.6 L40.6,410.4 L40.0,410.4 L39.3,408.9 L38.7,407.1 L39.5,407.4Z M70.0,485.9 L69.9,486.5 L68.6,487.1 L67.2,487.0 L66.6,486.7 L66.0,486.3 L67.3,485.7 L68.9,485.0 L70.0,485.4Z M64.4,473.0 L63.0,472.9 L61.1,471.7 L59.6,470.4 L60.2,469.9 L61.6,470.5 L62.6,471.0 L63.5,471.8Z M99.2,506.8 L100.0,506.8 L99.8,507.2 L99.0,507.7 L97.9,508.1 L97.1,508.0 L98.0,507.3Z M51.2,394.6 L48.9,393.5 L49.1,390.3 L50.7,389.5 L52.4,389.7 L52.6,392.3Z M85.6,500.7 L83.9,498.9 L83.8,497.3 L85.6,497.9 L87.5,499.7 L88.4,501.8 L87.3,502.1Z M69.6,386.2 L69.1,386.1 L68.6,385.4 L69.1,384.9 L69.3,384.7 L69.7,384.5 L70.2,384.8 L70.2,385.4 L70.1,386.1Z M49.0,417.7 L48.4,420.0 L46.4,421.4 L44.7,422.1 L43.7,421.2 L44.5,419.1 L45.1,416.8 L46.9,416.9 L48.4,416.4Z M61.2,438.1 L61.0,440.6 L59.4,440.8 L58.4,439.6 L57.8,438.3 L57.9,436.7 L58.6,434.9 L60.0,434.5 L60.7,436.4Z M109.5,506.3 L110.9,505.5 L112.3,505.0 L113.6,504.8 L113.0,505.5 L112.1,506.1 L110.7,506.9 L110.2,506.5Z M97.0,496.4 L96.9,497.8 L96.5,498.8 L95.1,497.6 L93.7,496.0 L94.1,494.7 L94.3,493.0 L95.8,494.9Z M59.3,373.0 L60.4,371.9 L62.2,373.5 L62.8,376.6 L62.0,378.1 L60.7,377.6 L59.6,375.5Z M47.6,447.4 L47.5,448.2 L47.2,448.7 L46.4,448.4 L46.5,447.7 L46.7,447.0Z M57.3,456.5 L57.7,454.6 L58.6,454.4 L59.1,455.1 L59.9,455.5 L59.9,457.4 L59.0,457.8 L58.4,459.4 L58.0,457.8Z M56.4,410.5 L55.5,410.8 L55.6,409.6 L55.9,408.6 L56.8,408.3 L57.2,409.2 L56.9,410.1Z M54.4,438.9 L55.3,441.2 L55.2,443.0 L54.7,445.4 L52.8,445.3 L51.9,444.1 L50.2,442.4 L52.1,440.0Z M50.1,453.3 L50.1,454.5 L49.5,455.6 L48.1,454.9 L47.0,453.4 L47.5,452.2 L48.1,451.0 L49.4,452.1Z M55.8,425.2 L54.8,426.3 L54.1,425.3 L53.6,424.8 L52.9,423.8 L54.1,423.0 L55.0,422.1 L56.2,422.4 L56.6,423.8Z M80.5,495.6 L80.2,495.9 L79.5,496.2 L78.9,495.7 L78.4,495.1 L79.4,494.8 L80.3,495.1Z M107.5,503.5 L109.1,503.1 L110.1,502.4 L111.5,502.4 L111.3,503.3 L110.9,503.9 L110.2,504.7 L109.0,504.5 L108.0,504.2Z M92.8,503.4 L91.8,502.6 L92.9,502.5 L94.0,502.3 L95.7,502.9 L96.3,503.7 L95.8,504.1 L95.1,504.3 L93.7,504.1Z M39.4,426.3 L39.8,424.0 L41.1,424.1 L41.6,425.5 L41.2,427.2 L40.2,429.0 L39.0,428.5Z M46.1,425.3 L46.4,421.6 L48.5,421.2 L50.2,423.4 L49.7,426.5 L47.9,427.9Z M38.3,420.1 L37.8,417.4 L39.8,414.9 L41.7,415.2 L41.5,418.0 L40.0,419.6Z M75.5,486.3 L74.6,483.7 L74.9,482.9 L76.1,483.5 L77.5,485.2 L78.1,487.0 L77.6,487.9Z M55.0,430.8 L54.6,430.1 L55.0,430.0 L55.4,430.1 L56.0,430.5 L56.2,431.3 L55.7,431.4 L55.3,431.3Z M51.3,398.1 L51.6,396.1 L51.7,395.0 L52.6,393.2 L54.5,392.5 L55.1,394.0 L54.4,395.7 L53.2,397.4Z M52.6,425.9 L53.9,425.3 L55.6,425.8 L57.3,428.2 L55.8,430.2 L54.3,430.7 L52.3,430.4 L51.5,427.7Z M55.2,446.4 L55.6,447.1 L55.6,447.7 L55.6,448.1 L55.4,448.2 L55.0,447.5 L54.8,446.8 L54.8,446.1Z M67.1,482.8 L68.0,483.3 L68.8,483.9 L68.7,485.2 L68.3,486.9 L67.3,486.2 L66.6,485.4 L66.7,484.2Z M117.7,511.0 L115.9,509.9 L115.4,508.7 L117.6,508.9 L119.1,508.9 L121.3,509.7 L123.1,511.2 L122.4,512.2 L119.9,511.9Z M105.1,505.3 L105.6,507.3 L107.2,509.1 L104.7,509.2 L102.9,509.1 L102.1,507.8 L100.2,506.0 L102.7,505.7Z M127.5,508.7 L127.6,509.4 L127.2,509.6 L126.6,509.3 L125.8,508.6 L126.2,508.3 L126.6,508.0Z M43.6,391.4 L43.9,390.1 L44.8,389.0 L45.6,389.0 L45.7,390.3 L44.8,391.7 L43.8,392.4Z M37.7,416.5 L36.4,416.2 L36.7,414.6 L38.0,413.6 L39.7,413.0 L39.1,415.0Z M105.7,504.3 L104.9,505.5 L102.9,504.8 L101.0,504.4 L100.6,503.2 L102.0,502.2 L104.0,501.9 L106.4,502.1 L105.8,503.4Z M102.6,499.0 L102.4,500.4 L102.2,501.4 L101.2,502.7 L98.8,501.7 L97.4,499.8 L96.7,497.7 L99.3,498.0 L100.8,498.3Z M108.2,503.2 L108.3,504.5 L106.2,504.6 L104.9,503.9 L104.4,503.1 L104.4,502.1 L105.9,501.7 L107.2,502.1 L109.3,502.2Z M61.4,468.5 L61.9,468.8 L62.5,469.9 L62.1,470.7 L61.2,469.9 L60.7,468.5Z M57.9,396.6 L57.2,396.3 L58.4,394.9 L59.5,394.4 L60.6,394.1 L60.1,395.5 L58.7,396.8Z M66.6,488.9 L67.8,490.1 L69.2,491.2 L68.1,492.3 L66.3,491.5 L65.0,490.7 L64.4,489.1Z M67.1,472.4 L68.3,472.8 L69.7,474.3 L69.1,475.6 L68.3,476.0 L66.7,475.6 L65.8,473.1Z M54.6,393.9 L53.8,394.3 L53.2,394.0 L53.5,393.2 L54.0,392.6 L54.5,393.0Z M59.0,463.2 L58.3,461.8 L58.7,460.0 L59.6,459.9 L60.1,461.4 L60.1,463.4Z M59.2,418.1 L60.3,416.8 L61.6,415.6 L61.3,417.5 L61.1,418.8 L60.2,419.3 L59.6,419.1Z M50.2,441.4 L48.1,440.9 L48.3,438.8 L48.6,437.1 L50.6,437.1 L51.0,439.4 L51.3,440.8Z M44.0,457.4 L42.4,455.0 L40.7,452.7 L41.6,451.4 L43.8,453.0 L45.8,454.3 L46.2,456.2 L45.9,457.6Z M58.7,471.0 L55.9,471.5 L54.4,469.4 L55.1,468.0 L57.7,467.6 L60.0,469.5Z M45.2,393.1 L44.2,395.9 L41.5,396.8 L40.0,396.0 L40.8,393.6 L44.0,391.3Z M52.4,447.1 L54.6,446.3 L55.7,448.0 L54.9,451.0 L53.1,451.3 L51.7,450.4Z M50.2,379.5 L49.2,380.8 L48.3,381.0 L48.9,379.1 L49.5,377.7 L50.5,376.5 L51.1,376.7 L51.3,377.8Z M50.1,432.1 L50.3,433.0 L50.2,433.9 L49.8,433.1 L49.5,432.1 L49.7,431.6Z M61.6,475.6 L63.3,476.5 L64.5,478.3 L63.6,478.6 L62.5,478.7 L61.3,477.0 L59.8,475.6 L60.6,475.3Z M46.7,381.9 L46.3,381.9 L46.0,381.4 L46.4,380.2 L46.7,378.8 L47.4,378.0 L47.7,378.7 L47.8,379.6 L47.4,381.2Z M39.4,413.6 L39.7,412.3 L40.6,411.5 L41.7,410.2 L41.9,411.3 L41.6,412.3 L40.9,413.0 L40.3,413.3Z M46.1,464.7 L45.7,462.4 L47.1,461.8 L48.2,462.6 L48.3,465.1 L46.9,465.7Z M65.8,371.3 L65.4,370.1 L65.7,368.9 L66.7,369.6 L67.5,370.0 L68.0,371.3 L67.6,372.5 L66.5,372.7Z M50.7,465.9 L51.4,465.6 L52.6,465.7 L53.6,466.5 L52.7,466.8 L52.0,466.9 L50.5,466.7Z M96.8,499.9 L97.6,498.8 L99.1,498.0 L100.5,498.4 L103.3,498.3 L102.6,500.1 L100.3,500.6 L98.8,501.5 L96.7,501.2Z M51.4,372.3 L51.9,372.7 L51.4,374.2 L51.0,375.1 L50.3,375.9 L50.5,374.3 L50.8,372.7Z M75.3,486.1 L76.2,486.4 L76.8,487.4 L77.1,488.4 L76.5,489.1 L75.4,488.3 L74.6,487.6 L74.3,486.8 L74.3,486.0Z M57.1,381.8 L56.6,381.3 L56.2,380.3 L56.8,379.9 L57.6,379.9 L58.2,381.0 L57.6,381.7Z M54.0,430.3 L53.5,428.0 L54.4,425.3 L56.5,424.1 L58.1,424.8 L57.9,427.6 L55.9,428.6Z M50.3,478.2 L50.6,478.5 L50.7,478.8 L50.6,479.2 L49.9,478.7 L49.3,478.1 L49.6,477.9 L49.8,477.9Z M57.7,401.2 L57.3,404.2 L56.1,403.3 L54.9,402.0 L55.0,398.3 L56.3,396.4 L57.2,398.8Z M47.5,402.9 L48.1,402.8 L48.7,403.2 L49.0,404.4 L48.4,404.5 L47.9,404.0Z M56.0,415.2 L57.0,416.3 L56.8,418.1 L55.9,419.1 L54.9,419.3 L53.5,419.0 L54.1,416.9 L54.0,415.2 L55.0,414.1Z M45.5,444.1 L45.3,445.2 L45.3,446.4 L44.8,446.2 L44.1,446.1 L44.2,444.7 L44.3,443.9 L44.5,442.6 L45.1,442.8Z M87.4,489.0 L89.4,490.3 L86.6,490.4 L84.7,490.1 L81.9,489.3 L84.0,488.5 L86.0,488.1Z M75.1,490.4 L74.8,491.1 L73.8,491.1 L73.0,491.0 L72.6,490.4 L72.6,489.6 L73.5,489.3 L74.6,489.6Z M90.7,505.1 L90.9,506.3 L89.8,505.7 L89.2,504.3 L89.3,503.4 L90.2,504.1Z M51.8,382.6 L52.6,382.9 L52.4,383.9 L52.0,385.6 L50.9,386.0 L50.6,385.4 L50.7,384.5Z M48.6,409.3 L48.0,409.9 L47.9,408.1 L47.9,406.4 L48.5,406.5 L49.0,407.7Z M38.9,421.5 L39.9,420.5 L40.5,420.5 L40.8,420.8 L40.0,422.1 L39.1,422.4 L38.7,422.3Z M112.9,509.6 L114.0,509.0 L115.2,508.8 L115.7,509.3 L116.0,509.8 L115.2,510.6 L113.6,510.6 L113.1,510.1Z M102.1,507.1 L102.7,506.7 L103.2,506.2 L104.0,506.7 L104.3,507.2 L104.2,507.6 L103.5,507.8 L102.9,507.5Z M58.1,402.0 L58.8,402.4 L59.5,403.5 L58.7,404.3 L57.7,404.7 L57.2,403.3 L57.0,401.8Z M112.1,503.3 L112.9,505.3 L110.6,505.2 L108.4,505.0 L106.9,503.1 L107.6,501.6 L110.1,501.8Z M128.9,507.2 L130.9,507.0 L132.5,507.9 L131.1,509.8 L129.4,509.6 L127.7,509.1Z M39.4,446.5 L39.1,445.6 L39.2,445.0 L39.9,445.1 L40.6,445.5 L41.0,446.3 L40.9,446.9 L40.2,446.8Z M78.0,497.4 L78.8,496.8 L79.5,496.6 L80.6,496.8 L81.3,497.7 L82.1,498.8 L81.4,499.4 L80.1,499.8 L78.5,498.7Z M60.7,482.4 L61.6,484.8 L60.0,486.0 L57.8,485.4 L55.4,484.1 L55.3,482.0 L57.7,481.7Z M56.6,420.8 L54.5,421.6 L53.5,421.0 L53.7,419.7 L54.3,417.2 L56.4,417.2 L57.6,418.3Z M113.0,506.3 L111.8,507.2 L109.7,507.0 L108.3,505.7 L108.6,504.4 L109.1,503.4 L110.7,503.5 L112.1,504.0 L113.4,505.0Z M94.9,498.5 L96.7,499.3 L95.6,500.4 L93.3,500.4 L91.1,499.8 L92.2,498.5Z M47.0,425.8 L45.9,424.6 L46.5,423.3 L47.1,422.5 L48.0,423.4 L49.0,424.3 L49.3,426.3 L48.3,426.8 L47.6,427.4Z M52.1,472.2 L51.7,470.7 L53.1,470.7 L54.7,472.6 L55.0,474.5 L53.1,473.4Z M53.6,438.8 L54.2,438.0 L54.6,438.3 L55.2,438.4 L54.8,439.5 L54.3,439.8 L53.7,440.7 L53.6,439.8Z M48.8,468.8 L49.3,466.8 L50.3,468.0 L51.4,469.6 L50.7,471.5 L50.6,473.5 L49.6,473.3 L49.2,470.9Z M59.2,465.3 L59.3,464.8 L59.3,464.4 L59.7,464.7 L60.2,465.3 L60.3,465.9 L60.2,466.3 L59.7,465.9Z M48.1,453.5 L47.6,455.8 L46.3,456.0 L45.6,455.5 L45.4,453.8 L47.0,452.5 L47.9,451.7 L48.9,451.6Z M77.6,483.8 L79.6,483.6 L81.3,484.5 L81.8,486.3 L81.1,487.2 L79.4,486.4Z M118.4,506.7 L120.1,507.2 L121.2,508.0 L120.8,508.7 L119.2,508.1 L118.5,507.5Z M49.3,395.9 L49.9,396.5 L48.9,397.7 L47.6,398.4 L46.8,398.1 L47.5,396.7Z M55.3,381.6 L56.0,381.1 L56.6,381.3 L56.2,382.2 L55.6,382.8 L54.8,382.7Z M80.3,494.7 L78.8,494.0 L79.5,493.2 L80.0,492.4 L81.6,492.9 L82.0,493.5 L81.8,494.1Z M41.1,440.4 L40.2,439.2 L41.0,438.4 L42.2,438.9 L42.9,440.0 L42.5,441.1Z M48.7,444.9 L47.0,443.9 L47.3,441.3 L47.0,439.6 L47.7,437.5 L49.1,439.0 L50.3,439.4 L50.9,441.4 L50.1,443.2Z M43.8,403.5 L46.2,402.0 L48.1,402.8 L47.1,405.4 L45.0,407.1 L43.3,406.1Z M52.5,455.7 L53.5,454.6 L54.4,454.8 L54.6,455.8 L54.8,456.8 L54.2,458.0 L53.1,458.3 L53.1,456.8Z M76.7,488.9 L77.8,489.5 L77.4,489.8 L77.0,490.0 L76.4,489.9 L75.7,489.3 L75.1,488.6 L75.4,488.3 L75.9,488.1Z M51.8,446.8 L52.8,449.9 L51.0,452.8 L48.8,453.7 L48.0,450.6 L49.4,447.7Z M53.5,450.8 L52.3,452.3 L52.0,450.7 L51.8,449.7 L52.4,448.4 L53.4,447.0 L53.7,448.3 L54.3,449.1Z M50.2,449.4 L52.0,450.3 L53.4,453.0 L53.8,455.2 L52.2,454.2 L51.0,452.2Z M59.0,465.7 L61.4,467.1 L62.1,468.8 L62.3,470.4 L59.8,469.8 L57.5,468.7 L56.5,467.0 L57.8,466.5Z M96.1,496.7 L98.5,496.3 L101.6,497.1 L103.0,498.4 L101.0,498.8 L98.6,499.1 L96.1,497.9Z M72.3,384.7 L71.9,385.0 L71.5,385.3 L71.2,384.8 L71.4,384.1 L71.6,383.3 L72.0,383.5 L72.4,383.4 L72.6,383.9Z M52.1,418.7 L54.2,417.4 L55.8,418.0 L57.1,420.7 L55.2,422.1 L52.8,422.7Z M63.2,480.8 L62.9,481.4 L62.0,482.1 L61.0,480.7 L61.6,480.1 L62.6,479.9Z M35.2,434.6 L35.0,433.9 L35.0,433.4 L35.0,432.8 L35.3,433.0 L35.7,432.9 L35.9,433.6 L35.8,434.2 L35.5,434.3Z M40.1,450.6 L39.6,451.1 L38.6,450.8 L37.8,449.7 L38.5,448.9 L38.9,448.3 L39.7,448.2 L40.1,449.1 L40.3,449.9Z M44.5,403.8 L43.9,404.8 L42.4,404.5 L40.8,402.5 L40.8,400.3 L42.2,399.8 L43.7,400.6 L45.1,402.3Z M83.3,496.3 L84.5,495.1 L87.7,494.8 L89.8,496.0 L89.0,497.3 L86.1,497.0Z M119.8,510.5 L119.1,509.3 L121.3,509.2 L123.2,510.1 L124.3,511.2 L123.3,512.3 L120.4,511.9Z M58.4,475.5 L58.4,473.6 L60.3,473.9 L61.6,475.5 L62.9,476.8 L62.4,478.0 L61.6,478.7 L59.9,479.3 L57.9,477.4Z M62.3,400.0 L61.7,402.0 L60.8,403.3 L60.3,401.9 L59.3,401.4 L60.3,399.4 L60.7,397.9 L61.4,398.0 L62.4,397.7Z M43.2,450.6 L43.9,452.7 L43.1,453.3 L41.8,452.5 L40.9,450.5 L40.1,449.0 L40.4,448.3 L41.1,448.2 L42.2,448.9Z M59.9,492.2 L59.1,491.4 L58.3,489.8 L58.4,488.4 L58.7,487.6 L59.4,489.4 L59.9,490.8Z M49.7,445.7 L50.6,445.1 L51.3,445.0 L51.4,445.9 L50.6,446.5 L49.9,446.6Z M91.6,508.0 L91.4,506.2 L93.8,505.0 L96.5,504.9 L96.9,506.4 L94.6,507.4Z M49.3,456.5 L48.8,456.8 L48.6,457.4 L48.3,456.5 L48.0,455.7 L48.3,455.1 L48.6,454.4 L49.1,455.3Z M59.1,452.7 L59.2,455.2 L58.5,456.3 L57.7,454.2 L57.6,452.1 L57.2,449.3 L58.1,449.5 L59.0,449.9Z M47.6,376.4 L48.3,377.1 L47.7,378.1 L46.8,378.5 L46.6,377.5 L46.5,376.6 L47.0,375.8Z M47.7,436.5 L47.2,438.2 L46.2,438.5 L45.5,438.3 L45.5,436.8 L46.7,436.2Z M48.4,468.0 L47.0,467.4 L47.3,466.4 L48.0,465.6 L49.6,466.2 L50.1,467.2 L51.0,468.3 L49.8,468.9Z M53.2,479.1 L53.4,482.2 L51.9,483.4 L51.2,480.8 L50.9,478.2 L52.2,477.3Z M44.7,384.1 L44.7,386.3 L43.9,386.8 L43.3,385.5 L43.6,383.3 L44.1,382.0 L44.6,382.8Z M118.3,506.8 L117.4,506.9 L117.9,506.2 L118.7,505.9 L119.6,505.9 L119.1,506.6Z M150.3,510.3 L147.9,510.8 L144.7,511.3 L145.1,509.7 L145.7,508.3 L148.3,508.4 L151.3,508.7Z M67.8,480.1 L68.0,481.5 L67.2,481.7 L66.7,481.3 L66.3,480.3 L66.8,479.5 L67.4,479.4Z M47.4,412.5 L48.9,411.8 L51.1,413.8 L50.3,416.6 L48.1,417.8 L46.9,414.4Z M37.3,398.6 L38.6,395.8 L40.2,396.9 L41.6,398.8 L40.4,400.6 L38.6,402.2Z M61.1,411.3 L62.6,412.2 L62.1,414.6 L60.2,416.4 L58.3,416.7 L58.2,414.9 L58.4,413.6 L59.2,411.2Z M40.8,421.4 L42.4,422.8 L41.6,425.5 L40.2,426.4 L38.2,425.8 L38.9,422.3Z M55.3,475.9 L57.2,477.4 L56.7,478.7 L55.5,479.2 L53.7,478.1 L53.9,476.7Z M56.8,461.4 L58.1,461.6 L58.9,463.2 L59.6,464.7 L59.3,466.3 L58.1,465.9 L57.3,465.5 L55.9,464.7 L56.2,463.0Z M53.1,475.2 L52.9,475.9 L52.2,475.7 L52.2,474.5 L52.5,473.6 L53.0,474.5Z M53.2,395.9 L54.4,395.7 L54.1,396.9 L53.6,398.0 L52.0,398.9 L51.4,397.6 L52.1,396.3Z M38.0,433.1 L37.3,433.5 L36.4,433.5 L36.2,432.4 L36.5,431.6 L37.5,431.9Z M46.9,429.0 L47.2,430.0 L47.3,430.8 L46.8,431.1 L46.5,430.3 L46.4,429.2Z M52.8,372.7 L52.3,373.2 L51.4,373.6 L51.8,372.7 L52.3,372.1 L53.2,371.8Z M51.4,382.7 L51.8,383.7 L51.2,385.6 L50.2,386.6 L49.8,385.6 L50.1,383.0Z M63.5,368.8 L64.1,368.4 L64.7,367.5 L65.4,368.3 L65.8,369.7 L65.2,370.7 L64.6,371.1 L64.1,370.4 L63.3,370.0Z M111.6,506.9 L111.1,507.7 L110.3,507.8 L109.5,508.0 L109.8,507.2 L110.2,506.7 L110.9,506.6Z M62.8,388.3 L64.3,386.0 L65.7,383.9 L68.0,384.0 L69.3,386.4 L68.5,389.7 L66.2,390.9 L64.0,390.7Z M43.8,459.1 L43.1,460.0 L42.8,460.6 L42.0,461.5 L41.9,460.1 L41.6,459.0 L42.0,457.7 L42.8,457.8 L43.2,458.4Z M131.5,509.1 L130.0,507.9 L130.0,506.9 L131.2,506.2 L133.6,507.1 L134.2,508.4 L133.5,509.2Z M60.2,436.0 L58.7,436.0 L56.7,436.2 L55.3,433.3 L57.0,432.6 L58.2,431.4 L59.6,433.9Z M68.5,479.5 L69.8,479.3 L70.7,480.5 L71.3,481.6 L70.7,482.4 L69.5,481.8 L68.2,480.8Z M62.8,373.6 L63.3,375.8 L62.4,377.7 L61.6,376.6 L61.1,376.1 L60.7,374.6 L61.0,372.3 L61.8,372.5 L62.7,371.5Z M52.7,391.5 L54.7,390.5 L55.2,391.8 L54.9,393.0 L54.2,394.9 L52.0,395.5 L51.2,394.5 L51.8,393.0Z M125.2,507.9 L124.7,507.1 L125.2,506.7 L126.1,506.7 L126.4,507.6 L126.1,508.3Z M60.1,474.8 L60.2,475.5 L59.9,476.0 L59.4,476.0 L59.0,475.5 L58.9,474.9 L58.9,474.3 L59.3,474.2 L59.8,474.2Z M45.8,448.5 L46.9,449.2 L47.8,450.5 L47.5,452.0 L47.0,453.0 L46.3,452.2 L45.8,451.5 L45.6,450.3Z M65.0,489.5 L64.7,488.8 L64.9,488.3 L65.0,487.6 L65.5,488.1 L66.1,488.5 L66.0,489.1 L65.6,489.4Z M61.3,378.5 L60.5,379.1 L60.0,377.9 L60.4,377.2 L61.2,376.6 L61.7,377.7Z M66.4,477.3 L66.3,476.1 L66.7,475.5 L67.2,475.2 L68.0,476.1 L68.2,477.1 L68.8,478.6 L68.0,478.8 L67.2,478.2Z M142.2,510.0 L140.8,510.0 L139.7,509.2 L139.7,508.4 L140.4,507.8 L141.6,508.3 L142.4,508.6 L142.5,509.2Z M43.3,437.8 L44.4,438.8 L45.2,439.7 L45.7,440.7 L45.4,441.4 L44.3,441.3 L43.2,440.0 L42.2,438.8 L42.2,437.7Z M58.1,392.1 L59.5,393.3 L59.7,395.9 L58.8,397.5 L57.3,396.8 L56.6,394.5 L57.3,393.2Z M61.2,479.7 L61.9,481.8 L61.0,483.2 L59.4,482.0 L58.3,480.7 L58.7,478.8Z M52.5,466.2 L52.5,465.5 L52.8,465.6 L53.0,466.0 L52.9,466.7 L52.7,467.4 L52.6,466.7Z M102.3,507.5 L102.5,507.9 L102.4,508.6 L101.2,508.7 L100.3,508.2 L100.8,507.5 L101.6,506.9Z M59.3,388.6 L58.7,389.0 L58.6,388.3 L58.8,387.3 L59.3,385.9 L59.8,386.1 L59.9,387.1Z M62.9,482.7 L64.1,483.6 L64.4,485.5 L63.8,487.1 L62.2,486.1 L61.8,483.9 L61.7,482.2Z M48.5,401.5 L50.2,401.2 L52.1,402.1 L51.1,405.0 L49.5,406.8 L48.0,404.5Z M97.3,506.4 L96.4,505.4 L97.4,504.9 L98.6,504.7 L100.4,504.7 L102.0,505.9 L101.0,506.9 L99.9,507.3 L98.2,507.7Z M54.2,430.2 L56.0,429.0 L55.7,432.7 L55.1,435.3 L54.0,435.2 L53.3,433.4Z" fill="#fff" stroke="#000" stroke-width="1.1"/><path d="M94.2,480.1 L101.7,479.6 L108.3,478.2 L111.1,475.4 L114,479.2 L117.7,480.1 L120.6,479.2 L121.5,480.1 L121.5,505.6 L115,504 L108,500 L102,496 L97,493 L94,488Z" fill="#fff" stroke="#000" stroke-width="1.2"/><path d="M100.8,486.7 L112.1,488.1 L113,489.5 L104.5,491.4 L101.7,493.3 M80,483.9 L90.4,482 L83.8,486.7 M94.2,480.1 L95,484 L93.2,489.5 L96,493.3 M171.5,506.3 L175,505 L181,505.1 L180.2,506.8 L174,507.2Z" fill="none" stroke="#000" stroke-width="1.2"/><path d="M211.3,468.3 L213,466.8 L215,468.5 L218,469.4 L220,468.3 L222.5,469 L221.5,465.2 L223.5,465.8 L224,462.8 L226.5,463.5 L229,462.2 L232,462.5 L236,463 L238.5,463.8 L237,466 L234,467.5 L230,469.8 L226,472 L222,474 L218,474.2 L215,472.5 Z M239.5,462.8 L245,462.3 L250,463.3 L254,464.3 L256.6,466.5 L256,469 L252,470.2 L248,471.5 L244,473 L240,474.5 L235,476 L232,475.2 L236,471.5 L238.5,468 L238,465 Z" fill="#fff" stroke="#000" stroke-width="1.5" stroke-linejoin="round"/><path d="M219,470.5 L222.5,472.5 M226,466.5 L230.5,467.2 M233,473 L237.5,469.5 M238,475.5 L241.5,471.5 M243,473 L246,470.5 M248,466 L252,467 M214.2,459.9 h1" fill="none" stroke="#000" stroke-width="1.2"/></g><text x="1033.5" y="142.9" font-family="Liberation Sans" font-size="24" fill="#000" textLength="58.6" lengthAdjust="spacingAndGlyphs">N-SN</text><text x="976.6" y="169.7" font-family="Liberation Sans" font-size="24" fill="#000" textLength="19.3" lengthAdjust="spacingAndGlyphs">N</text><text x="1092.6" y="196" font-family="Liberation Sans" font-size="24" fill="#000" textLength="19.6" lengthAdjust="spacingAndGlyphs">N</text><text x="1012.8" y="249.3" font-family="Liberation Sans" font-size="24" fill="#000" textLength="37.1" lengthAdjust="spacingAndGlyphs">SN</text><text x="929.7" y="257.6" font-family="Liberation Sans" font-size="24" fill="#000" textLength="58.2" lengthAdjust="spacingAndGlyphs">N-SN</text><text x="1072.1" y="278.7" font-family="Liberation Sans" font-size="24" fill="#000" textLength="59.4" lengthAdjust="spacingAndGlyphs">N-SN</text><text x="948.1" y="381" font-family="Liberation Sans" font-size="24" fill="#000" textLength="36.7" lengthAdjust="spacingAndGlyphs">SN</text><text x="927.9" y="461.2" font-family="Liberation Sans" font-size="24" fill="#000" textLength="59.0" lengthAdjust="spacingAndGlyphs">N-SN</text>
<text x="462.3" y="32.7" font-family="Liberation Sans" font-weight="bold" font-size="23.5" fill="#7F7F7F" textLength="272" lengthAdjust="spacingAndGlyphs">diciembre-enero-febrero</text>
<text x="551.5" y="64.4" font-family="Liberation Sans" font-weight="bold" font-size="23" fill="#7F7F7F" textLength="92.8" lengthAdjust="spacingAndGlyphs">2025/26</text>
<text x="142.3" y="50.8" font-family="Liberation Sans" font-weight="bold" font-size="14.3" fill="#000" textLength="91.4" lengthAdjust="spacingAndGlyphs">Precipitación</text>
<text x="989.7" y="53.9" font-family="Liberation Sans" font-weight="bold" font-size="14.3" fill="#000" textLength="90" lengthAdjust="spacingAndGlyphs">Temperatura</text>
<text x="544.9" y="148.7" font-family="Liberation Sans" font-weight="bold" font-size="18" fill="#000" textLength="103.1" lengthAdjust="spacingAndGlyphs">Referencias</text>
<rect x="544.9" y="150.8" width="103.1" height="1.3" fill="#000"/>
<text x="507.4" y="200.9" font-family="Liberation Sans" font-size="17.5" fill="#000" textLength="177.8" lengthAdjust="spacingAndGlyphs">Superior a la normal</text>
<text x="465.6" y="251.3" font-family="Liberation Sans" font-size="17.5" fill="#000" textLength="261.6" lengthAdjust="spacingAndGlyphs">Normal o superior a la normal</text>
<text x="563.8" y="303.7" font-family="Liberation Sans" font-size="17.5" fill="#000" textLength="65.6" lengthAdjust="spacingAndGlyphs">Normal</text>
<text x="469.3" y="354.6" font-family="Liberation Sans" font-size="17.5" fill="#000" textLength="254.1" lengthAdjust="spacingAndGlyphs">Normal o inferior a la normal</text>
<text x="512.5" y="406.5" font-family="Liberation Sans" font-size="17.5" fill="#000" textLength="167.9" lengthAdjust="spacingAndGlyphs">Inferior a la normal</text>
<text x="541.2" y="458" font-family="Liberation Sans" font-size="17.5" fill="#000" textLength="110.2" lengthAdjust="spacingAndGlyphs">Climatología</text>
<text x="537.1" y="509.1" font-family="Liberation Sans" font-size="17.5" fill="#000" textLength="118.4" lengthAdjust="spacingAndGlyphs">Estación Seca</text>
<rect x="364" y="172" width="101.0" height="46.0" fill="#88DF6C"/>
<text x="414.5" y="203.5" font-family="Liberation Sans" font-size="23.6" fill="#000" text-anchor="middle">SN</text>
<rect x="364.7" y="221.8" width="101.3" height="46.2" fill="#C8F599"/>
<text x="415.4" y="253.4" font-family="Liberation Sans" font-size="23.6" fill="#000" text-anchor="middle">N-SN</text>
<rect x="364" y="274" width="101.0" height="46.5" fill="#D7D7D7"/>
<text x="414.5" y="305.8" font-family="Liberation Sans" font-size="23.6" fill="#000" text-anchor="middle">N</text>
<rect x="364" y="325" width="102.0" height="46.0" fill="#FFCB72"/>
<text x="415.0" y="356.5" font-family="Liberation Sans" font-size="23.6" fill="#000" text-anchor="middle">N-IN</text>
<rect x="364" y="376" width="101.0" height="46.5" fill="#E29A33"/>
<text x="414.5" y="407.8" font-family="Liberation Sans" font-size="23.6" fill="#000" text-anchor="middle">IN</text>
<rect x="363.9" y="427.4" width="100.9" height="44.7" fill="#fff" stroke="#000" stroke-width="1.8"/>
<text x="414.4" y="458.2" font-family="Liberation Sans" font-size="23.6" fill="#000" text-anchor="middle">C</text>
<rect x="363" y="478" width="101.0" height="45.6" fill="#FF7B7E"/>
<text x="413.5" y="509.3" font-family="Liberation Sans" font-size="23.6" fill="#000" text-anchor="middle">ES</text>
<rect x="727" y="170" width="108" height="46.8" fill="#F08667"/>
<text x="781" y="201.9" font-family="Liberation Sans" font-size="23.6" fill="#000" text-anchor="middle">SN</text>
<rect x="727" y="222.6" width="108" height="46.0" fill="#F5C3AA"/>
<text x="781" y="254.1" font-family="Liberation Sans" font-size="23.6" fill="#000" text-anchor="middle">N-SN</text>
<rect x="727" y="274" width="108" height="46.4" fill="#D7D7D7"/>
<text x="781" y="305.7" font-family="Liberation Sans" font-size="23.6" fill="#000" text-anchor="middle">N</text>
<rect x="727" y="325.5" width="108" height="46.5" fill="#BDD7EE"/>
<text x="781" y="357.2" font-family="Liberation Sans" font-size="23.6" fill="#000" text-anchor="middle">N-IN</text>
<rect x="727" y="377" width="108" height="46.0" fill="#5B9BD5"/>
<text x="781" y="408.5" font-family="Liberation Sans" font-size="23.6" fill="#000" text-anchor="middle">IN</text>
<rect x="727.9" y="428.9" width="106.7" height="45.2" fill="#fff" stroke="#000" stroke-width="1.8"/>
<text x="781" y="460.0" font-family="Liberation Sans" font-size="23.6" fill="#000" text-anchor="middle">C</text>
<rect x="842.5" y="245.5" width="2.5" height="1.2" fill="#000"/>
<g transform="translate(0,0)"><rect x="-1" y="72.5" width="85.5" height="93.5" fill="#FEFEFE" stroke="#F7F7F7" stroke-width="0.8"/><circle cx="35.5" cy="106.3" r="21.7" fill="none" stroke="#FDB31A" stroke-width="10.6"/><path d="M30,95.7 C34,94.3 38,93.1 43.9,93.1 C49,93.3 52,95 56,95 C62,95.1 66,94.1 70,92.1 L76,90 L76,122 L70,116.6 C66,118.4 62,118.8 56,118.8 C51,118.7 48,117.3 43.9,117.3 C38,117.3 35,118.1 30,119.6 Z" fill="#fff"/><path d="M31.8,98.2 C34,96.8 38,95.6 43.9,95.6 C49,95.8 52,97.5 56,97.5 C62,97.6 66,96.6 69.8,94.6 L69.9,102.7 C66,104.6 62,105.2 56,105.1 C51,105 48,103.1 43.9,103.1 C38,103.1 35,104 31.8,105.4Z" fill="#1591D2"/><path d="M31.8,109.2 C34,107.9 38,106.9 43.9,106.9 C49,107.1 52,108.8 56,108.8 C62,108.9 66,107.9 69.8,106.4 L69.9,114.1 C66,115.9 62,116.3 56,116.3 C51,116.2 48,114.8 43.9,114.8 C38,114.8 35,115.6 31.8,117.1Z" fill="#1591D2"/><text x="7.0" y="157.9" font-family="Liberation Sans" font-size="28.5" fill="#222" stroke="#FEFEFE" stroke-width="0.7" textLength="57.5" lengthAdjust="spacingAndGlyphs">SMN</text></g>
<g transform="translate(848,2.7)"><rect x="-1" y="72.5" width="85.5" height="93.5" fill="#FEFEFE" stroke="#F7F7F7" stroke-width="0.8"/><circle cx="35.5" cy="106.3" r="21.7" fill="none" stroke="#FDB31A" stroke-width="10.6"/><path d="M30,95.7 C34,94.3 38,93.1 43.9,93.1 C49,93.3 52,95 56,95 C62,95.1 66,94.1 70,92.1 L76,90 L76,122 L70,116.6 C66,118.4 62,118.8 56,118.8 C51,118.7 48,117.3 43.9,117.3 C38,117.3 35,118.1 30,119.6 Z" fill="#fff"/><path d="M31.8,98.2 C34,96.8 38,95.6 43.9,95.6 C49,95.8 52,97.5 56,97.5 C62,97.6 66,96.6 69.8,94.6 L69.9,102.7 C66,104.6 62,105.2 56,105.1 C51,105 48,103.1 43.9,103.1 C38,103.1 35,104 31.8,105.4Z" fill="#1591D2"/><path d="M31.8,109.2 C34,107.9 38,106.9 43.9,106.9 C49,107.1 52,108.8 56,108.8 C62,108.9 66,107.9 69.8,106.4 L69.9,114.1 C66,115.9 62,116.3 56,116.3 C51,116.2 48,114.8 43.9,114.8 C38,114.8 35,115.6 31.8,117.1Z" fill="#1591D2"/><text x="7.0" y="157.9" font-family="Liberation Sans" font-size="28.5" fill="#222" stroke="#FEFEFE" stroke-width="0.7" textLength="57.5" lengthAdjust="spacingAndGlyphs">SMN</text></g></svg></body></html>
